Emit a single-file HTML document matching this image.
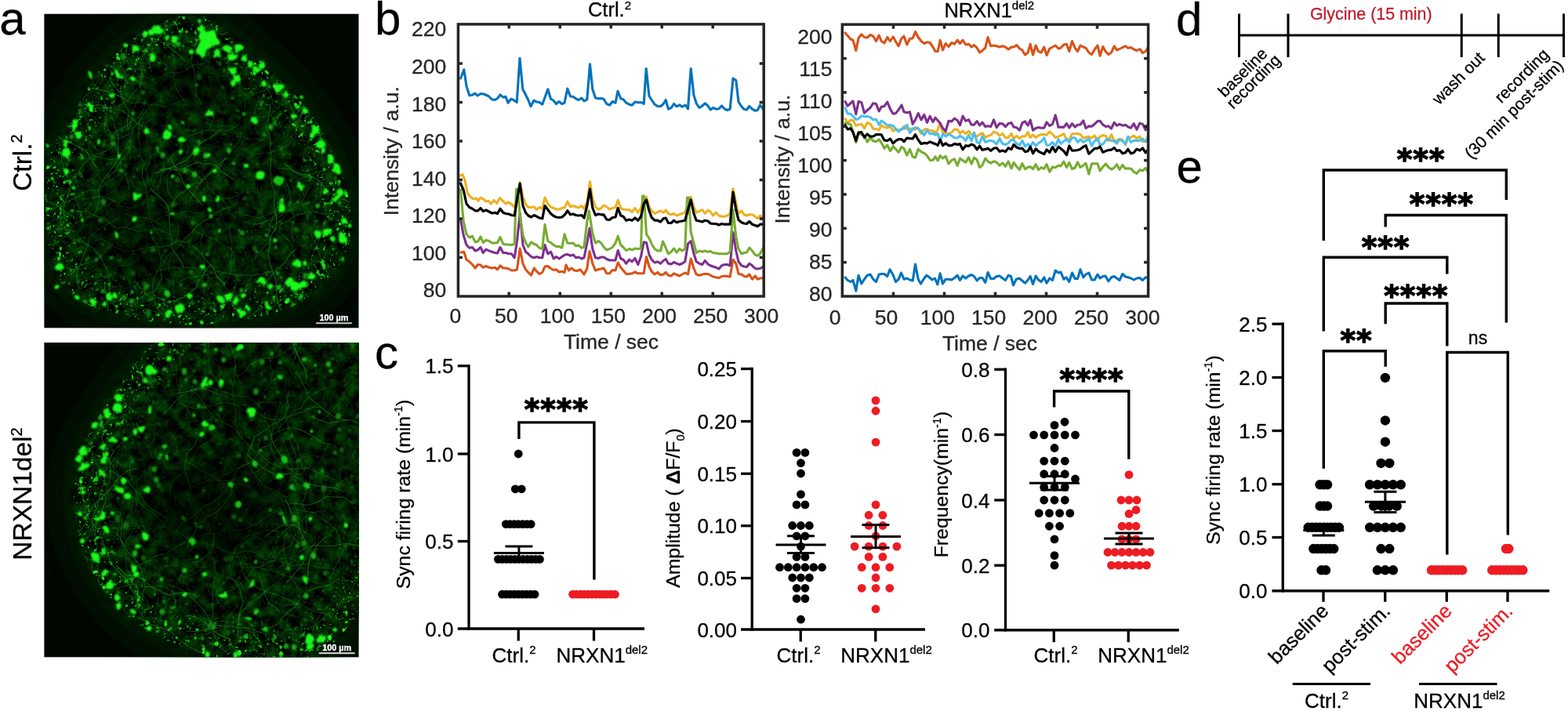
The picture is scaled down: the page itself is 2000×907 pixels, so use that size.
<!DOCTYPE html>
<html lang="en"><head><meta charset="utf-8"><title>Figure</title>
<style>
html,body{margin:0;padding:0;background:#fff;}
body{width:2000px;height:907px;overflow:hidden;}
svg{display:block;font-family:"Liberation Sans", sans-serif;}
</style></head><body>
<svg width="2000" height="907" viewBox="0 0 2000 907">
<defs><clipPath id="ic1"><rect x="56.2" y="17.5" width="401.5" height="401.1"/></clipPath>
<filter id="bl1a" x="-20%" y="-20%" width="140%" height="140%"><feGaussianBlur stdDeviation="7"/></filter>
<filter id="bl1b" x="-20%" y="-20%" width="140%" height="140%"><feGaussianBlur stdDeviation="12"/></filter>
<filter id="bl1c" x="0" y="0" width="1" height="1" filterUnits="objectBoundingBox"><feTurbulence type="fractalNoise" baseFrequency="0.06" numOctaves="2" seed="9" result="t"/><feDisplacementMap in="SourceGraphic" in2="t" scale="6" xChannelSelector="R" yChannelSelector="G"/><feGaussianBlur stdDeviation="1.05"/></filter>
<filter id="bl1e" x="0" y="0" width="1" height="1" filterUnits="objectBoundingBox"><feGaussianBlur stdDeviation="0.9"/></filter>
<filter id="bl1f" x="-30%" y="-30%" width="160%" height="160%"><feGaussianBlur stdDeviation="22"/></filter>
<filter id="bl1d" x="-30%" y="-30%" width="160%" height="160%"><feGaussianBlur stdDeviation="2.2"/></filter>
<filter id="tx1" x="0" y="0" width="1" height="1" filterUnits="objectBoundingBox" color-interpolation-filters="sRGB">
<feTurbulence type="fractalNoise" baseFrequency="0.07" numOctaves="5" seed="7"/>
<feColorMatrix type="matrix" values="0 0 0 0 0.01  0.5 0 0 0 -0.15  0 0 0 0 0.01  0 0 0 0 1"/></filter>
<filter id="sp1" x="0" y="0" width="1" height="1" filterUnits="objectBoundingBox" color-interpolation-filters="sRGB">
<feTurbulence type="fractalNoise" baseFrequency="0.11" numOctaves="2" seed="12"/>
<feColorMatrix type="matrix" values="0 0 0 0 0.12  0 0 0 0 0.95  0 0 0 0 0.10  0 8 0 0 -5.3"/></filter>
<filter id="sq1" x="0" y="0" width="1" height="1" filterUnits="objectBoundingBox" color-interpolation-filters="sRGB">
<feTurbulence type="fractalNoise" baseFrequency="0.25" numOctaves="2" seed="16"/>
<feColorMatrix type="matrix" values="0 0 0 0 0.10  0 0 0 0 0.85  0 0 0 0 0.08  0 0 8 0 -5.2"/></filter>
<mask id="mb1" maskUnits="userSpaceOnUse" x="56.2" y="17.5" width="401.5" height="401.1"><path d="M235.0 20.0 C245.8 18.7 255.8 18.7 265.0 22.0 C274.2 25.3 282.5 33.7 290.0 40.0 C297.5 46.3 302.5 53.3 310.0 60.0 C317.5 66.7 327.5 73.3 335.0 80.0 C342.5 86.7 347.5 92.5 355.0 100.0 C362.5 107.5 372.5 116.7 380.0 125.0 C387.5 133.3 394.2 141.7 400.0 150.0 C405.8 158.3 410.0 165.8 415.0 175.0 C420.0 184.2 425.8 195.0 430.0 205.0 C434.2 215.0 437.0 224.2 440.0 235.0 C443.0 245.8 446.8 259.2 448.0 270.0 C449.2 280.8 448.3 290.8 447.0 300.0 C445.7 309.2 443.7 316.7 440.0 325.0 C436.3 333.3 430.8 342.5 425.0 350.0 C419.2 357.5 412.5 363.7 405.0 370.0 C397.5 376.3 390.0 383.0 380.0 388.0 C370.0 393.0 356.7 396.7 345.0 400.0 C333.3 403.3 322.5 405.8 310.0 408.0 C297.5 410.2 283.3 412.0 270.0 413.0 C256.7 414.0 243.3 414.5 230.0 414.0 C216.7 413.5 203.3 412.3 190.0 410.0 C176.7 407.7 162.5 403.3 150.0 400.0 C137.5 396.7 124.7 394.0 115.0 390.0 C105.3 386.0 98.5 381.3 92.0 376.0 C85.5 370.7 80.2 364.8 76.0 358.0 C71.8 351.2 69.3 343.0 67.0 335.0 C64.7 327.0 63.5 322.5 62.0 310.0 C60.5 297.5 58.7 275.0 58.0 260.0 C57.3 245.0 57.2 231.7 58.0 220.0 C58.8 208.3 59.8 198.3 63.0 190.0 C66.2 181.7 72.2 177.0 77.0 170.0 C81.8 163.0 87.3 156.0 92.0 148.0 C96.7 140.0 100.7 130.0 105.0 122.0 C109.3 114.0 113.0 106.7 118.0 100.0 C123.0 93.3 128.8 88.3 135.0 82.0 C141.2 75.7 148.3 68.2 155.0 62.0 C161.7 55.8 167.5 50.3 175.0 45.0 C182.5 39.7 190.0 34.2 200.0 30.0 C210.0 25.8 224.2 21.3 235.0 20.0Z" fill="#fff" filter="url(#bl1a)"/></mask>
<mask id="mr1" maskUnits="userSpaceOnUse" x="56.2" y="17.5" width="401.5" height="401.1"><g clip-path="url(#oc1)"><rect x="56.2" y="17.5" width="401.5" height="401.1" fill="#2a2a2a"/><path d="M235.0 20.0 C245.8 18.7 255.8 18.7 265.0 22.0 C274.2 25.3 282.5 33.7 290.0 40.0 C297.5 46.3 302.5 53.3 310.0 60.0 C317.5 66.7 327.5 73.3 335.0 80.0 C342.5 86.7 347.5 92.5 355.0 100.0 C362.5 107.5 372.5 116.7 380.0 125.0 C387.5 133.3 394.2 141.7 400.0 150.0 C405.8 158.3 410.0 165.8 415.0 175.0 C420.0 184.2 425.8 195.0 430.0 205.0 C434.2 215.0 437.0 224.2 440.0 235.0 C443.0 245.8 446.8 259.2 448.0 270.0 C449.2 280.8 448.3 290.8 447.0 300.0 C445.7 309.2 443.7 316.7 440.0 325.0 C436.3 333.3 430.8 342.5 425.0 350.0 C419.2 357.5 412.5 363.7 405.0 370.0 C397.5 376.3 390.0 383.0 380.0 388.0 C370.0 393.0 356.7 396.7 345.0 400.0 C333.3 403.3 322.5 405.8 310.0 408.0 C297.5 410.2 283.3 412.0 270.0 413.0 C256.7 414.0 243.3 414.5 230.0 414.0 C216.7 413.5 203.3 412.3 190.0 410.0 C176.7 407.7 162.5 403.3 150.0 400.0 C137.5 396.7 124.7 394.0 115.0 390.0 C105.3 386.0 98.5 381.3 92.0 376.0 C85.5 370.7 80.2 364.8 76.0 358.0 C71.8 351.2 69.3 343.0 67.0 335.0 C64.7 327.0 63.5 322.5 62.0 310.0 C60.5 297.5 58.7 275.0 58.0 260.0 C57.3 245.0 57.2 231.7 58.0 220.0 C58.8 208.3 59.8 198.3 63.0 190.0 C66.2 181.7 72.2 177.0 77.0 170.0 C81.8 163.0 87.3 156.0 92.0 148.0 C96.7 140.0 100.7 130.0 105.0 122.0 C109.3 114.0 113.0 106.7 118.0 100.0 C123.0 93.3 128.8 88.3 135.0 82.0 C141.2 75.7 148.3 68.2 155.0 62.0 C161.7 55.8 167.5 50.3 175.0 45.0 C182.5 39.7 190.0 34.2 200.0 30.0 C210.0 25.8 224.2 21.3 235.0 20.0Z" fill="none" stroke="#fff" stroke-width="70" filter="url(#bl1b)"/></g></mask>
<clipPath id="oc1"><path d="M235.0 20.0 C245.8 18.7 255.8 18.7 265.0 22.0 C274.2 25.3 282.5 33.7 290.0 40.0 C297.5 46.3 302.5 53.3 310.0 60.0 C317.5 66.7 327.5 73.3 335.0 80.0 C342.5 86.7 347.5 92.5 355.0 100.0 C362.5 107.5 372.5 116.7 380.0 125.0 C387.5 133.3 394.2 141.7 400.0 150.0 C405.8 158.3 410.0 165.8 415.0 175.0 C420.0 184.2 425.8 195.0 430.0 205.0 C434.2 215.0 437.0 224.2 440.0 235.0 C443.0 245.8 446.8 259.2 448.0 270.0 C449.2 280.8 448.3 290.8 447.0 300.0 C445.7 309.2 443.7 316.7 440.0 325.0 C436.3 333.3 430.8 342.5 425.0 350.0 C419.2 357.5 412.5 363.7 405.0 370.0 C397.5 376.3 390.0 383.0 380.0 388.0 C370.0 393.0 356.7 396.7 345.0 400.0 C333.3 403.3 322.5 405.8 310.0 408.0 C297.5 410.2 283.3 412.0 270.0 413.0 C256.7 414.0 243.3 414.5 230.0 414.0 C216.7 413.5 203.3 412.3 190.0 410.0 C176.7 407.7 162.5 403.3 150.0 400.0 C137.5 396.7 124.7 394.0 115.0 390.0 C105.3 386.0 98.5 381.3 92.0 376.0 C85.5 370.7 80.2 364.8 76.0 358.0 C71.8 351.2 69.3 343.0 67.0 335.0 C64.7 327.0 63.5 322.5 62.0 310.0 C60.5 297.5 58.7 275.0 58.0 260.0 C57.3 245.0 57.2 231.7 58.0 220.0 C58.8 208.3 59.8 198.3 63.0 190.0 C66.2 181.7 72.2 177.0 77.0 170.0 C81.8 163.0 87.3 156.0 92.0 148.0 C96.7 140.0 100.7 130.0 105.0 122.0 C109.3 114.0 113.0 106.7 118.0 100.0 C123.0 93.3 128.8 88.3 135.0 82.0 C141.2 75.7 148.3 68.2 155.0 62.0 C161.7 55.8 167.5 50.3 175.0 45.0 C182.5 39.7 190.0 34.2 200.0 30.0 C210.0 25.8 224.2 21.3 235.0 20.0Z"/></clipPath>
<clipPath id="ic2"><rect x="56.2" y="437.0" width="401.5" height="401.6"/></clipPath>
<filter id="bl2a" x="-20%" y="-20%" width="140%" height="140%"><feGaussianBlur stdDeviation="7"/></filter>
<filter id="bl2b" x="-20%" y="-20%" width="140%" height="140%"><feGaussianBlur stdDeviation="12"/></filter>
<filter id="bl2c" x="0" y="0" width="1" height="1" filterUnits="objectBoundingBox"><feTurbulence type="fractalNoise" baseFrequency="0.06" numOctaves="2" seed="23" result="t"/><feDisplacementMap in="SourceGraphic" in2="t" scale="6" xChannelSelector="R" yChannelSelector="G"/><feGaussianBlur stdDeviation="1.05"/></filter>
<filter id="bl2e" x="0" y="0" width="1" height="1" filterUnits="objectBoundingBox"><feGaussianBlur stdDeviation="0.9"/></filter>
<filter id="bl2f" x="-30%" y="-30%" width="160%" height="160%"><feGaussianBlur stdDeviation="22"/></filter>
<filter id="bl2d" x="-30%" y="-30%" width="160%" height="160%"><feGaussianBlur stdDeviation="2.2"/></filter>
<filter id="tx2" x="0" y="0" width="1" height="1" filterUnits="objectBoundingBox" color-interpolation-filters="sRGB">
<feTurbulence type="fractalNoise" baseFrequency="0.07" numOctaves="5" seed="21"/>
<feColorMatrix type="matrix" values="0 0 0 0 0.01  0.5 0 0 0 -0.15  0 0 0 0 0.01  0 0 0 0 1"/></filter>
<filter id="sp2" x="0" y="0" width="1" height="1" filterUnits="objectBoundingBox" color-interpolation-filters="sRGB">
<feTurbulence type="fractalNoise" baseFrequency="0.11" numOctaves="2" seed="26"/>
<feColorMatrix type="matrix" values="0 0 0 0 0.12  0 0 0 0 0.95  0 0 0 0 0.10  0 8 0 0 -5.3"/></filter>
<filter id="sq2" x="0" y="0" width="1" height="1" filterUnits="objectBoundingBox" color-interpolation-filters="sRGB">
<feTurbulence type="fractalNoise" baseFrequency="0.25" numOctaves="2" seed="30"/>
<feColorMatrix type="matrix" values="0 0 0 0 0.10  0 0 0 0 0.85  0 0 0 0 0.08  0 0 8 0 -5.2"/></filter>
<mask id="mb2" maskUnits="userSpaceOnUse" x="56.2" y="437.0" width="401.5" height="401.6"><path d="M212.0 420.0 C192.0 431.7 188.7 445.0 180.0 455.0 C171.3 465.0 166.7 470.8 160.0 480.0 C153.3 489.2 146.7 500.0 140.0 510.0 C133.3 520.0 125.8 530.0 120.0 540.0 C114.2 550.0 108.8 560.0 105.0 570.0 C101.2 580.0 98.8 590.0 97.0 600.0 C95.2 610.0 94.2 620.0 94.0 630.0 C93.8 640.0 94.7 650.0 96.0 660.0 C97.3 670.0 99.3 680.3 102.0 690.0 C104.7 699.7 107.8 708.8 112.0 718.0 C116.2 727.2 121.5 736.7 127.0 745.0 C132.5 753.3 138.7 760.8 145.0 768.0 C151.3 775.2 157.5 781.8 165.0 788.0 C172.5 794.2 181.7 800.0 190.0 805.0 C198.3 810.0 205.8 813.8 215.0 818.0 C224.2 822.2 235.0 826.7 245.0 830.0 C255.0 833.3 262.5 835.5 275.0 838.0 C287.5 840.5 302.5 843.8 320.0 845.0 C337.5 846.2 364.2 847.8 380.0 845.0 C395.8 842.2 405.8 833.8 415.0 828.0 C424.2 822.2 429.2 816.0 435.0 810.0 C440.8 804.0 444.5 797.8 450.0 792.0 C455.5 786.2 459.7 790.3 468.0 775.0 C476.3 759.7 493.8 729.2 500.0 700.0 C506.2 670.8 505.0 633.3 505.0 600.0 C505.0 566.7 501.7 533.3 500.0 500.0 C498.3 466.7 511.7 419.2 495.0 400.0 C478.3 380.8 432.5 387.5 400.0 385.0 C367.5 382.5 331.3 379.2 300.0 385.0 C268.7 390.8 232.0 408.3 212.0 420.0Z" fill="#fff" filter="url(#bl2a)"/></mask>
<mask id="mr2" maskUnits="userSpaceOnUse" x="56.2" y="437.0" width="401.5" height="401.6"><g clip-path="url(#oc2)"><rect x="56.2" y="437.0" width="401.5" height="401.6" fill="#2a2a2a"/><path d="M212.0 420.0 C192.0 431.7 188.7 445.0 180.0 455.0 C171.3 465.0 166.7 470.8 160.0 480.0 C153.3 489.2 146.7 500.0 140.0 510.0 C133.3 520.0 125.8 530.0 120.0 540.0 C114.2 550.0 108.8 560.0 105.0 570.0 C101.2 580.0 98.8 590.0 97.0 600.0 C95.2 610.0 94.2 620.0 94.0 630.0 C93.8 640.0 94.7 650.0 96.0 660.0 C97.3 670.0 99.3 680.3 102.0 690.0 C104.7 699.7 107.8 708.8 112.0 718.0 C116.2 727.2 121.5 736.7 127.0 745.0 C132.5 753.3 138.7 760.8 145.0 768.0 C151.3 775.2 157.5 781.8 165.0 788.0 C172.5 794.2 181.7 800.0 190.0 805.0 C198.3 810.0 205.8 813.8 215.0 818.0 C224.2 822.2 235.0 826.7 245.0 830.0 C255.0 833.3 262.5 835.5 275.0 838.0 C287.5 840.5 302.5 843.8 320.0 845.0 C337.5 846.2 364.2 847.8 380.0 845.0 C395.8 842.2 405.8 833.8 415.0 828.0 C424.2 822.2 429.2 816.0 435.0 810.0 C440.8 804.0 444.5 797.8 450.0 792.0 C455.5 786.2 459.7 790.3 468.0 775.0 C476.3 759.7 493.8 729.2 500.0 700.0 C506.2 670.8 505.0 633.3 505.0 600.0 C505.0 566.7 501.7 533.3 500.0 500.0 C498.3 466.7 511.7 419.2 495.0 400.0 C478.3 380.8 432.5 387.5 400.0 385.0 C367.5 382.5 331.3 379.2 300.0 385.0 C268.7 390.8 232.0 408.3 212.0 420.0Z" fill="none" stroke="#fff" stroke-width="70" filter="url(#bl2b)"/></g></mask>
<clipPath id="oc2"><path d="M212.0 420.0 C192.0 431.7 188.7 445.0 180.0 455.0 C171.3 465.0 166.7 470.8 160.0 480.0 C153.3 489.2 146.7 500.0 140.0 510.0 C133.3 520.0 125.8 530.0 120.0 540.0 C114.2 550.0 108.8 560.0 105.0 570.0 C101.2 580.0 98.8 590.0 97.0 600.0 C95.2 610.0 94.2 620.0 94.0 630.0 C93.8 640.0 94.7 650.0 96.0 660.0 C97.3 670.0 99.3 680.3 102.0 690.0 C104.7 699.7 107.8 708.8 112.0 718.0 C116.2 727.2 121.5 736.7 127.0 745.0 C132.5 753.3 138.7 760.8 145.0 768.0 C151.3 775.2 157.5 781.8 165.0 788.0 C172.5 794.2 181.7 800.0 190.0 805.0 C198.3 810.0 205.8 813.8 215.0 818.0 C224.2 822.2 235.0 826.7 245.0 830.0 C255.0 833.3 262.5 835.5 275.0 838.0 C287.5 840.5 302.5 843.8 320.0 845.0 C337.5 846.2 364.2 847.8 380.0 845.0 C395.8 842.2 405.8 833.8 415.0 828.0 C424.2 822.2 429.2 816.0 435.0 810.0 C440.8 804.0 444.5 797.8 450.0 792.0 C455.5 786.2 459.7 790.3 468.0 775.0 C476.3 759.7 493.8 729.2 500.0 700.0 C506.2 670.8 505.0 633.3 505.0 600.0 C505.0 566.7 501.7 533.3 500.0 500.0 C498.3 466.7 511.7 419.2 495.0 400.0 C478.3 380.8 432.5 387.5 400.0 385.0 C367.5 382.5 331.3 379.2 300.0 385.0 C268.7 390.8 232.0 408.3 212.0 420.0Z"/></clipPath></defs>
<text x="-0.70" y="43.60" font-size="60" text-anchor="start" fill="#000" stroke="#000" stroke-width="0.3" >a</text>
<text x="478.00" y="44.00" font-size="60" text-anchor="start" fill="#000" stroke="#000" stroke-width="0.3" >b</text>
<text x="478.00" y="469.80" font-size="60" text-anchor="start" fill="#000" stroke="#000" stroke-width="0.3" >c</text>
<text x="1500.00" y="44.50" font-size="60" text-anchor="start" fill="#000" stroke="#000" stroke-width="0.3" >d</text>
<text x="1500.50" y="233.30" font-size="60" text-anchor="start" fill="#000" stroke="#000" stroke-width="0.3" >e</text>
<text x="39.60" y="207.60" font-size="33.5" text-anchor="middle" fill="#000" stroke="#000" stroke-width="0.3" transform="rotate(-90 39.60 207.60)" >Ctrl.<tspan font-size="20" dy="-12">2</tspan></text>
<text x="39.60" y="630.00" font-size="33.5" text-anchor="middle" fill="#000" stroke="#000" stroke-width="0.3" transform="rotate(-90 39.60 630.00)" >NRXN1del<tspan font-size="20" dy="-12">2</tspan></text>
<g clip-path="url(#ic1)">
<rect x="56.2" y="17.5" width="401.5" height="401.1" fill="#010701"/>
<path d="M235.0 20.0 C245.8 18.7 255.8 18.7 265.0 22.0 C274.2 25.3 282.5 33.7 290.0 40.0 C297.5 46.3 302.5 53.3 310.0 60.0 C317.5 66.7 327.5 73.3 335.0 80.0 C342.5 86.7 347.5 92.5 355.0 100.0 C362.5 107.5 372.5 116.7 380.0 125.0 C387.5 133.3 394.2 141.7 400.0 150.0 C405.8 158.3 410.0 165.8 415.0 175.0 C420.0 184.2 425.8 195.0 430.0 205.0 C434.2 215.0 437.0 224.2 440.0 235.0 C443.0 245.8 446.8 259.2 448.0 270.0 C449.2 280.8 448.3 290.8 447.0 300.0 C445.7 309.2 443.7 316.7 440.0 325.0 C436.3 333.3 430.8 342.5 425.0 350.0 C419.2 357.5 412.5 363.7 405.0 370.0 C397.5 376.3 390.0 383.0 380.0 388.0 C370.0 393.0 356.7 396.7 345.0 400.0 C333.3 403.3 322.5 405.8 310.0 408.0 C297.5 410.2 283.3 412.0 270.0 413.0 C256.7 414.0 243.3 414.5 230.0 414.0 C216.7 413.5 203.3 412.3 190.0 410.0 C176.7 407.7 162.5 403.3 150.0 400.0 C137.5 396.7 124.7 394.0 115.0 390.0 C105.3 386.0 98.5 381.3 92.0 376.0 C85.5 370.7 80.2 364.8 76.0 358.0 C71.8 351.2 69.3 343.0 67.0 335.0 C64.7 327.0 63.5 322.5 62.0 310.0 C60.5 297.5 58.7 275.0 58.0 260.0 C57.3 245.0 57.2 231.7 58.0 220.0 C58.8 208.3 59.8 198.3 63.0 190.0 C66.2 181.7 72.2 177.0 77.0 170.0 C81.8 163.0 87.3 156.0 92.0 148.0 C96.7 140.0 100.7 130.0 105.0 122.0 C109.3 114.0 113.0 106.7 118.0 100.0 C123.0 93.3 128.8 88.3 135.0 82.0 C141.2 75.7 148.3 68.2 155.0 62.0 C161.7 55.8 167.5 50.3 175.0 45.0 C182.5 39.7 190.0 34.2 200.0 30.0 C210.0 25.8 224.2 21.3 235.0 20.0Z" fill="#031c03" stroke="#031c03" stroke-width="30" filter="url(#bl1f)"/>
<g mask="url(#mb1)"><rect x="56.2" y="17.5" width="401.5" height="401.1" filter="url(#tx1)"/></g>
<g mask="url(#mr1)"><rect x="56.2" y="17.5" width="401.5" height="401.1" filter="url(#sp1)"/><rect x="56.2" y="17.5" width="401.5" height="401.1" filter="url(#sq1)"/></g>
<g clip-path="url(#oc1)" fill="none" stroke="#1c9a1c" stroke-linecap="round">
<path d="M193.3 92.0 Q192.2 85.3 190.1 78.7 Q185.9 74.2 182.7 67.4 Q179.8 60.8 176.2 56.0" stroke-width="1.04" opacity="0.45"/>
<path d="M98.6 248.9 Q111.0 241.3 125.3 242.6 Q133.5 235.2 138.9 231.4 Q147.7 225.3 158.4 218.3 Q159.4 213.0 164.1 206.5" stroke-width="0.90" opacity="0.36"/>
<path d="M287.9 201.2 Q283.1 208.0 279.3 215.1 Q270.4 216.2 258.1 228.7 Q251.1 238.2 248.0 245.4 Q243.9 249.8 241.6 256.3" stroke-width="1.00" opacity="0.56"/>
<path d="M189.6 288.5 Q182.9 286.7 176.0 287.5 Q165.9 292.1 153.3 298.4 Q143.3 296.8 133.8 302.9 Q121.5 307.2 107.3 314.5 Q100.9 316.0 92.8 321.0 Q80.6 332.0 68.4 335.8" stroke-width="0.88" opacity="0.35"/>
<path d="M125.8 193.0 Q117.1 185.8 110.6 174.0 Q104.4 174.6 97.1 168.2 Q90.7 165.0 86.4 157.3 Q77.3 152.2 71.0 140.2 Q68.9 125.7 62.3 112.5 Q63.7 98.8 52.7 86.5" stroke-width="0.99" opacity="0.39"/>
<path d="M218.7 211.4 Q218.0 219.0 212.2 225.7 Q214.8 231.0 213.5 237.7 Q212.9 243.8 216.9 249.7 Q223.1 255.2 227.5 262.3" stroke-width="0.69" opacity="0.55"/>
<path d="M435.1 205.8 Q422.9 212.4 413.1 218.6 Q404.3 217.0 392.8 224.9 Q380.6 227.4 370.9 235.8" stroke-width="0.81" opacity="0.48"/>
<path d="M109.2 342.8 Q101.2 343.2 93.2 343.7 Q82.5 339.6 70.3 341.2 Q62.6 340.9 54.5 345.4 Q44.9 346.8 37.5 357.5" stroke-width="1.15" opacity="0.42"/>
<path d="M146.2 256.0 Q139.2 262.0 129.4 263.8 Q123.3 266.8 118.4 275.0 Q108.4 275.9 99.3 282.8 Q88.7 289.6 84.2 301.3 Q77.9 304.3 67.1 312.7" stroke-width="0.83" opacity="0.53"/>
<path d="M427.4 180.4 Q421.7 185.3 413.2 185.6 Q400.3 179.7 387.0 182.0 Q376.9 173.8 368.9 166.4" stroke-width="0.69" opacity="0.25"/>
<path d="M427.1 272.1 Q414.4 274.9 399.5 269.7 Q391.8 270.7 382.6 273.3 Q376.3 274.1 365.5 282.6 Q357.1 285.3 349.7 295.3" stroke-width="0.89" opacity="0.57"/>
<path d="M257.5 229.5 Q247.6 219.6 236.0 215.0 Q229.1 216.5 221.7 212.4 Q210.2 216.8 198.9 220.8" stroke-width="1.14" opacity="0.56"/>
<path d="M96.8 106.6 Q106.3 113.6 118.1 112.6 Q129.3 115.1 140.6 117.3 Q149.6 121.4 158.9 125.9" stroke-width="1.26" opacity="0.49"/>
<path d="M393.0 377.7 Q392.4 384.3 386.5 390.6 Q390.2 398.7 387.2 406.9 Q387.9 419.2 379.0 433.8 Q373.4 438.0 372.2 446.7" stroke-width="0.75" opacity="0.58"/>
<path d="M220.2 213.5 Q229.1 207.6 237.8 204.5 Q245.1 195.9 249.7 191.3 Q252.8 183.3 264.0 177.5 Q269.2 176.0 281.3 165.1" stroke-width="1.15" opacity="0.59"/>
<path d="M114.1 133.4 Q121.3 136.1 128.5 133.0 Q136.8 138.9 144.1 138.8 Q156.4 138.8 166.3 149.3 Q175.9 158.1 181.8 161.5" stroke-width="1.04" opacity="0.53"/>
<path d="M106.5 346.6 Q114.8 353.1 123.5 353.1 Q130.6 351.8 137.7 354.3 Q142.7 349.6 151.6 348.7" stroke-width="0.82" opacity="0.36"/>
<path d="M350.7 142.2 Q337.8 151.1 325.2 149.4 Q315.4 157.3 311.4 165.3 Q305.9 173.8 303.3 183.7 Q294.2 188.9 291.0 201.7" stroke-width="0.82" opacity="0.33"/>
<path d="M159.2 109.3 Q161.7 100.7 171.2 95.5 Q170.6 82.9 176.2 70.6 Q177.2 57.2 168.2 44.7 Q162.5 38.0 159.5 30.8" stroke-width="0.71" opacity="0.41"/>
<path d="M171.4 384.8 Q182.9 376.2 197.5 371.2 Q201.7 362.9 206.4 354.6 Q202.7 344.1 209.2 333.7 Q202.2 327.3 202.5 315.7 Q198.6 308.9 193.5 302.3" stroke-width="1.13" opacity="0.48"/>
<path d="M335.0 354.9 Q326.7 358.1 316.0 363.6 Q305.2 373.6 298.4 383.9 Q291.1 390.1 283.9 403.8 Q273.4 413.8 266.0 417.0 Q253.1 416.4 241.9 427.6" stroke-width="1.05" opacity="0.28"/>
<path d="M91.4 267.5 Q102.0 270.5 113.2 270.8 Q123.5 277.2 132.6 278.2 Q140.7 286.0 149.2 291.2 Q161.8 287.7 174.2 294.8 Q185.6 296.1 199.1 291.3 Q209.1 295.5 218.1 300.1" stroke-width="1.08" opacity="0.52"/>
<path d="M299.2 269.6 Q309.8 274.3 322.0 276.3 Q332.2 279.5 342.4 273.1 Q348.8 269.8 355.2 263.6 Q363.5 259.6 368.0 247.7" stroke-width="0.98" opacity="0.36"/>
<path d="M107.3 208.3 Q99.2 221.8 89.9 232.0 Q90.0 245.6 81.8 259.9 Q78.5 269.2 84.9 281.1" stroke-width="1.17" opacity="0.43"/>
<path d="M396.7 291.5 Q395.2 298.9 400.3 305.9 Q405.7 317.0 409.1 329.4 Q416.6 334.4 422.2 341.7 Q435.8 343.9 445.4 358.9 Q452.7 364.9 455.4 372.1 Q453.9 378.8 458.1 385.2" stroke-width="1.20" opacity="0.35"/>
<path d="M94.9 276.5 Q87.8 274.6 80.6 267.8 Q70.2 258.3 53.6 256.5 Q45.9 248.5 29.4 241.6 Q26.2 237.2 20.6 232.2" stroke-width="1.13" opacity="0.48"/>
<path d="M179.7 55.2 Q184.3 46.6 192.5 40.5 Q201.8 31.8 212.5 27.7 Q219.3 22.6 232.5 14.4 Q239.9 5.3 242.0 -4.3" stroke-width="0.92" opacity="0.37"/>
<path d="M350.6 191.9 Q343.1 195.8 332.8 195.3 Q321.7 197.8 313.1 205.6 Q304.8 211.9 296.9 216.3 Q293.3 218.4 287.5 225.6" stroke-width="0.69" opacity="0.43"/>
<path d="M303.8 349.0 Q300.0 358.3 298.9 367.3 Q292.4 379.9 297.9 394.0 Q294.7 405.7 299.3 419.7 Q296.9 425.9 300.1 433.0 Q301.0 442.8 300.8 453.4" stroke-width="0.76" opacity="0.30"/>
<path d="M427.5 76.9 Q421.0 64.9 426.8 50.9 Q428.5 45.4 427.6 38.2 Q429.2 28.7 432.1 17.2 Q433.6 9.9 427.4 0.4 Q416.0 -11.0 413.6 -21.8 Q412.3 -29.7 414.2 -38.8" stroke-width="0.77" opacity="0.43"/>
<path d="M273.9 48.1 Q268.0 54.4 266.7 61.8 Q267.5 69.8 267.1 77.9 Q264.7 90.0 267.7 102.5 Q269.9 108.4 269.6 114.4 Q278.2 124.1 282.6 130.8" stroke-width="0.74" opacity="0.41"/>
<path d="M172.0 358.6 Q181.8 371.8 191.3 379.1 Q199.9 377.3 213.1 385.5 Q223.7 384.6 234.9 379.1 Q243.9 371.5 250.7 366.6 Q251.4 360.0 256.4 354.5 Q262.4 344.8 268.9 337.1" stroke-width="1.11" opacity="0.54"/>
<path d="M432.2 197.3 Q438.1 197.7 448.9 204.7 Q454.2 212.3 457.7 217.8 Q463.8 227.4 461.8 237.2" stroke-width="0.86" opacity="0.57"/>
<path d="M146.0 169.0 Q153.7 164.5 160.6 161.3 Q170.2 152.3 176.9 149.2 Q181.0 143.2 183.9 138.1" stroke-width="0.83" opacity="0.58"/>
<path d="M92.0 307.0 Q85.7 295.1 77.4 286.7 Q79.0 280.9 76.3 273.6 Q80.7 264.5 79.8 253.5 Q83.7 243.0 96.3 232.6 Q94.6 218.7 98.5 203.9" stroke-width="0.71" opacity="0.33"/>
<path d="M387.5 203.9 Q386.4 194.5 391.8 185.3 Q396.3 175.0 399.9 166.3 Q399.2 160.1 404.3 153.1" stroke-width="0.75" opacity="0.40"/>
<path d="M433.4 388.5 Q438.0 399.4 446.2 407.8 Q452.4 419.6 450.1 431.5 Q455.9 442.4 459.1 451.8 Q466.1 455.4 470.6 463.5" stroke-width="1.22" opacity="0.45"/>
<path d="M194.2 180.5 Q201.1 178.3 207.9 182.3 Q218.3 175.5 232.8 169.9 Q241.7 157.8 255.6 153.9 Q264.9 143.2 279.2 141.1" stroke-width="0.96" opacity="0.31"/>
<path d="M294.2 317.3 Q285.4 314.2 274.9 305.2 Q267.7 304.1 261.6 299.5 Q250.0 299.1 241.0 287.6" stroke-width="0.83" opacity="0.49"/>
<path d="M143.2 150.3 Q147.1 156.4 146.2 163.0 Q152.7 173.3 150.3 186.2 Q151.8 195.8 149.2 205.5 Q143.7 213.4 139.2 220.0 Q127.6 232.9 125.9 244.2 Q127.9 255.9 122.4 269.0" stroke-width="1.23" opacity="0.40"/>
<path d="M372.7 184.2 Q377.4 179.2 385.9 178.5 Q395.4 182.1 405.0 177.7 Q412.5 177.0 419.6 181.4 Q426.0 182.0 432.7 179.4 Q445.9 186.2 458.7 184.7 Q470.9 181.3 485.4 175.0" stroke-width="1.05" opacity="0.28"/>
<path d="M333.7 286.0 Q341.3 279.8 353.5 274.2 Q359.8 269.6 364.9 268.5 Q372.1 266.2 376.8 259.8 Q387.8 249.6 391.9 236.4" stroke-width="1.07" opacity="0.36"/>
<path d="M217.1 202.1 Q221.7 195.3 229.7 189.9 Q233.1 179.4 242.3 173.0 Q251.7 170.7 261.5 166.1 Q274.2 165.2 288.6 167.1 Q296.1 165.4 304.9 158.5" stroke-width="0.95" opacity="0.48"/>
<path d="M91.0 84.6 Q99.7 83.0 111.9 81.3 Q123.4 82.1 139.7 72.6 Q150.0 72.4 163.8 79.9 Q166.3 89.9 177.2 95.8 Q185.4 96.2 200.6 107.6" stroke-width="0.85" opacity="0.51"/>
<path d="M133.6 361.2 Q132.1 370.1 139.3 381.5 Q146.4 387.0 150.4 399.4 Q154.0 404.8 162.4 408.2 Q163.7 413.2 169.1 421.7 Q175.4 433.4 178.8 443.1 Q178.5 451.2 186.7 464.1" stroke-width="1.30" opacity="0.47"/>
<path d="M218.7 325.5 Q214.7 334.7 215.3 343.7 Q223.1 356.3 220.4 368.5 Q220.6 379.3 231.7 389.2 Q238.0 395.5 236.9 406.0 Q245.1 414.8 252.2 423.3" stroke-width="1.23" opacity="0.30"/>
<path d="M158.4 273.3 Q166.9 275.5 175.4 277.1 Q183.9 277.0 192.7 279.2 Q200.2 284.6 205.7 286.4" stroke-width="1.10" opacity="0.41"/>
<path d="M99.3 89.8 Q91.7 82.5 89.2 76.4 Q85.4 69.0 79.2 61.1 Q75.5 49.2 78.0 35.9 Q71.1 28.8 65.8 18.1 Q52.9 11.9 42.4 6.9" stroke-width="1.26" opacity="0.30"/>
<path d="M148.4 257.1 Q141.0 255.4 134.5 250.9 Q120.7 249.6 106.7 254.3 Q94.6 263.6 86.2 272.1 Q78.5 279.5 67.8 280.4 Q63.9 283.5 58.5 289.0 Q45.5 298.3 34.8 302.4" stroke-width="0.99" opacity="0.40"/>
<path d="M361.2 226.4 Q368.2 237.0 369.4 245.9 Q372.0 253.0 369.3 261.5 Q371.7 270.0 376.0 279.3 Q368.6 292.5 374.3 307.9" stroke-width="0.98" opacity="0.42"/>
<path d="M268.0 39.9 Q276.8 43.1 285.0 44.2 Q296.6 34.8 312.5 37.0 Q321.6 24.3 333.9 17.9 Q336.8 12.1 337.4 5.7" stroke-width="1.09" opacity="0.51"/>
<path d="M100.0 250.7 Q87.5 257.1 76.5 260.7 Q73.4 262.7 64.6 270.9 Q54.2 270.4 39.6 276.3" stroke-width="1.04" opacity="0.42"/>
<path d="M124.2 323.4 Q114.6 319.1 109.2 310.8 Q97.4 307.5 86.7 300.1 Q84.4 290.7 75.3 282.4 Q66.3 276.1 57.7 274.2 Q45.9 274.6 33.8 268.1" stroke-width="1.20" opacity="0.28"/>
<path d="M372.5 99.1 Q382.3 94.1 397.3 92.8 Q408.5 89.7 415.5 76.5 Q427.5 68.9 439.3 59.5 Q450.4 46.7 453.0 36.6" stroke-width="0.72" opacity="0.58"/>
<path d="M353.4 214.5 Q362.6 214.5 371.7 216.3 Q375.6 217.0 383.1 223.6 Q390.0 225.4 399.5 227.1" stroke-width="0.87" opacity="0.56"/>
<path d="M160.7 203.9 Q152.2 200.8 142.8 203.6 Q130.2 201.8 118.0 198.3 Q106.9 193.0 98.8 186.8" stroke-width="1.22" opacity="0.33"/>
<path d="M145.5 146.4 Q148.4 131.7 144.7 116.9 Q146.7 109.5 141.4 101.0 Q141.4 87.8 151.3 72.7 Q148.6 65.6 150.9 58.0" stroke-width="0.81" opacity="0.35"/>
<path d="M115.8 366.6 Q112.8 372.7 113.9 378.7 Q119.5 390.4 119.3 407.8 Q129.7 417.2 130.9 430.3 Q130.4 442.6 132.1 454.9 Q126.2 463.8 123.6 477.3 Q120.6 488.3 112.1 496.7" stroke-width="0.69" opacity="0.40"/>
<path d="M170.2 290.5 Q182.3 283.8 193.7 282.6 Q203.4 277.7 212.2 274.5 Q224.7 273.8 240.3 268.7 Q249.8 274.0 259.2 271.1" stroke-width="0.63" opacity="0.44"/>
<path d="M134.4 319.8 Q142.1 313.1 149.1 303.0 Q159.4 294.4 164.8 285.5 Q169.6 275.5 181.9 261.9 Q183.4 254.8 194.1 239.3 Q194.8 233.0 198.3 227.0" stroke-width="0.61" opacity="0.40"/>
<path d="M228.2 289.6 Q227.6 296.7 225.2 306.8 Q211.3 318.2 205.1 328.9 Q206.5 340.5 195.6 356.1 Q193.4 367.4 196.4 379.6 Q197.9 391.4 207.0 401.1" stroke-width="0.89" opacity="0.60"/>
<path d="M350.9 272.1 Q347.9 258.5 351.2 244.7 Q345.7 237.8 345.7 225.9 Q343.4 217.5 345.5 208.8 Q346.4 199.0 344.6 189.1 Q346.8 177.7 338.8 161.0 Q345.2 147.1 344.0 133.2" stroke-width="1.18" opacity="0.47"/>
<path d="M81.7 41.7 Q85.7 36.4 93.1 33.9 Q100.5 35.1 110.6 29.0 Q117.3 30.4 125.6 30.1 Q133.9 37.9 147.6 39.8 Q151.7 45.7 158.2 51.2" stroke-width="1.12" opacity="0.40"/>
<path d="M395.2 237.9 Q390.0 247.1 385.7 256.1 Q377.6 266.0 365.4 270.0 Q356.8 277.7 343.0 281.7 Q333.6 284.6 322.7 286.8" stroke-width="0.90" opacity="0.60"/>
<path d="M320.5 102.7 Q318.3 108.0 319.0 115.5 Q315.9 120.5 312.6 127.5 Q312.8 135.1 311.6 143.4" stroke-width="0.67" opacity="0.48"/>
<path d="M199.6 318.6 Q190.7 321.8 181.5 317.1 Q172.5 320.2 163.4 320.3 Q150.0 318.7 138.0 309.3 Q130.9 305.2 125.0 303.8" stroke-width="0.69" opacity="0.59"/>
<path d="M107.9 397.3 Q103.3 403.0 97.1 404.4 Q87.6 414.6 80.6 427.7 Q68.1 434.3 57.3 443.8 Q45.8 447.1 35.2 454.6 Q27.2 460.7 18.5 471.8 Q19.8 478.2 14.1 486.4" stroke-width="1.24" opacity="0.48"/>
<path d="M209.6 334.5 Q211.1 327.0 219.0 322.4 Q229.3 314.2 234.2 306.0 Q245.8 295.6 252.9 286.7 Q258.1 283.1 269.2 276.4 Q283.5 265.7 296.0 263.3" stroke-width="1.14" opacity="0.44"/>
<path d="M106.2 208.0 Q111.4 206.5 115.2 199.8 Q121.3 197.1 130.4 194.9 Q139.3 191.2 148.9 182.7" stroke-width="1.25" opacity="0.38"/>
<path d="M346.3 288.4 Q355.0 296.5 363.7 301.9 Q374.7 310.7 375.8 327.6 Q385.7 336.8 398.8 343.4" stroke-width="0.87" opacity="0.36"/>
<path d="M293.1 383.3 Q300.6 369.3 302.1 355.6 Q295.4 341.9 299.5 326.3 Q293.0 313.4 287.1 303.0" stroke-width="0.92" opacity="0.35"/>
<path d="M349.0 158.1 Q347.2 170.1 334.2 178.3 Q323.0 186.3 314.9 189.9 Q306.3 197.5 300.3 201.6 Q292.8 211.7 282.1 218.0 Q273.1 228.8 270.3 244.0" stroke-width="0.80" opacity="0.30"/>
<path d="M398.1 396.0 Q402.8 401.8 408.1 405.1 Q416.9 406.5 431.8 414.5 Q442.5 417.1 452.9 426.3 Q464.1 428.5 477.8 431.8 Q491.1 424.9 503.3 424.4 Q517.1 422.1 531.0 419.2" stroke-width="0.93" opacity="0.46"/>
<path d="M144.6 107.0 Q151.7 116.2 157.1 125.3 Q160.3 127.9 168.1 132.0 Q179.0 128.9 191.4 133.7 Q200.3 131.2 209.2 137.2 Q224.2 131.7 237.1 126.6" stroke-width="1.00" opacity="0.34"/>
<path d="M357.8 191.3 Q361.6 186.2 368.1 183.8 Q371.2 179.4 373.6 172.1 Q384.0 157.6 384.6 145.3 Q385.8 139.8 393.9 128.5" stroke-width="0.78" opacity="0.45"/>
<path d="M307.8 382.8 Q296.2 377.2 286.6 365.5 Q285.3 358.1 277.9 353.3 Q266.9 345.1 257.8 344.3 Q247.9 340.2 236.8 341.5 Q229.9 344.1 223.0 340.0 Q210.5 343.8 198.4 346.3" stroke-width="1.06" opacity="0.41"/>
<path d="M210.6 178.4 Q210.3 185.2 204.4 193.4 Q210.4 203.3 209.3 217.9 Q203.9 224.1 204.4 233.0 Q199.5 239.8 194.1 243.3 Q180.7 247.6 168.0 250.7 Q156.1 255.1 144.0 262.7" stroke-width="0.70" opacity="0.33"/>
<path d="M96.8 295.2 Q89.5 295.1 82.6 291.4 Q72.9 291.4 61.4 298.1 Q55.7 302.2 49.8 306.0 Q43.0 313.0 38.5 324.0" stroke-width="1.25" opacity="0.45"/>
<path d="M378.1 80.6 Q375.5 72.6 377.2 63.9 Q372.4 54.3 373.7 44.7 Q377.4 37.8 379.3 31.2 Q382.8 23.1 387.5 11.7 Q393.6 4.1 401.3 1.5" stroke-width="0.89" opacity="0.35"/>
<path d="M141.6 342.0 Q133.8 342.2 127.2 336.1 Q117.2 333.8 109.0 325.7 Q102.0 317.4 89.4 310.6 Q83.7 309.3 76.8 306.8" stroke-width="1.11" opacity="0.27"/>
<path d="M369.2 158.6 Q372.5 149.3 370.9 139.3 Q373.7 133.4 375.5 123.5 Q373.1 111.2 368.9 99.7 Q369.2 90.5 356.5 73.7 Q354.2 65.7 347.0 60.3 Q344.2 46.6 339.3 33.8" stroke-width="0.80" opacity="0.29"/>
<path d="M340.4 198.7 Q351.7 188.9 367.3 186.9 Q374.3 178.8 377.7 174.0 Q376.4 162.3 382.5 149.9 Q386.2 140.2 389.4 128.7" stroke-width="0.67" opacity="0.55"/>
<path d="M335.4 53.9 Q346.8 60.0 351.9 73.6 Q357.1 83.1 356.9 94.8 Q358.2 104.1 357.5 115.1 Q362.2 125.3 370.9 134.3 Q371.0 138.1 376.8 145.5 Q379.7 154.2 388.4 160.8" stroke-width="1.19" opacity="0.45"/>
<path d="M432.5 153.3 Q426.7 159.4 422.7 164.1 Q415.0 172.6 400.5 173.3 Q396.2 178.3 387.7 185.6" stroke-width="0.76" opacity="0.40"/>
<path d="M219.7 397.6 Q207.3 402.9 191.9 395.4 Q184.3 395.2 175.7 391.2 Q162.6 390.5 148.3 382.8" stroke-width="0.96" opacity="0.40"/>
<path d="M419.9 141.3 Q416.0 152.6 422.3 163.9 Q425.8 171.5 430.0 182.8 Q436.2 187.1 440.6 192.4 Q448.8 196.6 455.2 200.0" stroke-width="1.19" opacity="0.46"/>
<path d="M282.3 272.3 Q284.9 282.5 289.9 292.8 Q296.1 299.7 298.9 306.5 Q309.4 313.8 313.7 323.4 Q315.6 331.2 318.4 339.1 Q328.5 353.4 333.8 364.5" stroke-width="0.71" opacity="0.27"/>
<path d="M391.1 196.4 Q395.7 203.1 404.0 209.4 Q401.1 221.1 408.7 233.2 Q410.7 240.4 408.5 247.7 Q416.9 261.2 415.5 273.9 Q415.2 287.8 408.1 302.9 Q404.3 315.3 398.4 325.6" stroke-width="0.89" opacity="0.44"/>
<path d="M118.7 181.0 Q131.4 180.6 144.6 177.3 Q154.1 176.7 163.9 171.6 Q172.3 165.8 180.2 161.9 Q192.3 153.0 199.4 144.1" stroke-width="0.91" opacity="0.31"/>
<path d="M186.1 89.9 Q172.1 85.4 157.6 90.5 Q143.0 86.0 130.5 79.5 Q124.9 74.6 122.7 70.1 Q116.8 58.8 104.4 48.2" stroke-width="1.30" opacity="0.43"/>
<path d="M263.2 284.9 Q259.9 296.8 255.5 307.8 Q257.7 315.7 258.5 323.6 Q263.6 337.2 259.0 352.4 Q257.4 361.6 261.1 371.5 Q258.1 382.7 261.2 395.9" stroke-width="0.85" opacity="0.38"/>
<path d="M103.4 149.7 Q100.1 162.9 109.8 175.7 Q113.6 182.7 114.6 189.7 Q119.3 197.2 119.6 204.2 Q117.0 213.4 123.3 222.2 Q127.7 227.9 136.6 236.4" stroke-width="1.08" opacity="0.25"/>
<path d="M186.3 341.6 Q176.1 342.2 165.7 337.9 Q158.5 333.4 145.4 330.4 Q138.4 327.0 131.7 326.9" stroke-width="0.67" opacity="0.29"/>
<path d="M137.9 226.2 Q140.1 223.2 147.6 217.3 Q153.2 205.4 161.9 197.0 Q166.5 190.7 166.4 183.9 Q166.8 174.3 169.5 164.1 Q179.4 154.6 182.6 145.8 Q185.1 142.8 194.0 133.9" stroke-width="1.20" opacity="0.36"/>
<path d="M401.1 332.1 Q390.9 340.5 384.8 345.3 Q379.1 355.8 367.7 363.4 Q357.4 369.4 348.3 370.8 Q343.9 373.3 334.9 383.4 Q332.9 392.5 323.1 402.1" stroke-width="0.87" opacity="0.39"/>
<path d="M99.9 82.1 Q104.5 73.3 109.7 65.8 Q109.6 59.7 117.3 50.6 Q116.2 43.5 119.5 36.4 Q124.4 28.7 130.0 17.1 Q129.1 7.8 133.5 -1.2" stroke-width="1.04" opacity="0.45"/>
<path d="M183.7 209.4 Q177.8 223.8 185.9 238.2 Q187.6 252.7 190.3 267.7 Q189.4 274.9 192.2 281.9 Q197.4 294.7 208.2 304.0 Q220.7 302.7 231.3 313.3 Q238.9 317.6 251.1 327.8" stroke-width="0.73" opacity="0.56"/>
<path d="M100.9 367.4 Q95.6 355.3 100.3 342.5 Q102.4 335.2 107.0 324.6 Q112.1 315.5 114.3 302.4 Q119.2 299.2 125.6 292.3 Q133.5 288.1 150.2 278.7" stroke-width="0.92" opacity="0.60"/>
<path d="M221.0 364.6 Q234.2 369.7 249.1 368.9 Q253.8 364.8 260.8 364.0 Q265.1 357.1 276.0 352.8 Q283.5 349.8 289.6 345.9 Q297.6 345.7 305.8 342.4" stroke-width="0.84" opacity="0.25"/>
<path d="M377.7 317.9 Q369.1 322.4 363.6 335.4 Q359.5 337.9 353.7 343.3 Q345.4 351.5 335.2 364.9" stroke-width="1.30" opacity="0.47"/>
<path d="M156.1 227.9 Q151.3 234.6 146.5 243.3 Q136.9 248.2 127.5 256.7 Q117.6 264.3 113.7 276.5 Q107.0 281.2 105.1 289.3 Q102.6 293.7 95.7 301.2 Q89.7 309.5 90.0 316.8" stroke-width="0.84" opacity="0.28"/>
<path d="M306.3 87.1 Q302.7 79.1 303.1 71.1 Q297.3 58.2 295.6 43.3 Q297.5 36.0 298.5 29.0 Q306.6 18.4 310.4 10.7 Q318.1 4.9 326.4 -5.6 Q332.2 -9.1 339.4 -11.0" stroke-width="0.74" opacity="0.27"/>
<path d="M177.8 108.7 Q179.2 101.6 181.5 94.3 Q176.6 83.3 181.5 72.2 Q189.0 62.7 192.7 54.8 Q199.8 52.7 205.4 43.9 Q213.5 34.0 225.0 26.6 Q228.9 19.5 231.0 10.6" stroke-width="1.09" opacity="0.48"/>
<path d="M104.5 307.4 Q112.9 313.0 119.1 316.7 Q130.6 330.4 135.1 340.5 Q139.6 351.6 140.0 365.4 Q139.4 374.0 136.5 382.8 Q139.4 395.1 135.4 409.8 Q130.4 420.8 132.6 432.9" stroke-width="1.23" opacity="0.58"/>
<path d="M254.9 217.9 Q263.4 226.5 265.2 238.8 Q275.0 249.5 283.5 253.5 Q290.5 262.0 292.8 271.9 Q300.2 277.9 312.6 283.6 Q318.9 285.7 325.8 285.1" stroke-width="1.22" opacity="0.27"/>
<path d="M79.5 382.7 Q81.3 388.1 86.4 392.6 Q91.1 401.5 96.6 410.2 Q101.7 416.4 109.1 427.9 Q119.6 438.4 124.4 445.0" stroke-width="1.11" opacity="0.37"/>
<path d="M314.2 241.5 Q305.3 248.9 293.7 253.2 Q287.8 252.5 281.2 254.0 Q274.4 255.6 267.7 255.6 Q258.0 255.2 248.3 256.0 Q242.0 254.3 234.3 258.1" stroke-width="0.98" opacity="0.29"/>
<path d="M387.8 129.1 Q393.4 135.3 398.5 141.1 Q399.4 152.6 410.3 163.4 Q407.5 174.4 411.9 187.6 Q409.0 197.4 413.2 208.7 Q411.6 223.3 410.5 237.9" stroke-width="1.08" opacity="0.44"/>
<path d="M426.0 106.7 Q419.4 116.5 404.5 121.2 Q399.6 126.5 395.5 129.6 Q389.4 136.5 381.8 150.2" stroke-width="1.03" opacity="0.56"/>
<path d="M279.7 368.8 Q290.4 359.7 295.0 346.3 Q293.0 338.0 295.2 329.7 Q295.5 321.1 296.0 311.3 Q293.2 302.1 293.6 293.1" stroke-width="0.62" opacity="0.57"/>
<path d="M163.9 165.5 Q160.2 155.2 165.1 143.0 Q156.3 130.7 154.5 118.9 Q145.8 112.5 139.4 99.7" stroke-width="1.21" opacity="0.44"/>
<path d="M325.4 329.3 Q334.7 317.5 344.2 306.0 Q340.1 292.9 347.3 279.1 Q354.1 270.9 353.9 257.3" stroke-width="1.09" opacity="0.41"/>
<path d="M159.1 383.4 Q151.5 383.4 143.3 384.9 Q138.0 389.6 131.3 394.0 Q124.0 402.2 115.1 403.9 Q109.8 408.3 99.0 411.9 Q92.7 410.0 86.2 410.3" stroke-width="0.79" opacity="0.35"/>
<path d="M257.0 132.2 Q254.0 126.1 250.4 121.4 Q250.8 108.4 247.8 95.6 Q248.1 87.1 243.3 79.1 Q244.1 68.6 249.6 55.7" stroke-width="1.12" opacity="0.43"/>
<path d="M305.8 164.1 Q294.0 158.1 281.3 161.1 Q274.4 153.8 262.4 151.8 Q257.1 144.5 255.2 139.0 Q251.3 129.3 249.3 120.6 Q247.6 110.3 253.9 98.5 Q254.6 88.1 251.8 76.3" stroke-width="0.65" opacity="0.32"/>
<path d="M410.4 248.7 Q401.9 254.8 395.7 259.8 Q389.3 258.5 382.8 262.5 Q377.9 268.5 368.0 270.0 Q361.6 279.3 349.9 286.8 Q341.5 296.2 339.7 307.3" stroke-width="0.74" opacity="0.51"/>
<path d="M424.3 254.5 Q429.5 259.3 433.1 262.9 Q441.6 262.9 450.6 266.0 Q455.7 270.2 460.7 273.3 Q462.4 280.5 469.2 285.9 Q477.5 295.4 489.5 296.6" stroke-width="0.88" opacity="0.58"/>
<path d="M391.8 46.8 Q390.6 57.9 394.4 69.8 Q400.5 76.8 402.8 82.0 Q415.1 88.6 426.5 94.2 Q434.6 101.2 444.8 106.4 Q457.4 113.5 468.3 115.8" stroke-width="1.13" opacity="0.52"/>
<path d="M188.0 316.5 Q197.3 313.7 206.5 315.1 Q214.4 314.5 227.1 307.2 Q234.0 308.0 241.5 310.2 Q250.4 315.9 262.0 330.5 Q265.5 334.9 272.6 342.1 Q275.2 354.4 287.1 362.8" stroke-width="1.20" opacity="0.52"/>
<path d="M267.2 164.2 Q271.9 153.9 273.9 144.3 Q278.9 139.6 286.8 128.6 Q284.0 116.8 292.2 104.0 Q287.5 90.4 294.8 76.6 Q300.8 62.4 294.5 48.0 Q290.0 40.4 289.0 32.5" stroke-width="0.76" opacity="0.32"/>
<path d="M350.6 269.6 Q354.7 280.1 351.4 291.8 Q346.2 298.1 344.7 307.2 Q343.5 315.0 342.1 325.0 Q344.1 336.6 348.3 348.5 Q354.5 362.1 352.9 376.0 Q352.5 386.4 361.4 400.6" stroke-width="1.20" opacity="0.60"/>
<path d="M183.8 46.4 Q192.2 47.4 200.7 50.9 Q209.8 55.5 217.9 61.7 Q227.6 68.2 235.7 77.8" stroke-width="1.23" opacity="0.45"/>
<path d="M149.0 264.0 Q157.1 261.7 165.1 265.7 Q176.9 264.3 191.7 252.1 Q194.5 243.3 204.1 235.4 Q202.9 224.7 210.3 211.9" stroke-width="0.95" opacity="0.29"/>
<path d="M204.0 216.7 Q215.9 213.7 231.4 218.2 Q238.6 210.3 253.5 207.2 Q260.8 210.2 268.9 208.8 Q276.4 210.3 282.4 218.8 Q290.2 222.9 296.6 228.3" stroke-width="1.30" opacity="0.51"/>
<path d="M173.3 189.9 Q166.1 183.6 160.4 176.0 Q145.5 168.9 132.7 164.6 Q128.3 158.8 122.4 151.6 Q114.8 145.4 109.4 142.9 Q96.9 130.1 92.5 120.2 Q84.0 114.1 74.8 104.6" stroke-width="1.28" opacity="0.25"/>
<path d="M345.9 345.7 Q334.3 349.9 323.3 351.5 Q313.8 350.5 304.3 351.5 Q295.9 349.3 286.9 347.8 Q276.1 344.5 264.0 350.6 Q251.6 352.7 239.3 354.3 Q232.0 357.6 226.4 361.1" stroke-width="0.97" opacity="0.43"/>
<path d="M370.2 123.7 Q377.4 134.6 392.5 142.3 Q396.9 151.2 399.1 158.8 Q401.7 166.9 407.9 176.1 Q414.7 184.2 422.0 195.5 Q427.1 202.9 429.1 210.8 Q436.4 214.8 447.5 225.4" stroke-width="0.96" opacity="0.25"/>
<path d="M123.4 214.0 Q114.1 202.3 109.9 191.3 Q102.7 189.3 94.8 184.2 Q81.0 180.6 69.7 170.8 Q59.8 170.8 50.0 162.2 Q35.8 158.6 20.8 163.1" stroke-width="1.24" opacity="0.50"/>
<path d="M212.0 52.6 Q208.6 41.8 210.6 29.7 Q213.9 24.9 215.6 16.3 Q219.3 6.4 231.3 0.3 Q237.5 -2.7 243.9 -4.4 Q257.6 -6.9 269.7 -17.3 Q279.4 -24.7 282.9 -35.1" stroke-width="0.91" opacity="0.60"/>
<path d="M140.0 61.1 Q127.9 66.1 118.3 76.9 Q112.9 80.9 108.9 85.5 Q100.0 93.9 85.3 96.1 Q82.2 109.2 69.4 117.6" stroke-width="1.13" opacity="0.45"/>
<path d="M96.2 283.4 Q100.8 274.0 100.3 261.9 Q94.1 252.3 95.7 243.1 Q95.9 237.6 88.9 229.3 Q81.1 220.0 80.4 209.7 Q77.7 201.1 76.7 192.7 Q74.6 184.0 76.8 175.2" stroke-width="0.91" opacity="0.44"/>
<path d="M186.5 85.1 Q181.2 97.0 180.5 108.2 Q174.5 113.3 167.9 121.2 Q162.2 132.1 147.3 135.5 Q135.7 140.1 120.5 137.2 Q113.4 134.7 105.0 139.4" stroke-width="1.03" opacity="0.39"/>
<path d="M339.3 111.1 Q347.9 122.9 347.8 133.0 Q358.5 143.2 365.5 147.4 Q375.1 158.0 384.7 165.5 Q391.4 173.9 394.5 179.8" stroke-width="0.70" opacity="0.57"/>
<path d="M151.0 74.0 Q153.7 81.6 159.2 91.6 Q162.7 102.9 157.8 116.0 Q154.1 122.3 154.2 128.2" stroke-width="0.76" opacity="0.45"/>
<path d="M191.4 239.9 Q203.9 251.7 211.2 258.6 Q217.4 267.5 215.7 277.1 Q215.9 284.2 216.8 293.0 Q219.0 305.6 219.6 318.0 Q230.5 331.3 234.2 340.6" stroke-width="1.30" opacity="0.58"/>
<path d="M266.5 142.5 Q256.4 151.8 241.4 155.9 Q231.3 165.5 224.5 170.8 Q213.1 175.3 205.8 188.6 Q198.5 196.2 192.1 199.3 Q192.4 207.0 187.4 214.1 Q188.4 222.9 189.0 232.3" stroke-width="0.85" opacity="0.29"/>
<path d="M376.9 329.6 Q373.0 320.3 363.6 312.2 Q359.7 309.3 355.6 302.5 Q352.5 296.8 348.4 290.0 Q338.3 283.6 333.5 271.3 Q335.3 262.5 331.0 253.5 Q327.0 246.3 328.6 239.0" stroke-width="0.68" opacity="0.42"/>
<path d="M270.0 80.0 Q264.0 77.9 257.3 81.5 Q246.4 81.2 236.9 89.7 Q226.8 95.0 215.4 92.0 Q209.2 94.4 204.5 99.1" stroke-width="0.75" opacity="0.51"/>
<path d="M107.7 99.4 Q108.8 89.5 118.5 78.8 Q115.4 67.1 119.1 54.8 Q125.7 46.6 126.5 34.9" stroke-width="0.65" opacity="0.37"/>
<path d="M111.7 115.1 Q118.4 107.1 120.8 99.4 Q126.8 95.8 131.2 93.1 Q135.3 90.3 141.9 84.8 Q148.0 79.5 155.3 78.5" stroke-width="0.74" opacity="0.33"/>
<path d="M195.9 389.9 Q203.8 380.8 213.9 378.3 Q220.5 373.1 225.8 372.6 Q234.5 371.2 241.7 361.5 Q253.2 358.4 264.8 348.6 Q272.7 343.1 279.3 340.4 Q286.7 332.6 289.4 322.7" stroke-width="0.72" opacity="0.39"/>
<path d="M307.5 376.0 Q294.5 378.4 283.8 387.1 Q275.7 386.7 267.5 387.4 Q260.3 379.2 247.2 378.0" stroke-width="0.64" opacity="0.48"/>
<path d="M218.9 263.8 Q220.2 256.4 228.9 247.3 Q236.7 244.7 243.6 236.6 Q249.4 232.5 255.2 233.4 Q264.2 225.4 274.8 215.4 Q279.1 208.1 287.5 202.5" stroke-width="1.19" opacity="0.47"/>
<path d="M181.8 69.3 Q184.4 79.8 181.4 91.0 Q176.3 100.4 178.1 109.5 Q180.7 116.7 178.5 124.2 Q168.4 137.9 168.9 150.4 Q163.2 163.8 165.2 177.9 Q158.8 192.6 149.6 202.8" stroke-width="1.20" opacity="0.29"/>
<path d="M165.1 241.6 Q163.1 226.9 154.3 213.9 Q154.9 207.3 151.8 199.7 Q147.3 190.4 146.1 179.2 Q143.4 171.0 137.4 164.0 Q131.9 150.9 137.6 137.5" stroke-width="0.95" opacity="0.49"/>
<path d="M82.8 353.5 Q92.1 351.1 98.9 341.6 Q107.6 335.1 122.8 332.6 Q136.2 319.3 143.2 311.8" stroke-width="1.01" opacity="0.45"/>
<path d="M93.1 179.1 Q96.4 171.4 95.4 162.9 Q93.2 155.2 99.1 144.0 Q106.8 133.8 106.5 124.4 Q114.7 118.5 119.8 112.6 Q126.7 101.8 126.2 92.0" stroke-width="1.17" opacity="0.27"/>
<path d="M187.6 225.5 Q186.8 212.3 178.1 197.5 Q180.6 189.1 176.5 180.7 Q175.9 166.7 178.0 152.0" stroke-width="0.85" opacity="0.36"/>
<path d="M362.9 208.1 Q372.0 216.8 377.6 220.7 Q386.0 223.4 394.4 223.5 Q404.0 227.9 410.7 234.1 Q414.6 242.9 423.4 248.3 Q433.4 252.4 442.1 255.8 Q448.6 259.9 456.3 266.0" stroke-width="1.29" opacity="0.56"/>
<path d="M392.7 72.4 Q391.5 64.2 380.3 50.9 Q372.5 47.5 360.5 35.6 Q351.3 25.1 337.2 21.5 Q327.1 14.1 318.1 12.9 Q313.6 8.8 306.7 3.8 Q301.4 -4.7 300.3 -12.2" stroke-width="1.25" opacity="0.27"/>
<path d="M77.4 244.7 Q82.1 255.8 82.0 266.6 Q84.8 279.5 78.2 293.4 Q70.4 300.4 69.2 312.4 Q58.8 318.2 51.2 332.2 Q45.3 343.5 44.0 355.8 Q43.2 362.0 43.7 369.0" stroke-width="0.79" opacity="0.32"/>
<path d="M157.2 71.4 Q146.4 59.7 142.6 51.6 Q138.7 49.4 133.6 43.6 Q127.6 40.4 121.9 37.8" stroke-width="1.17" opacity="0.26"/>
<path d="M375.3 77.5 Q373.9 87.1 366.9 97.3 Q358.8 102.9 354.9 109.4 Q349.7 111.2 341.1 117.6 Q332.3 125.7 328.2 131.2 Q327.1 136.5 324.5 144.7" stroke-width="0.89" opacity="0.48"/>
<path d="M394.9 57.3 Q387.6 61.6 381.4 66.9 Q367.5 75.0 359.0 85.9 Q357.7 97.3 347.9 106.2 Q341.7 112.5 338.2 115.4 Q325.3 117.4 314.4 126.3" stroke-width="0.74" opacity="0.51"/>
<path d="M379.1 144.5 Q389.3 132.5 395.8 125.9 Q399.9 120.8 400.3 114.5 Q403.5 106.3 408.8 100.1" stroke-width="1.04" opacity="0.60"/>
<path d="M186.8 53.5 Q188.9 59.5 193.5 64.1 Q204.1 76.9 212.2 84.1 Q217.7 88.0 221.6 93.8 Q220.8 108.1 230.2 122.1 Q236.6 130.7 240.8 137.9" stroke-width="1.26" opacity="0.32"/>
<path d="M176.8 331.8 Q163.6 340.3 149.9 339.7 Q140.5 351.5 131.6 356.9 Q121.2 358.4 104.1 367.8 Q93.6 371.9 87.6 382.8 Q81.3 389.5 74.3 400.4 Q69.8 403.8 63.4 405.6" stroke-width="1.22" opacity="0.28"/>
<path d="M393.4 378.6 Q382.4 375.3 371.2 380.0 Q359.4 379.7 349.9 390.6 Q339.9 391.5 329.9 394.6 Q322.4 399.3 313.3 407.4 Q303.4 410.7 286.5 415.7 Q278.7 414.5 270.5 415.7" stroke-width="0.77" opacity="0.57"/>
<path d="M148.6 37.9 Q138.6 42.8 123.7 52.2 Q112.9 55.0 100.2 52.4 Q94.1 56.9 88.9 57.4 Q76.7 52.0 64.4 53.8 Q56.0 53.5 43.9 59.2 Q30.2 51.6 16.0 53.3" stroke-width="0.99" opacity="0.54"/>
<path d="M257.8 261.3 Q251.0 252.8 241.9 243.5 Q233.9 236.1 230.8 224.4 Q221.1 211.5 217.5 200.8" stroke-width="1.11" opacity="0.49"/>
</g>
<g clip-path="url(#oc1)" filter="url(#bl1e)">
<ellipse cx="443.2" cy="261.4" rx="1.4" ry="1.3" fill="#0d5a0d"/>
<ellipse cx="100.5" cy="306.7" rx="3.2" ry="2.4" fill="#0f6a0f"/>
<ellipse cx="169.8" cy="144.6" rx="1.9" ry="2.0" fill="#1aa81a"/>
<ellipse cx="441.4" cy="321.5" rx="1.2" ry="0.9" fill="#0f6a0f"/>
<ellipse cx="327.4" cy="321.0" rx="1.7" ry="1.7" fill="#1aa81a"/>
<ellipse cx="221.3" cy="260.8" rx="2.8" ry="3.4" fill="#0f6a0f"/>
<ellipse cx="386.9" cy="301.5" rx="1.3" ry="1.5" fill="#128012"/>
<ellipse cx="230.3" cy="363.7" rx="1.6" ry="1.6" fill="#169516"/>
<ellipse cx="336.5" cy="122.8" rx="1.9" ry="1.4" fill="#169516"/>
<ellipse cx="211.6" cy="88.0" rx="1.6" ry="1.8" fill="#1aa81a"/>
<ellipse cx="386.8" cy="408.4" rx="3.0" ry="3.6" fill="#169516"/>
<ellipse cx="69.3" cy="232.6" rx="2.0" ry="2.5" fill="#0d5a0d"/>
<ellipse cx="419.2" cy="152.1" rx="3.0" ry="3.8" fill="#128012"/>
<ellipse cx="370.5" cy="230.4" rx="1.5" ry="1.4" fill="#169516"/>
<ellipse cx="194.1" cy="50.3" rx="1.5" ry="1.2" fill="#1aa81a"/>
<ellipse cx="268.9" cy="275.8" rx="2.5" ry="3.1" fill="#1aa81a"/>
<ellipse cx="264.2" cy="324.5" rx="2.7" ry="2.3" fill="#128012"/>
<ellipse cx="355.3" cy="366.6" rx="2.9" ry="3.3" fill="#1aa81a"/>
<ellipse cx="445.7" cy="93.4" rx="2.3" ry="2.5" fill="#128012"/>
<ellipse cx="351.8" cy="315.5" rx="1.8" ry="2.3" fill="#169516"/>
<ellipse cx="99.6" cy="359.1" rx="2.7" ry="3.5" fill="#0d5a0d"/>
<ellipse cx="312.2" cy="253.1" rx="2.8" ry="2.1" fill="#0d5a0d"/>
<ellipse cx="215.0" cy="55.5" rx="3.0" ry="2.1" fill="#0d5a0d"/>
<ellipse cx="203.6" cy="80.3" rx="1.5" ry="1.6" fill="#1aa81a"/>
<ellipse cx="260.9" cy="363.5" rx="3.4" ry="2.8" fill="#1aa81a"/>
<ellipse cx="102.8" cy="142.3" rx="2.2" ry="2.1" fill="#128012"/>
<ellipse cx="345.0" cy="62.0" rx="3.4" ry="3.1" fill="#169516"/>
<ellipse cx="143.7" cy="174.9" rx="3.1" ry="3.7" fill="#0f6a0f"/>
<ellipse cx="373.7" cy="283.8" rx="1.9" ry="2.3" fill="#0f6a0f"/>
<ellipse cx="92.2" cy="60.0" rx="3.1" ry="2.7" fill="#0d5a0d"/>
<ellipse cx="165.6" cy="43.1" rx="2.4" ry="2.2" fill="#0f6a0f"/>
<ellipse cx="315.6" cy="244.9" rx="1.7" ry="1.5" fill="#0f6a0f"/>
<ellipse cx="167.7" cy="383.9" rx="3.4" ry="3.2" fill="#169516"/>
<ellipse cx="342.8" cy="78.8" rx="3.1" ry="2.9" fill="#169516"/>
<ellipse cx="128.3" cy="280.9" rx="3.3" ry="2.9" fill="#128012"/>
<ellipse cx="211.0" cy="320.0" rx="1.7" ry="2.1" fill="#128012"/>
<ellipse cx="358.2" cy="354.0" rx="1.8" ry="1.5" fill="#1aa81a"/>
<ellipse cx="67.1" cy="63.9" rx="2.1" ry="1.8" fill="#169516"/>
<ellipse cx="75.6" cy="194.3" rx="1.5" ry="1.5" fill="#1aa81a"/>
<ellipse cx="253.9" cy="181.4" rx="2.4" ry="2.9" fill="#128012"/>
<ellipse cx="228.4" cy="48.9" rx="1.7" ry="1.5" fill="#169516"/>
<ellipse cx="245.1" cy="386.2" rx="2.5" ry="2.5" fill="#0f6a0f"/>
<ellipse cx="250.8" cy="108.6" rx="2.7" ry="2.0" fill="#1aa81a"/>
<ellipse cx="428.0" cy="227.6" rx="1.8" ry="1.8" fill="#128012"/>
<ellipse cx="186.1" cy="64.6" rx="2.3" ry="2.9" fill="#1aa81a"/>
<ellipse cx="241.9" cy="307.1" rx="1.4" ry="1.5" fill="#1aa81a"/>
<ellipse cx="102.0" cy="133.6" rx="3.1" ry="2.4" fill="#0f6a0f"/>
<ellipse cx="443.6" cy="211.0" rx="1.6" ry="1.8" fill="#0f6a0f"/>
<ellipse cx="377.0" cy="373.1" rx="2.7" ry="2.8" fill="#0f6a0f"/>
<ellipse cx="154.5" cy="217.7" rx="2.7" ry="2.1" fill="#169516"/>
<ellipse cx="374.0" cy="389.6" rx="3.0" ry="3.3" fill="#169516"/>
<ellipse cx="315.1" cy="295.0" rx="1.2" ry="1.5" fill="#1aa81a"/>
<ellipse cx="95.8" cy="109.1" rx="1.3" ry="1.7" fill="#1aa81a"/>
<ellipse cx="387.7" cy="142.7" rx="2.0" ry="2.5" fill="#128012"/>
<ellipse cx="219.2" cy="287.0" rx="1.2" ry="1.0" fill="#1aa81a"/>
<ellipse cx="248.1" cy="222.5" rx="3.5" ry="3.8" fill="#1aa81a"/>
<ellipse cx="146.0" cy="374.4" rx="1.7" ry="1.4" fill="#1aa81a"/>
<ellipse cx="449.5" cy="201.3" rx="1.7" ry="1.3" fill="#169516"/>
<ellipse cx="132.6" cy="184.6" rx="2.9" ry="2.7" fill="#0d5a0d"/>
<ellipse cx="126.7" cy="344.4" rx="1.2" ry="1.4" fill="#0d5a0d"/>
<ellipse cx="298.1" cy="208.4" rx="2.5" ry="2.0" fill="#1aa81a"/>
<ellipse cx="156.9" cy="71.9" rx="3.5" ry="4.4" fill="#128012"/>
<ellipse cx="449.1" cy="77.6" rx="2.0" ry="1.6" fill="#0f6a0f"/>
<ellipse cx="227.2" cy="56.4" rx="3.2" ry="2.7" fill="#1aa81a"/>
<ellipse cx="284.0" cy="111.4" rx="1.6" ry="2.0" fill="#169516"/>
<ellipse cx="338.7" cy="62.0" rx="2.2" ry="2.9" fill="#0f6a0f"/>
<ellipse cx="412.7" cy="52.7" rx="3.0" ry="3.7" fill="#128012"/>
<ellipse cx="226.1" cy="229.4" rx="3.2" ry="3.4" fill="#0d5a0d"/>
<ellipse cx="236.2" cy="217.9" rx="2.5" ry="3.1" fill="#169516"/>
<ellipse cx="435.2" cy="99.7" rx="1.4" ry="1.4" fill="#169516"/>
<ellipse cx="134.2" cy="292.0" rx="1.8" ry="1.7" fill="#128012"/>
<ellipse cx="432.8" cy="124.6" rx="3.2" ry="3.4" fill="#0f6a0f"/>
<ellipse cx="246.0" cy="284.3" rx="3.1" ry="3.0" fill="#0f6a0f"/>
<ellipse cx="195.3" cy="318.5" rx="3.5" ry="3.4" fill="#128012"/>
<ellipse cx="189.2" cy="399.5" rx="3.5" ry="4.5" fill="#0f6a0f"/>
<ellipse cx="144.1" cy="183.1" rx="3.5" ry="3.2" fill="#128012"/>
<ellipse cx="337.2" cy="171.9" rx="2.4" ry="1.9" fill="#169516"/>
<ellipse cx="150.0" cy="108.3" rx="1.8" ry="1.8" fill="#0f6a0f"/>
<ellipse cx="405.2" cy="262.7" rx="2.8" ry="2.9" fill="#1aa81a"/>
<ellipse cx="427.5" cy="247.7" rx="2.1" ry="1.8" fill="#1aa81a"/>
<ellipse cx="377.0" cy="292.4" rx="2.8" ry="2.6" fill="#128012"/>
<ellipse cx="109.4" cy="267.9" rx="1.9" ry="2.1" fill="#0d5a0d"/>
<ellipse cx="308.8" cy="296.9" rx="3.5" ry="3.2" fill="#128012"/>
<ellipse cx="392.0" cy="275.3" rx="1.6" ry="1.7" fill="#0f6a0f"/>
<ellipse cx="391.7" cy="362.5" rx="2.6" ry="3.2" fill="#128012"/>
<ellipse cx="293.8" cy="184.3" rx="2.5" ry="1.9" fill="#0f6a0f"/>
<ellipse cx="66.1" cy="92.2" rx="2.9" ry="2.3" fill="#0f6a0f"/>
<ellipse cx="131.5" cy="372.3" rx="3.1" ry="2.2" fill="#128012"/>
<ellipse cx="108.3" cy="385.4" rx="3.5" ry="3.5" fill="#128012"/>
<ellipse cx="92.5" cy="159.9" rx="1.9" ry="2.3" fill="#1aa81a"/>
<ellipse cx="192.6" cy="382.6" rx="1.8" ry="1.4" fill="#169516"/>
<ellipse cx="304.8" cy="293.8" rx="1.8" ry="1.7" fill="#169516"/>
<ellipse cx="253.8" cy="98.1" rx="3.4" ry="4.1" fill="#0d5a0d"/>
<ellipse cx="353.8" cy="348.6" rx="2.2" ry="2.5" fill="#169516"/>
<ellipse cx="152.7" cy="332.5" rx="3.1" ry="2.3" fill="#0f6a0f"/>
<ellipse cx="122.9" cy="331.2" rx="2.3" ry="2.7" fill="#1aa81a"/>
<ellipse cx="153.4" cy="61.5" rx="2.8" ry="2.7" fill="#0d5a0d"/>
<ellipse cx="69.3" cy="385.0" rx="1.7" ry="1.5" fill="#1aa81a"/>
<ellipse cx="163.9" cy="188.6" rx="2.5" ry="1.8" fill="#0f6a0f"/>
<ellipse cx="343.4" cy="110.6" rx="1.9" ry="2.0" fill="#1aa81a"/>
<ellipse cx="411.8" cy="104.3" rx="1.9" ry="1.5" fill="#169516"/>
<ellipse cx="88.1" cy="203.8" rx="2.0" ry="1.9" fill="#169516"/>
<ellipse cx="265.8" cy="143.5" rx="3.1" ry="2.3" fill="#169516"/>
<ellipse cx="83.1" cy="223.3" rx="1.6" ry="1.5" fill="#128012"/>
<ellipse cx="140.4" cy="71.6" rx="2.4" ry="3.0" fill="#0d5a0d"/>
<ellipse cx="328.6" cy="209.0" rx="1.9" ry="1.5" fill="#0f6a0f"/>
<ellipse cx="91.2" cy="174.5" rx="2.4" ry="2.8" fill="#169516"/>
<ellipse cx="262.2" cy="198.7" rx="3.2" ry="3.8" fill="#1aa81a"/>
<ellipse cx="207.5" cy="197.6" rx="3.4" ry="3.7" fill="#169516"/>
<ellipse cx="104.7" cy="201.0" rx="2.7" ry="2.1" fill="#169516"/>
<ellipse cx="395.0" cy="388.8" rx="2.5" ry="2.5" fill="#0f6a0f"/>
<ellipse cx="303.0" cy="141.0" rx="1.4" ry="1.3" fill="#169516"/>
<ellipse cx="97.3" cy="177.2" rx="1.4" ry="1.0" fill="#0f6a0f"/>
<ellipse cx="414.9" cy="283.6" rx="2.5" ry="2.2" fill="#0f6a0f"/>
<ellipse cx="379.7" cy="258.0" rx="2.2" ry="1.7" fill="#128012"/>
<ellipse cx="359.1" cy="189.5" rx="2.0" ry="2.5" fill="#0f6a0f"/>
<ellipse cx="240.8" cy="238.0" rx="1.4" ry="1.4" fill="#1aa81a"/>
<ellipse cx="432.9" cy="258.1" rx="1.9" ry="1.8" fill="#1aa81a"/>
<ellipse cx="142.0" cy="328.7" rx="3.0" ry="2.3" fill="#1aa81a"/>
<ellipse cx="377.8" cy="156.0" rx="1.8" ry="1.8" fill="#169516"/>
<ellipse cx="378.0" cy="293.3" rx="3.5" ry="3.2" fill="#0d5a0d"/>
<ellipse cx="130.8" cy="312.3" rx="2.0" ry="2.2" fill="#128012"/>
<ellipse cx="86.0" cy="25.6" rx="1.8" ry="1.2" fill="#169516"/>
<ellipse cx="358.5" cy="259.1" rx="3.4" ry="2.8" fill="#169516"/>
<ellipse cx="186.7" cy="364.8" rx="3.5" ry="3.2" fill="#169516"/>
<ellipse cx="200.2" cy="171.2" rx="1.5" ry="1.0" fill="#128012"/>
<ellipse cx="324.7" cy="316.7" rx="3.0" ry="3.5" fill="#0d5a0d"/>
<ellipse cx="158.4" cy="379.6" rx="3.1" ry="3.6" fill="#128012"/>
<ellipse cx="377.6" cy="123.0" rx="2.8" ry="2.7" fill="#1aa81a"/>
<ellipse cx="182.6" cy="117.9" rx="2.9" ry="2.6" fill="#0f6a0f"/>
<ellipse cx="389.5" cy="352.0" rx="3.3" ry="4.0" fill="#128012"/>
<ellipse cx="432.2" cy="361.7" rx="2.5" ry="2.9" fill="#0f6a0f"/>
<ellipse cx="389.0" cy="402.6" rx="3.5" ry="4.1" fill="#1aa81a"/>
<ellipse cx="365.7" cy="360.5" rx="1.7" ry="1.6" fill="#169516"/>
<ellipse cx="88.9" cy="71.1" rx="3.3" ry="2.8" fill="#0f6a0f"/>
<ellipse cx="91.5" cy="51.6" rx="3.0" ry="3.6" fill="#128012"/>
<ellipse cx="310.9" cy="145.3" rx="2.3" ry="2.1" fill="#1aa81a"/>
<ellipse cx="307.9" cy="370.0" rx="2.3" ry="2.7" fill="#169516"/>
<ellipse cx="184.3" cy="362.0" rx="2.6" ry="2.7" fill="#0f6a0f"/>
<ellipse cx="448.8" cy="370.5" rx="1.4" ry="1.3" fill="#1aa81a"/>
<ellipse cx="403.6" cy="281.8" rx="1.7" ry="1.7" fill="#169516"/>
<ellipse cx="421.8" cy="279.2" rx="3.3" ry="2.4" fill="#0d5a0d"/>
<ellipse cx="292.0" cy="192.0" rx="2.9" ry="3.8" fill="#1aa81a"/>
<ellipse cx="135.1" cy="137.6" rx="2.4" ry="1.9" fill="#169516"/>
<ellipse cx="370.2" cy="258.0" rx="1.3" ry="1.6" fill="#169516"/>
<ellipse cx="446.8" cy="192.4" rx="2.1" ry="2.7" fill="#0f6a0f"/>
<ellipse cx="142.0" cy="141.7" rx="2.0" ry="2.0" fill="#128012"/>
<ellipse cx="354.2" cy="29.7" rx="3.3" ry="4.2" fill="#0d5a0d"/>
<ellipse cx="449.7" cy="241.6" rx="3.1" ry="2.2" fill="#128012"/>
<ellipse cx="314.5" cy="364.0" rx="1.5" ry="1.3" fill="#0d5a0d"/>
<ellipse cx="420.4" cy="105.4" rx="1.3" ry="1.5" fill="#0d5a0d"/>
<ellipse cx="339.6" cy="299.9" rx="1.7" ry="2.2" fill="#1aa81a"/>
<ellipse cx="280.1" cy="80.8" rx="2.7" ry="2.6" fill="#0f6a0f"/>
<ellipse cx="296.3" cy="125.3" rx="1.9" ry="1.5" fill="#1aa81a"/>
<ellipse cx="306.5" cy="46.4" rx="3.1" ry="3.8" fill="#169516"/>
<ellipse cx="128.0" cy="326.9" rx="2.5" ry="2.5" fill="#128012"/>
<ellipse cx="131.9" cy="257.7" rx="3.4" ry="4.3" fill="#128012"/>
<ellipse cx="342.3" cy="67.8" rx="2.3" ry="2.6" fill="#0d5a0d"/>
<ellipse cx="169.3" cy="348.3" rx="3.4" ry="3.4" fill="#0f6a0f"/>
<ellipse cx="64.9" cy="360.2" rx="3.3" ry="3.6" fill="#0d5a0d"/>
<ellipse cx="119.0" cy="202.6" rx="2.7" ry="2.5" fill="#0d5a0d"/>
<ellipse cx="359.7" cy="119.9" rx="1.7" ry="2.0" fill="#128012"/>
<ellipse cx="201.7" cy="193.4" rx="1.9" ry="1.9" fill="#128012"/>
<ellipse cx="119.2" cy="252.6" rx="1.5" ry="1.2" fill="#169516"/>
<ellipse cx="249.1" cy="194.9" rx="3.5" ry="3.5" fill="#1aa81a"/>
<ellipse cx="171.0" cy="225.2" rx="2.3" ry="1.8" fill="#0d5a0d"/>
<ellipse cx="129.4" cy="53.7" rx="2.9" ry="2.7" fill="#0f6a0f"/>
<ellipse cx="200.7" cy="189.2" rx="2.0" ry="2.2" fill="#1aa81a"/>
<ellipse cx="243.6" cy="346.9" rx="2.5" ry="3.0" fill="#0f6a0f"/>
<ellipse cx="345.0" cy="162.0" rx="2.7" ry="3.4" fill="#1aa81a"/>
</g>
<ellipse cx="170" cy="310" rx="70" ry="50" fill="#000" opacity="0.3" filter="url(#bl1b)"/>
<ellipse cx="250" cy="110" rx="60" ry="30" fill="#000" opacity="0.3" filter="url(#bl1b)"/>
<circle cx="380" cy="192.5" r="7" fill="#010901" filter="url(#bl1d)"/>
<g filter="url(#bl1c)">
<ellipse cx="201" cy="39" rx="5.8" ry="4.7" fill="#1cf91c" transform="rotate(11 201 39)"/>
<circle cx="200.9" cy="35.1" r="2.9" fill="#1cf91c"/>
<circle cx="197.3" cy="35.2" r="2.5" fill="#1cf91c"/>
<ellipse cx="192.5" cy="41" rx="3.7" ry="4.1" fill="#1cf91c" transform="rotate(-20 192.5 41)"/>
<circle cx="193.5" cy="38.1" r="2.0" fill="#1cf91c"/>
<circle cx="190.6" cy="38.4" r="1.5" fill="#1cf91c"/>
<ellipse cx="185" cy="44" rx="3.5" ry="3.6" fill="#1cf91c" transform="rotate(8 185 44)"/>
<ellipse cx="255" cy="25" rx="2.8" ry="2.4" fill="#1cf91c" transform="rotate(-16 255 25)"/>
<ellipse cx="257.5" cy="37.5" rx="5.0" ry="4.0" fill="#1cf91c" transform="rotate(3 257.5 37.5)"/>
<circle cx="258.6" cy="33.5" r="2.9" fill="#1cf91c"/>
<circle cx="260.5" cy="40.2" r="2.5" fill="#1cf91c"/>
<ellipse cx="269" cy="47.5" rx="7.2" ry="8.0" fill="#1cf91c" transform="rotate(-34 269 47.5)"/>
<circle cx="270.6" cy="42.7" r="3.9" fill="#1cf91c"/>
<circle cx="265.6" cy="43.9" r="4.0" fill="#1cf91c"/>
<ellipse cx="260" cy="46" rx="5.5" ry="6.0" fill="#1cf91c" transform="rotate(31 260 46)"/>
<circle cx="256.9" cy="49.1" r="2.4" fill="#1cf91c"/>
<circle cx="259.6" cy="41.5" r="2.6" fill="#1cf91c"/>
<ellipse cx="255" cy="65" rx="5.3" ry="5.8" fill="#1cf91c" transform="rotate(-26 255 65)"/>
<circle cx="261.3" cy="63.9" r="2.3" fill="#1cf91c"/>
<circle cx="258.4" cy="69.3" r="3.6" fill="#1cf91c"/>
<ellipse cx="262" cy="57" rx="7.2" ry="5.6" fill="#1cf91c" transform="rotate(24 262 57)"/>
<circle cx="267.7" cy="58.4" r="3.5" fill="#1cf91c"/>
<circle cx="256.5" cy="59.9" r="3.4" fill="#1cf91c"/>
<ellipse cx="275" cy="54" rx="4.8" ry="4.7" fill="#1cf91c" transform="rotate(-14 275 54)"/>
<circle cx="278.6" cy="56.1" r="2.0" fill="#1cf91c"/>
<circle cx="272.5" cy="58.7" r="2.2" fill="#1cf91c"/>
<ellipse cx="277" cy="67.5" rx="3.9" ry="3.4" fill="#1cf91c" transform="rotate(-21 277 67.5)"/>
<circle cx="274.3" cy="70.9" r="1.6" fill="#1cf91c"/>
<circle cx="280.0" cy="70.4" r="1.7" fill="#1cf91c"/>
<ellipse cx="245" cy="66" rx="2.9" ry="2.9" fill="#1cf91c" transform="rotate(-1 245 66)"/>
<ellipse cx="222.5" cy="50" rx="3.2" ry="4.3" fill="#1cf91c" transform="rotate(28 222.5 50)"/>
<circle cx="224.6" cy="53.6" r="2.2" fill="#1cf91c"/>
<circle cx="219.8" cy="47.3" r="1.8" fill="#1cf91c"/>
<ellipse cx="212.5" cy="49" rx="3.1" ry="3.5" fill="#1cf91c" transform="rotate(20 212.5 49)"/>
<ellipse cx="230" cy="40" rx="2.0" ry="2.3" fill="#1cf91c" transform="rotate(-34 230 40)"/>
<ellipse cx="172.5" cy="62.5" rx="3.9" ry="3.2" fill="#1cf91c" transform="rotate(9 172.5 62.5)"/>
<circle cx="170.6" cy="59.4" r="1.5" fill="#1cf91c"/>
<circle cx="176.4" cy="63.7" r="1.9" fill="#1cf91c"/>
<ellipse cx="159" cy="57.5" rx="2.5" ry="2.7" fill="#1cf91c" transform="rotate(-24 159 57.5)"/>
<ellipse cx="195" cy="74" rx="4.2" ry="4.0" fill="#1cf91c" transform="rotate(30 195 74)"/>
<circle cx="193.7" cy="69.9" r="2.2" fill="#1cf91c"/>
<circle cx="192.5" cy="77.0" r="1.6" fill="#1cf91c"/>
<ellipse cx="291" cy="62.5" rx="3.8" ry="4.3" fill="#1cf91c" transform="rotate(-12 291 62.5)"/>
<circle cx="287.3" cy="63.0" r="2.4" fill="#1cf91c"/>
<circle cx="293.2" cy="66.1" r="1.6" fill="#1cf91c"/>
<ellipse cx="304" cy="61" rx="6.0" ry="4.4" fill="#1cf91c" transform="rotate(11 304 61)"/>
<circle cx="301.4" cy="58.7" r="2.5" fill="#1cf91c"/>
<circle cx="301.8" cy="65.2" r="2.4" fill="#1cf91c"/>
<ellipse cx="297.5" cy="72.5" rx="4.5" ry="3.7" fill="#1cf91c" transform="rotate(5 297.5 72.5)"/>
<circle cx="293.4" cy="71.3" r="2.3" fill="#1cf91c"/>
<circle cx="301.1" cy="72.2" r="2.2" fill="#1cf91c"/>
<ellipse cx="311" cy="75" rx="3.3" ry="3.9" fill="#1cf91c" transform="rotate(-29 311 75)"/>
<circle cx="308.2" cy="76.7" r="1.9" fill="#1cf91c"/>
<circle cx="310.2" cy="72.3" r="2.0" fill="#1cf91c"/>
<ellipse cx="320" cy="82.5" rx="3.4" ry="3.8" fill="#1cf91c" transform="rotate(26 320 82.5)"/>
<circle cx="317.3" cy="80.3" r="2.3" fill="#1cf91c"/>
<circle cx="321.1" cy="79.8" r="1.8" fill="#1cf91c"/>
<ellipse cx="334" cy="84" rx="3.8" ry="3.3" fill="#1cf91c" transform="rotate(23 334 84)"/>
<circle cx="333.1" cy="86.8" r="1.7" fill="#1cf91c"/>
<circle cx="334.6" cy="80.9" r="1.9" fill="#1cf91c"/>
<ellipse cx="327.5" cy="89" rx="4.0" ry="4.0" fill="#1cf91c" transform="rotate(19 327.5 89)"/>
<circle cx="326.1" cy="85.4" r="1.7" fill="#1cf91c"/>
<circle cx="325.4" cy="86.4" r="2.1" fill="#1cf91c"/>
<ellipse cx="297.5" cy="91" rx="4.3" ry="4.7" fill="#1cf91c" transform="rotate(-32 297.5 91)"/>
<circle cx="299.6" cy="87.5" r="1.7" fill="#1cf91c"/>
<circle cx="294.1" cy="88.5" r="2.1" fill="#1cf91c"/>
<ellipse cx="302.5" cy="100" rx="5.9" ry="4.7" fill="#1cf91c" transform="rotate(25 302.5 100)"/>
<circle cx="305.0" cy="96.9" r="2.4" fill="#1cf91c"/>
<circle cx="299.2" cy="101.2" r="1.9" fill="#1cf91c"/>
<ellipse cx="297.5" cy="106" rx="3.3" ry="3.5" fill="#1cf91c" transform="rotate(-20 297.5 106)"/>
<ellipse cx="337.5" cy="105" rx="3.1" ry="3.5" fill="#1cf91c" transform="rotate(-29 337.5 105)"/>
<ellipse cx="355" cy="112.5" rx="4.6" ry="5.7" fill="#1cf91c" transform="rotate(8 355 112.5)"/>
<circle cx="359.6" cy="111.2" r="2.7" fill="#1cf91c"/>
<circle cx="351.8" cy="108.4" r="2.1" fill="#1cf91c"/>
<ellipse cx="365" cy="120" rx="2.6" ry="3.5" fill="#1cf91c" transform="rotate(-19 365 120)"/>
<ellipse cx="384" cy="124" rx="2.3" ry="1.8" fill="#1cf91c" transform="rotate(-17 384 124)"/>
<ellipse cx="380" cy="136" rx="2.5" ry="2.6" fill="#1cf91c" transform="rotate(35 380 136)"/>
<ellipse cx="389" cy="142.5" rx="2.8" ry="3.6" fill="#1cf91c" transform="rotate(-31 389 142.5)"/>
<ellipse cx="375" cy="147.5" rx="2.9" ry="3.1" fill="#1cf91c" transform="rotate(33 375 147.5)"/>
<ellipse cx="402.5" cy="166" rx="4.9" ry="5.3" fill="#1cf91c" transform="rotate(-2 402.5 166)"/>
<circle cx="401.0" cy="169.7" r="2.5" fill="#1cf91c"/>
<circle cx="399.7" cy="162.0" r="2.7" fill="#1cf91c"/>
<ellipse cx="397.5" cy="172.5" rx="3.5" ry="3.6" fill="#1cf91c" transform="rotate(1 397.5 172.5)"/>
<circle cx="399.9" cy="174.8" r="2.3" fill="#1cf91c"/>
<circle cx="401.1" cy="170.3" r="1.9" fill="#1cf91c"/>
<ellipse cx="410" cy="185" rx="5.9" ry="5.1" fill="#1cf91c" transform="rotate(-28 410 185)"/>
<circle cx="404.6" cy="185.1" r="2.2" fill="#1cf91c"/>
<circle cx="408.0" cy="188.1" r="2.2" fill="#1cf91c"/>
<ellipse cx="422.5" cy="202.5" rx="4.2" ry="5.9" fill="#1cf91c" transform="rotate(-0 422.5 202.5)"/>
<circle cx="421.7" cy="206.6" r="2.5" fill="#1cf91c"/>
<circle cx="424.7" cy="207.0" r="2.1" fill="#1cf91c"/>
<ellipse cx="430" cy="215" rx="3.9" ry="4.7" fill="#1cf91c" transform="rotate(-3 430 215)"/>
<circle cx="427.2" cy="218.0" r="2.3" fill="#1cf91c"/>
<circle cx="428.8" cy="211.6" r="2.3" fill="#1cf91c"/>
<ellipse cx="412.5" cy="192.5" rx="2.6" ry="3.5" fill="#1cf91c" transform="rotate(12 412.5 192.5)"/>
<ellipse cx="115" cy="96" rx="1.8" ry="4.8" fill="#1cf91c" transform="rotate(-23 115 96)"/>
<ellipse cx="149" cy="94" rx="2.4" ry="6.4" fill="#1cf91c" transform="rotate(-22 149 94)"/>
<circle cx="150.2" cy="97.0" r="2.1" fill="#1cf91c"/>
<circle cx="148.1" cy="90.4" r="1.8" fill="#1cf91c"/>
<ellipse cx="155" cy="99" rx="2.7" ry="2.5" fill="#1cf91c" transform="rotate(1 155 99)"/>
<ellipse cx="169" cy="100" rx="3.2" ry="3.3" fill="#1cf91c" transform="rotate(-18 169 100)"/>
<ellipse cx="142.5" cy="120" rx="2.5" ry="2.7" fill="#1cf91c" transform="rotate(-28 142.5 120)"/>
<ellipse cx="115" cy="136" rx="2.4" ry="6.4" fill="#1cf91c" transform="rotate(-21 115 136)"/>
<circle cx="111.6" cy="134.1" r="1.7" fill="#1cf91c"/>
<circle cx="117.9" cy="135.5" r="1.7" fill="#1cf91c"/>
<ellipse cx="96" cy="160" rx="3.0" ry="8.0" fill="#1cf91c" transform="rotate(28 96 160)"/>
<circle cx="94.4" cy="155.8" r="2.2" fill="#1cf91c"/>
<circle cx="94.9" cy="155.6" r="2.0" fill="#1cf91c"/>
<ellipse cx="100" cy="172.5" rx="4.1" ry="4.8" fill="#1cf91c" transform="rotate(28 100 172.5)"/>
<circle cx="100.5" cy="175.6" r="1.5" fill="#1cf91c"/>
<circle cx="96.6" cy="170.5" r="2.4" fill="#1cf91c"/>
<ellipse cx="84" cy="182.5" rx="2.4" ry="6.4" fill="#1cf91c" transform="rotate(12 84 182.5)"/>
<circle cx="80.7" cy="185.4" r="1.4" fill="#1cf91c"/>
<circle cx="80.8" cy="180.3" r="1.8" fill="#1cf91c"/>
<ellipse cx="85" cy="195" rx="5.7" ry="5.8" fill="#1cf91c" transform="rotate(1 85 195)"/>
<circle cx="80.3" cy="197.3" r="1.8" fill="#1cf91c"/>
<circle cx="88.6" cy="195.6" r="2.3" fill="#1cf91c"/>
<ellipse cx="125" cy="181" rx="1.8" ry="4.8" fill="#1cf91c" transform="rotate(2 125 181)"/>
<ellipse cx="85" cy="219" rx="2.9" ry="2.8" fill="#1cf91c" transform="rotate(-9 85 219)"/>
<ellipse cx="60" cy="185" rx="1.7" ry="2.3" fill="#1cf91c" transform="rotate(-9 60 185)"/>
<ellipse cx="187.5" cy="167.5" rx="4.1" ry="3.5" fill="#1cf91c" transform="rotate(-24 187.5 167.5)"/>
<circle cx="190.6" cy="170.1" r="1.5" fill="#1cf91c"/>
<circle cx="186.2" cy="171.0" r="1.5" fill="#1cf91c"/>
<ellipse cx="212.5" cy="172.5" rx="5.5" ry="5.4" fill="#1cf91c" transform="rotate(18 212.5 172.5)"/>
<circle cx="211.9" cy="168.2" r="2.1" fill="#1cf91c"/>
<circle cx="215.9" cy="170.8" r="3.2" fill="#1cf91c"/>
<ellipse cx="217.5" cy="162.5" rx="2.8" ry="3.3" fill="#1cf91c" transform="rotate(23 217.5 162.5)"/>
<ellipse cx="230" cy="177.5" rx="4.1" ry="3.9" fill="#1cf91c" transform="rotate(-2 230 177.5)"/>
<circle cx="234.2" cy="178.6" r="2.4" fill="#1cf91c"/>
<circle cx="234.2" cy="178.8" r="1.6" fill="#1cf91c"/>
<ellipse cx="235" cy="157.5" rx="1.6" ry="2.3" fill="#1cf91c" transform="rotate(-21 235 157.5)"/>
<ellipse cx="267.5" cy="145" rx="6.4" ry="2.4" fill="#1cf91c" transform="rotate(-17 267.5 145)"/>
<circle cx="268.1" cy="141.0" r="1.7" fill="#1cf91c"/>
<circle cx="271.0" cy="146.9" r="1.5" fill="#1cf91c"/>
<ellipse cx="325" cy="154" rx="4.4" ry="3.9" fill="#1cf91c" transform="rotate(13 325 154)"/>
<circle cx="326.6" cy="157.1" r="2.3" fill="#1cf91c"/>
<circle cx="327.8" cy="156.2" r="2.3" fill="#1cf91c"/>
<ellipse cx="230" cy="194" rx="3.1" ry="3.0" fill="#1cf91c" transform="rotate(34 230 194)"/>
<ellipse cx="250" cy="192.5" rx="3.3" ry="3.3" fill="#1cf91c" transform="rotate(22 250 192.5)"/>
<ellipse cx="266" cy="197.5" rx="3.3" ry="2.7" fill="#1cf91c" transform="rotate(-32 266 197.5)"/>
<ellipse cx="152.5" cy="199" rx="2.5" ry="3.0" fill="#1cf91c" transform="rotate(17 152.5 199)"/>
<ellipse cx="334" cy="222.5" rx="3.5" ry="3.8" fill="#1cf91c" transform="rotate(-19 334 222.5)"/>
<circle cx="334.8" cy="225.6" r="1.9" fill="#1cf91c"/>
<circle cx="334.2" cy="226.0" r="2.1" fill="#1cf91c"/>
<ellipse cx="314" cy="212.5" rx="3.2" ry="2.5" fill="#1cf91c" transform="rotate(-6 314 212.5)"/>
<ellipse cx="275" cy="217.5" rx="3.0" ry="2.7" fill="#1cf91c" transform="rotate(-9 275 217.5)"/>
<ellipse cx="84" cy="218" rx="2.7" ry="3.2" fill="#1cf91c" transform="rotate(-12 84 218)"/>
<ellipse cx="89" cy="232" rx="2.0" ry="2.4" fill="#1cf91c" transform="rotate(24 89 232)"/>
<ellipse cx="94" cy="239" rx="2.5" ry="2.5" fill="#1cf91c" transform="rotate(-31 94 239)"/>
<ellipse cx="106" cy="280" rx="1.8" ry="1.8" fill="#1cf91c" transform="rotate(9 106 280)"/>
<ellipse cx="149" cy="300" rx="1.8" ry="4.8" fill="#1cf91c" transform="rotate(-8 149 300)"/>
<ellipse cx="62.5" cy="291" rx="2.1" ry="1.8" fill="#1cf91c" transform="rotate(-28 62.5 291)"/>
<ellipse cx="75" cy="340" rx="4.7" ry="4.1" fill="#1cf91c" transform="rotate(-4 75 340)"/>
<circle cx="78.4" cy="341.5" r="2.3" fill="#1cf91c"/>
<circle cx="77.0" cy="342.1" r="1.8" fill="#1cf91c"/>
<ellipse cx="72.5" cy="366" rx="3.2" ry="2.4" fill="#1cf91c" transform="rotate(-22 72.5 366)"/>
<ellipse cx="99" cy="379" rx="3.6" ry="3.3" fill="#1cf91c" transform="rotate(20 99 379)"/>
<ellipse cx="119" cy="385" rx="5.6" ry="4.1" fill="#1cf91c" transform="rotate(21 119 385)"/>
<circle cx="119.2" cy="388.9" r="2.9" fill="#1cf91c"/>
<circle cx="118.6" cy="388.8" r="2.8" fill="#1cf91c"/>
<ellipse cx="140" cy="380" rx="3.9" ry="4.5" fill="#1cf91c" transform="rotate(-24 140 380)"/>
<circle cx="137.1" cy="381.2" r="1.5" fill="#1cf91c"/>
<circle cx="136.6" cy="379.1" r="1.6" fill="#1cf91c"/>
<ellipse cx="147.5" cy="378" rx="3.5" ry="3.2" fill="#1cf91c" transform="rotate(-17 147.5 378)"/>
<ellipse cx="135" cy="387.5" rx="2.5" ry="3.4" fill="#1cf91c" transform="rotate(-29 135 387.5)"/>
<ellipse cx="212.5" cy="375" rx="4.4" ry="4.3" fill="#19c419" transform="rotate(26 212.5 375)"/>
<ellipse cx="214" cy="400" rx="3.3" ry="3.7" fill="#1cf91c" transform="rotate(6 214 400)"/>
<circle cx="216.3" cy="396.7" r="2.0" fill="#1cf91c"/>
<circle cx="217.2" cy="398.6" r="2.4" fill="#1cf91c"/>
<ellipse cx="229" cy="392.5" rx="6.1" ry="6.2" fill="#1cf91c" transform="rotate(2 229 392.5)"/>
<circle cx="227.4" cy="396.5" r="2.9" fill="#1cf91c"/>
<circle cx="232.2" cy="395.8" r="2.7" fill="#1cf91c"/>
<ellipse cx="241" cy="377.5" rx="3.6" ry="3.1" fill="#1cf91c" transform="rotate(11 241 377.5)"/>
<ellipse cx="281" cy="381" rx="4.3" ry="4.0" fill="#1cf91c" transform="rotate(-5 281 381)"/>
<circle cx="278.1" cy="378.9" r="2.1" fill="#1cf91c"/>
<circle cx="284.5" cy="384.2" r="2.3" fill="#1cf91c"/>
<ellipse cx="291" cy="379" rx="3.8" ry="4.0" fill="#1cf91c" transform="rotate(14 291 379)"/>
<circle cx="293.5" cy="376.4" r="1.9" fill="#1cf91c"/>
<circle cx="289.9" cy="383.0" r="1.4" fill="#1cf91c"/>
<ellipse cx="301" cy="385" rx="3.6" ry="3.7" fill="#1cf91c" transform="rotate(13 301 385)"/>
<circle cx="300.5" cy="380.9" r="2.1" fill="#1cf91c"/>
<circle cx="298.2" cy="385.8" r="1.8" fill="#1cf91c"/>
<ellipse cx="310" cy="377.5" rx="3.2" ry="3.4" fill="#1cf91c" transform="rotate(34 310 377.5)"/>
<ellipse cx="282.5" cy="391" rx="2.9" ry="3.3" fill="#1cf91c" transform="rotate(-17 282.5 391)"/>
<ellipse cx="309" cy="400" rx="4.7" ry="4.0" fill="#1cf91c" transform="rotate(3 309 400)"/>
<circle cx="306.6" cy="403.6" r="2.3" fill="#1cf91c"/>
<circle cx="304.9" cy="396.7" r="2.8" fill="#1cf91c"/>
<ellipse cx="317.5" cy="392.5" rx="2.8" ry="3.4" fill="#1cf91c" transform="rotate(-11 317.5 392.5)"/>
<ellipse cx="341" cy="391" rx="2.4" ry="6.4" fill="#1cf91c" transform="rotate(-2 341 391)"/>
<circle cx="340.2" cy="387.1" r="1.6" fill="#1cf91c"/>
<circle cx="343.5" cy="392.9" r="2.3" fill="#1cf91c"/>
<ellipse cx="332.5" cy="357.5" rx="4.1" ry="4.3" fill="#1cf91c" transform="rotate(-11 332.5 357.5)"/>
<circle cx="327.8" cy="360.1" r="2.1" fill="#1cf91c"/>
<circle cx="334.6" cy="360.7" r="2.6" fill="#1cf91c"/>
<ellipse cx="344" cy="365" rx="3.3" ry="2.8" fill="#1cf91c" transform="rotate(-31 344 365)"/>
<ellipse cx="370" cy="360" rx="5.9" ry="4.9" fill="#1cf91c" transform="rotate(-32 370 360)"/>
<circle cx="371.8" cy="363.5" r="2.5" fill="#1cf91c"/>
<circle cx="373.2" cy="364.6" r="2.6" fill="#1cf91c"/>
<ellipse cx="377.5" cy="365" rx="5.1" ry="5.5" fill="#1cf91c" transform="rotate(1 377.5 365)"/>
<circle cx="384.1" cy="364.8" r="3.6" fill="#1cf91c"/>
<circle cx="373.9" cy="367.9" r="3.3" fill="#1cf91c"/>
<ellipse cx="387.5" cy="362.5" rx="4.4" ry="3.4" fill="#1cf91c" transform="rotate(-13 387.5 362.5)"/>
<circle cx="389.5" cy="364.5" r="2.1" fill="#1cf91c"/>
<circle cx="388.5" cy="366.1" r="2.0" fill="#1cf91c"/>
<ellipse cx="397.5" cy="354" rx="3.6" ry="3.4" fill="#1cf91c" transform="rotate(15 397.5 354)"/>
<circle cx="399.4" cy="351.4" r="1.9" fill="#1cf91c"/>
<circle cx="398.1" cy="349.8" r="1.5" fill="#1cf91c"/>
<ellipse cx="380" cy="336" rx="4.1" ry="4.0" fill="#1cf91c" transform="rotate(25 380 336)"/>
<circle cx="383.0" cy="337.9" r="1.6" fill="#1cf91c"/>
<circle cx="375.9" cy="337.6" r="2.3" fill="#1cf91c"/>
<ellipse cx="389" cy="335" rx="2.4" ry="2.7" fill="#1cf91c" transform="rotate(-12 389 335)"/>
<ellipse cx="412.5" cy="337" rx="2.4" ry="6.4" fill="#1cf91c" transform="rotate(-7 412.5 337)"/>
<circle cx="410.5" cy="334.1" r="1.7" fill="#1cf91c"/>
<circle cx="412.7" cy="340.8" r="1.9" fill="#1cf91c"/>
<ellipse cx="437.5" cy="304" rx="5.6" ry="5.1" fill="#1cf91c" transform="rotate(-2 437.5 304)"/>
<circle cx="436.4" cy="299.2" r="1.9" fill="#1cf91c"/>
<circle cx="435.0" cy="299.8" r="2.7" fill="#1cf91c"/>
<ellipse cx="416" cy="296" rx="4.4" ry="5.2" fill="#1cf91c" transform="rotate(-2 416 296)"/>
<circle cx="419.7" cy="295.0" r="2.9" fill="#1cf91c"/>
<circle cx="421.0" cy="295.3" r="2.7" fill="#1cf91c"/>
<ellipse cx="406" cy="299" rx="4.7" ry="4.6" fill="#1cf91c" transform="rotate(-13 406 299)"/>
<circle cx="408.7" cy="296.2" r="1.5" fill="#1cf91c"/>
<circle cx="408.6" cy="297.3" r="1.4" fill="#1cf91c"/>
<ellipse cx="425" cy="305" rx="2.9" ry="2.9" fill="#1cf91c" transform="rotate(29 425 305)"/>
<ellipse cx="439" cy="281" rx="3.8" ry="3.8" fill="#1cf91c" transform="rotate(15 439 281)"/>
<circle cx="441.9" cy="283.1" r="1.5" fill="#1cf91c"/>
<circle cx="438.1" cy="284.5" r="1.6" fill="#1cf91c"/>
<ellipse cx="446" cy="288" rx="2.4" ry="2.8" fill="#1cf91c" transform="rotate(7 446 288)"/>
<ellipse cx="350" cy="305.5" rx="2.6" ry="2.3" fill="#1cf91c" transform="rotate(18 350 305.5)"/>
<ellipse cx="355" cy="230" rx="5.8" ry="6.0" fill="#19c419" transform="rotate(24 355 230)"/>
<ellipse cx="331" cy="224" rx="3.8" ry="4.8" fill="#1cf91c" transform="rotate(10 331 224)"/>
<circle cx="333.5" cy="226.9" r="1.5" fill="#1cf91c"/>
<circle cx="332.5" cy="226.4" r="2.3" fill="#1cf91c"/>
<ellipse cx="382.5" cy="237.5" rx="2.4" ry="6.4" fill="#1cf91c" transform="rotate(-19 382.5 237.5)"/>
<circle cx="386.9" cy="237.6" r="1.6" fill="#1cf91c"/>
<circle cx="379.2" cy="236.8" r="1.7" fill="#1cf91c"/>
<ellipse cx="360" cy="256" rx="2.6" ry="3.2" fill="#1cf91c" transform="rotate(-23 360 256)"/>
<ellipse cx="360" cy="265" rx="4.7" ry="4.5" fill="#1cf91c" transform="rotate(-31 360 265)"/>
<circle cx="357.0" cy="268.0" r="1.7" fill="#1cf91c"/>
<circle cx="357.7" cy="266.7" r="1.9" fill="#1cf91c"/>
<ellipse cx="430" cy="217.5" rx="4.5" ry="4.1" fill="#1cf91c" transform="rotate(-30 430 217.5)"/>
<circle cx="431.4" cy="220.3" r="2.2" fill="#1cf91c"/>
<circle cx="426.1" cy="217.5" r="2.2" fill="#1cf91c"/>
<ellipse cx="434" cy="245" rx="4.3" ry="4.6" fill="#1cf91c" transform="rotate(-15 434 245)"/>
<circle cx="430.1" cy="244.2" r="2.1" fill="#1cf91c"/>
<circle cx="436.5" cy="247.1" r="1.7" fill="#1cf91c"/>
<ellipse cx="429" cy="252.5" rx="3.5" ry="4.8" fill="#1cf91c" transform="rotate(20 429 252.5)"/>
<circle cx="432.8" cy="251.0" r="2.1" fill="#1cf91c"/>
<circle cx="428.9" cy="249.2" r="1.5" fill="#1cf91c"/>
<ellipse cx="415" cy="245" rx="3.4" ry="3.0" fill="#1cf91c" transform="rotate(3 415 245)"/>
<ellipse cx="422.5" cy="234" rx="1.7" ry="1.6" fill="#1cf91c" transform="rotate(30 422.5 234)"/>
<ellipse cx="175" cy="251" rx="6.4" ry="2.4" fill="#1cf91c" transform="rotate(-29 175 251)"/>
<circle cx="172.3" cy="248.4" r="2.1" fill="#1cf91c"/>
<circle cx="172.0" cy="250.8" r="2.2" fill="#1cf91c"/>
<ellipse cx="261" cy="254" rx="2.5" ry="3.5" fill="#1cf91c" transform="rotate(31 261 254)"/>
<ellipse cx="267.5" cy="267.5" rx="2.4" ry="3.1" fill="#1cf91c" transform="rotate(-19 267.5 267.5)"/>
<ellipse cx="277.5" cy="254" rx="2.5" ry="3.4" fill="#1cf91c" transform="rotate(-3 277.5 254)"/>
<ellipse cx="240" cy="237.5" rx="2.7" ry="2.6" fill="#1cf91c" transform="rotate(-13 240 237.5)"/>
<ellipse cx="220" cy="225" rx="2.1" ry="2.1" fill="#1cf91c" transform="rotate(-26 220 225)"/>
<ellipse cx="257.5" cy="339" rx="2.8" ry="3.5" fill="#1cf91c" transform="rotate(-33 257.5 339)"/>
<ellipse cx="220" cy="274" rx="2.7" ry="2.1" fill="#1cf91c" transform="rotate(14 220 274)"/>
<ellipse cx="192.5" cy="295.5" rx="2.1" ry="1.8" fill="#1cf91c" transform="rotate(16 192.5 295.5)"/>
<ellipse cx="279" cy="295" rx="1.7" ry="1.8" fill="#1cf91c" transform="rotate(32 279 295)"/>
<ellipse cx="172.5" cy="280" rx="3.1" ry="3.6" fill="#1cf91c" transform="rotate(4 172.5 280)"/>
<ellipse cx="437.5" cy="330" rx="2.4" ry="2.5" fill="#19c419" transform="rotate(-15 437.5 330)"/>
<ellipse cx="382.5" cy="379" rx="2.8" ry="3.5" fill="#19c419" transform="rotate(11 382.5 379)"/>
</g>
</g>
<g clip-path="url(#ic2)">
<rect x="56.2" y="437.0" width="401.5" height="401.6" fill="#010701"/>
<path d="M212.0 420.0 C192.0 431.7 188.7 445.0 180.0 455.0 C171.3 465.0 166.7 470.8 160.0 480.0 C153.3 489.2 146.7 500.0 140.0 510.0 C133.3 520.0 125.8 530.0 120.0 540.0 C114.2 550.0 108.8 560.0 105.0 570.0 C101.2 580.0 98.8 590.0 97.0 600.0 C95.2 610.0 94.2 620.0 94.0 630.0 C93.8 640.0 94.7 650.0 96.0 660.0 C97.3 670.0 99.3 680.3 102.0 690.0 C104.7 699.7 107.8 708.8 112.0 718.0 C116.2 727.2 121.5 736.7 127.0 745.0 C132.5 753.3 138.7 760.8 145.0 768.0 C151.3 775.2 157.5 781.8 165.0 788.0 C172.5 794.2 181.7 800.0 190.0 805.0 C198.3 810.0 205.8 813.8 215.0 818.0 C224.2 822.2 235.0 826.7 245.0 830.0 C255.0 833.3 262.5 835.5 275.0 838.0 C287.5 840.5 302.5 843.8 320.0 845.0 C337.5 846.2 364.2 847.8 380.0 845.0 C395.8 842.2 405.8 833.8 415.0 828.0 C424.2 822.2 429.2 816.0 435.0 810.0 C440.8 804.0 444.5 797.8 450.0 792.0 C455.5 786.2 459.7 790.3 468.0 775.0 C476.3 759.7 493.8 729.2 500.0 700.0 C506.2 670.8 505.0 633.3 505.0 600.0 C505.0 566.7 501.7 533.3 500.0 500.0 C498.3 466.7 511.7 419.2 495.0 400.0 C478.3 380.8 432.5 387.5 400.0 385.0 C367.5 382.5 331.3 379.2 300.0 385.0 C268.7 390.8 232.0 408.3 212.0 420.0Z" fill="#031c03" stroke="#031c03" stroke-width="30" filter="url(#bl2f)"/>
<g mask="url(#mb2)"><rect x="56.2" y="437.0" width="401.5" height="401.6" filter="url(#tx2)"/></g>
<g mask="url(#mr2)"><rect x="56.2" y="437.0" width="401.5" height="401.6" filter="url(#sp2)"/><rect x="56.2" y="437.0" width="401.5" height="401.6" filter="url(#sq2)"/></g>
<g clip-path="url(#oc2)" fill="none" stroke="#1c9a1c" stroke-linecap="round">
<path d="M135.9 706.4 Q131.0 691.7 126.8 678.0 Q122.6 673.9 113.1 661.4 Q108.1 651.6 109.7 642.0 Q113.0 633.7 117.8 618.9 Q123.2 614.6 129.6 603.6 Q138.9 598.6 145.5 585.0" stroke-width="0.62" opacity="0.51"/>
<path d="M108.2 749.3 Q117.2 748.2 126.1 752.7 Q137.2 751.5 151.8 742.7 Q165.8 736.1 174.0 723.3 Q185.0 715.4 194.6 714.5" stroke-width="0.93" opacity="0.54"/>
<path d="M148.9 790.7 Q157.4 777.5 165.8 766.9 Q172.5 758.8 175.2 753.0 Q180.4 739.5 197.6 733.5 Q206.8 726.0 215.3 721.5 Q222.2 722.3 229.3 721.2 Q236.5 727.7 246.0 727.9" stroke-width="0.77" opacity="0.31"/>
<path d="M409.8 520.0 Q397.9 517.2 386.3 525.4 Q371.5 529.1 358.2 535.4 Q347.8 536.7 337.5 532.9 Q330.1 527.1 325.0 524.8" stroke-width="1.14" opacity="0.42"/>
<path d="M378.7 475.9 Q383.5 484.1 386.7 490.3 Q391.4 497.6 391.5 504.2 Q396.3 510.6 402.7 513.5 Q409.7 520.9 425.5 531.6 Q433.5 533.8 443.5 536.3" stroke-width="1.23" opacity="0.42"/>
<path d="M126.4 669.8 Q130.6 673.2 137.0 679.3 Q141.6 682.9 151.3 687.6 Q157.6 692.4 170.1 704.9" stroke-width="0.70" opacity="0.39"/>
<path d="M143.7 689.0 Q147.2 680.0 158.5 670.3 Q160.3 660.0 167.7 651.6 Q170.3 642.3 169.1 632.9" stroke-width="0.63" opacity="0.50"/>
<path d="M392.0 736.9 Q392.3 723.4 395.4 709.6 Q402.2 703.1 403.8 695.7 Q407.7 691.8 416.0 684.8" stroke-width="1.29" opacity="0.54"/>
<path d="M366.5 634.2 Q359.0 630.7 344.0 622.8 Q336.2 619.9 327.6 608.9 Q318.9 597.3 313.8 582.7" stroke-width="1.30" opacity="0.29"/>
<path d="M103.8 483.6 Q111.9 471.7 115.4 456.9 Q122.6 446.3 123.1 437.2 Q115.9 426.3 118.5 413.7 Q117.0 404.3 116.8 394.5 Q112.7 385.8 113.1 377.0 Q110.9 370.8 112.8 364.4" stroke-width="1.02" opacity="0.33"/>
<path d="M238.8 685.7 Q225.3 678.2 213.1 673.5 Q209.5 668.5 193.4 651.7 Q185.6 649.5 178.9 641.6 Q173.0 635.6 168.4 633.2 Q159.9 623.2 156.9 616.5" stroke-width="1.09" opacity="0.32"/>
<path d="M197.4 689.0 Q192.5 683.4 187.4 681.5 Q182.4 670.1 177.2 655.2 Q171.3 643.2 173.6 630.6 Q172.6 620.5 168.3 611.0 Q163.1 600.4 166.9 587.8" stroke-width="0.75" opacity="0.37"/>
<path d="M303.7 772.3 Q299.0 776.1 295.2 781.7 Q292.4 787.8 290.1 792.7 Q284.5 802.8 286.1 812.5" stroke-width="0.69" opacity="0.53"/>
<path d="M373.4 648.4 Q387.4 652.3 400.7 654.2 Q410.2 663.0 419.3 666.9 Q424.3 672.9 428.7 676.4 Q434.9 688.0 433.3 699.7" stroke-width="0.97" opacity="0.44"/>
<path d="M253.8 702.6 Q246.4 695.1 241.5 689.0 Q237.2 682.6 237.9 676.2 Q235.7 669.5 237.0 660.9 Q232.6 651.5 224.9 643.8" stroke-width="0.71" opacity="0.29"/>
<path d="M412.6 651.7 Q404.6 651.5 392.2 658.1 Q387.7 661.8 382.0 665.8 Q374.7 669.4 368.7 672.9 Q357.3 679.4 351.6 694.3" stroke-width="1.08" opacity="0.33"/>
<path d="M357.3 783.4 Q354.0 774.5 343.7 770.1 Q340.3 764.3 338.4 759.1 Q336.3 748.9 330.5 734.7" stroke-width="1.25" opacity="0.44"/>
<path d="M394.9 531.8 Q404.5 534.1 418.9 539.8 Q427.4 538.4 437.9 536.3 Q447.0 533.7 456.1 539.9 Q466.5 542.8 478.4 542.2 Q485.2 540.7 491.9 538.8" stroke-width="1.23" opacity="0.43"/>
<path d="M120.7 543.8 Q107.9 548.8 95.4 547.7 Q86.3 551.9 77.1 552.1 Q69.1 550.7 57.2 555.9 Q44.2 554.0 30.9 558.1 Q22.2 558.0 14.5 549.0 Q6.5 538.5 -2.7 534.5" stroke-width="0.74" opacity="0.33"/>
<path d="M341.6 750.7 Q334.4 761.3 319.3 768.5 Q312.5 775.1 304.7 785.1 Q306.3 792.9 301.3 801.4" stroke-width="1.11" opacity="0.41"/>
<path d="M121.4 780.3 Q117.1 774.1 115.0 768.6 Q102.6 758.7 93.4 752.4 Q85.5 749.4 78.7 746.3 Q73.4 742.5 66.1 736.6 Q58.0 732.3 53.5 722.8" stroke-width="0.64" opacity="0.49"/>
<path d="M225.8 501.6 Q233.8 500.3 241.7 499.1 Q252.5 493.1 263.5 496.7 Q270.4 499.4 276.7 502.8" stroke-width="1.05" opacity="0.50"/>
<path d="M288.1 615.8 Q279.7 626.8 280.4 640.6 Q283.1 647.9 278.7 655.2 Q272.4 663.5 272.8 671.6 Q274.9 677.3 272.9 683.8 Q271.5 691.2 272.2 698.8 Q273.6 704.2 277.7 711.9" stroke-width="0.61" opacity="0.52"/>
<path d="M155.6 662.4 Q154.6 675.4 154.0 689.1 Q159.7 697.7 162.9 704.1 Q174.9 714.1 179.7 724.1 Q181.7 735.1 185.6 749.3 Q181.1 755.0 181.9 762.2 Q179.7 772.2 170.8 780.6" stroke-width="1.06" opacity="0.48"/>
<path d="M217.0 746.7 Q224.5 747.5 235.8 755.5 Q243.1 759.5 249.2 766.8 Q261.9 779.8 266.5 789.3 Q272.9 799.7 272.0 809.8 Q277.1 816.7 287.7 832.8" stroke-width="1.04" opacity="0.46"/>
<path d="M233.4 735.5 Q239.9 736.9 248.7 731.0 Q259.9 725.9 265.4 711.2 Q271.6 702.0 272.5 694.3 Q276.9 681.9 289.3 671.6" stroke-width="0.70" opacity="0.38"/>
<path d="M402.5 692.7 Q394.8 699.8 392.0 705.3 Q388.8 718.7 376.6 730.6 Q372.8 735.2 365.7 743.5" stroke-width="1.03" opacity="0.51"/>
<path d="M361.7 772.3 Q372.1 771.5 382.6 770.3 Q393.6 777.4 403.8 781.1 Q411.0 780.1 417.8 784.2 Q424.1 783.5 430.5 779.2 Q433.6 770.0 444.9 760.7 Q450.7 751.2 452.9 742.3" stroke-width="0.87" opacity="0.50"/>
<path d="M118.1 583.2 Q118.6 571.4 108.5 556.6 Q104.5 546.6 97.7 537.9 Q90.5 531.7 86.2 528.5 Q71.7 520.5 57.9 520.3 Q47.4 519.8 39.5 509.9" stroke-width="0.83" opacity="0.49"/>
<path d="M160.1 503.4 Q158.1 508.7 151.5 516.4 Q145.7 524.8 143.2 532.3 Q135.0 540.3 130.4 543.9 Q124.0 549.2 121.4 557.3" stroke-width="0.73" opacity="0.58"/>
<path d="M299.6 782.3 Q288.1 784.8 280.5 795.4 Q273.8 796.2 267.1 796.8 Q260.3 796.8 253.2 791.2 Q241.1 784.6 234.8 774.2" stroke-width="0.70" opacity="0.47"/>
<path d="M303.9 479.7 Q313.1 475.6 317.4 465.8 Q325.4 461.9 336.1 456.7 Q349.1 458.8 364.3 448.3 Q376.4 439.6 385.8 429.6 Q395.3 424.8 403.4 422.2 Q417.2 422.3 429.8 411.7" stroke-width="0.92" opacity="0.42"/>
<path d="M262.6 544.4 Q251.7 536.0 243.2 529.7 Q239.2 520.2 230.5 512.2 Q231.0 504.4 228.6 495.6 Q221.9 481.6 226.3 467.4 Q220.8 455.3 217.2 443.5" stroke-width="0.77" opacity="0.34"/>
<path d="M389.0 689.6 Q381.2 678.7 381.5 668.8 Q378.8 664.2 373.3 659.8 Q370.5 648.2 364.5 638.0" stroke-width="1.30" opacity="0.55"/>
<path d="M219.6 680.3 Q227.5 682.5 234.3 689.4 Q239.9 700.9 256.1 709.8 Q259.2 720.3 263.9 729.1 Q271.9 733.6 278.6 740.4" stroke-width="0.90" opacity="0.27"/>
<path d="M321.7 802.9 Q323.6 810.3 334.6 822.9 Q338.5 831.7 342.7 838.6 Q347.3 844.8 347.1 850.4 Q350.1 860.1 346.2 872.6" stroke-width="0.86" opacity="0.36"/>
<path d="M360.2 811.8 Q365.6 821.9 369.4 829.6 Q379.3 839.2 384.4 848.5 Q391.0 849.4 396.6 855.4 Q407.4 862.8 418.7 864.1 Q424.4 865.8 431.4 868.7 Q443.0 874.5 455.0 886.6" stroke-width="0.85" opacity="0.42"/>
<path d="M191.6 493.7 Q178.8 493.2 166.7 500.3 Q158.6 501.2 144.7 508.8 Q136.4 511.6 128.0 510.7 Q119.5 504.6 108.9 506.0 Q100.3 498.0 93.1 495.9 Q88.4 488.3 85.5 482.4" stroke-width="1.13" opacity="0.35"/>
<path d="M237.5 804.7 Q244.6 806.1 251.6 805.4 Q264.8 801.7 278.4 800.9 Q285.0 797.9 291.7 799.1 Q298.4 799.5 304.9 801.3 Q319.3 798.8 333.2 807.7" stroke-width="0.96" opacity="0.57"/>
<path d="M107.7 680.4 Q115.1 675.4 127.8 663.3 Q127.7 651.6 134.5 640.7 Q132.8 628.7 138.5 616.5 Q143.5 604.3 139.8 589.4 Q140.3 580.0 152.2 566.8 Q165.6 557.3 174.9 549.6" stroke-width="0.64" opacity="0.59"/>
<path d="M344.7 555.5 Q355.1 550.1 363.5 546.8 Q373.0 543.5 383.7 548.7 Q393.9 552.4 406.9 562.0 Q414.5 567.2 421.5 566.5" stroke-width="1.23" opacity="0.45"/>
<path d="M375.5 642.0 Q381.9 656.8 381.5 671.0 Q381.8 684.0 378.1 697.0 Q374.5 703.8 370.6 711.7 Q363.5 718.5 357.8 722.0" stroke-width="0.71" opacity="0.42"/>
<path d="M310.4 688.5 Q315.9 685.6 317.7 678.7 Q321.1 671.2 319.8 663.5 Q326.1 655.5 332.9 645.4 Q338.9 641.2 346.2 637.3" stroke-width="0.64" opacity="0.30"/>
<path d="M310.4 559.3 Q302.2 550.6 297.6 545.2 Q284.6 538.6 273.2 533.2 Q268.2 526.0 262.8 520.0 Q258.8 513.0 252.4 503.7 Q247.7 500.0 242.2 497.0" stroke-width="1.16" opacity="0.30"/>
<path d="M319.4 620.9 Q308.0 615.8 295.9 619.0 Q289.5 615.7 283.2 617.8 Q274.3 608.9 267.8 605.5 Q261.7 603.1 256.5 600.5 Q250.6 595.5 245.8 592.7 Q239.8 590.0 232.1 586.3" stroke-width="1.09" opacity="0.42"/>
<path d="M369.9 642.2 Q380.0 642.0 390.6 644.4 Q404.5 642.6 416.3 633.6 Q425.8 633.6 438.2 634.2 Q444.1 638.5 449.2 641.9" stroke-width="1.17" opacity="0.43"/>
<path d="M361.8 592.2 Q360.7 588.0 357.7 580.5 Q355.6 576.2 350.1 568.7 Q346.3 562.1 346.0 556.0 Q348.0 549.4 348.6 543.0 Q347.7 536.3 353.1 530.4" stroke-width="1.22" opacity="0.42"/>
<path d="M297.6 505.3 Q286.1 501.9 280.0 489.4 Q269.9 481.2 266.7 468.0 Q267.2 453.9 260.3 440.3 Q257.8 431.6 256.7 423.3" stroke-width="0.65" opacity="0.46"/>
<path d="M353.3 652.0 Q344.6 654.5 328.4 668.0 Q321.5 670.6 309.7 676.0 Q300.7 676.1 291.5 676.8" stroke-width="0.66" opacity="0.55"/>
<path d="M189.0 630.7 Q195.9 621.5 197.8 614.3 Q205.7 607.3 208.3 597.5 Q215.8 587.3 226.4 578.1" stroke-width="0.67" opacity="0.37"/>
<path d="M148.4 721.4 Q153.6 725.3 159.7 733.7 Q172.7 731.7 185.1 740.6 Q191.3 749.9 204.4 754.2 Q212.1 759.5 219.9 758.6 Q228.2 755.0 236.9 756.7 Q243.5 755.7 250.8 761.7" stroke-width="1.21" opacity="0.53"/>
<path d="M173.3 598.0 Q159.9 598.7 149.5 612.2 Q140.6 624.5 130.5 634.4 Q117.7 642.5 113.1 657.0 Q112.2 662.9 107.3 669.9 Q106.3 672.6 99.3 680.3 Q96.6 686.7 93.5 691.7" stroke-width="1.17" opacity="0.44"/>
<path d="M297.5 792.2 Q307.2 792.9 322.4 807.3 Q326.9 815.4 338.4 824.2 Q343.1 838.6 346.1 852.7 Q339.9 861.8 340.9 873.3" stroke-width="0.74" opacity="0.53"/>
<path d="M175.7 787.2 Q189.6 796.4 202.2 799.9 Q214.1 800.6 225.9 813.6 Q237.9 824.4 248.6 828.8 Q257.2 831.2 264.6 838.1" stroke-width="0.95" opacity="0.59"/>
<path d="M289.7 734.6 Q294.6 738.2 300.5 741.5 Q301.7 745.7 306.2 752.2 Q307.5 760.8 310.6 768.9 Q304.0 780.6 304.2 792.7 Q303.6 802.1 303.4 811.7" stroke-width="1.02" opacity="0.49"/>
<path d="M395.6 606.8 Q397.1 615.3 390.4 623.8 Q390.6 632.3 386.0 640.4 Q384.8 645.5 390.4 654.0 Q390.0 663.8 391.4 674.2 Q385.9 686.1 378.1 697.1" stroke-width="1.24" opacity="0.30"/>
<path d="M392.1 680.9 Q382.1 673.5 374.4 669.7 Q368.0 670.5 361.1 669.6 Q351.0 674.9 338.1 684.5" stroke-width="1.16" opacity="0.53"/>
<path d="M132.4 482.2 Q126.2 489.4 124.4 494.6 Q122.3 506.0 109.1 519.0 Q111.2 528.6 108.7 539.1 Q102.9 543.6 100.2 552.7" stroke-width="1.11" opacity="0.55"/>
<path d="M185.7 726.4 Q180.8 725.8 174.2 722.6 Q165.9 717.0 158.2 706.2 Q159.7 692.9 148.9 680.4 Q153.4 666.3 153.4 652.7" stroke-width="1.02" opacity="0.37"/>
<path d="M370.3 656.9 Q369.9 648.1 376.9 640.2 Q379.1 632.2 376.3 622.8 Q386.0 608.8 389.2 597.3 Q392.5 589.2 393.6 577.5" stroke-width="0.61" opacity="0.28"/>
<path d="M373.4 465.2 Q376.2 454.2 382.5 443.8 Q384.8 430.1 395.5 419.6 Q391.6 410.2 396.3 398.0 Q399.1 390.2 395.0 382.1" stroke-width="0.77" opacity="0.53"/>
<path d="M375.4 476.5 Q382.8 483.0 388.2 487.0 Q393.9 493.0 401.4 494.5 Q407.9 497.9 414.4 496.0 Q421.4 494.9 427.7 490.1 Q433.5 485.2 439.1 484.3" stroke-width="0.65" opacity="0.27"/>
<path d="M414.9 494.2 Q405.6 498.4 398.3 503.6 Q388.3 509.4 384.6 520.3 Q380.1 522.3 372.8 524.3 Q366.4 535.4 354.8 547.5" stroke-width="1.21" opacity="0.40"/>
<path d="M352.9 513.0 Q341.0 513.3 327.3 513.7 Q313.2 519.5 299.1 515.7 Q289.0 513.1 278.7 514.0 Q274.1 517.8 266.8 519.0 Q257.7 518.7 248.6 521.1 Q238.3 518.7 225.2 513.5" stroke-width="0.66" opacity="0.52"/>
<path d="M121.7 767.0 Q109.5 771.7 94.9 778.6 Q84.1 782.7 71.5 776.5 Q65.8 777.5 59.5 773.8 Q51.4 767.5 42.3 767.9" stroke-width="0.90" opacity="0.55"/>
<path d="M345.5 548.2 Q340.9 560.5 346.8 573.8 Q351.6 581.2 354.2 586.8 Q366.5 592.6 376.5 604.8" stroke-width="0.88" opacity="0.34"/>
<path d="M211.2 660.4 Q198.0 652.7 186.8 644.5 Q182.4 633.9 169.4 622.0 Q165.0 615.4 160.0 611.2 Q151.2 607.4 144.4 602.9" stroke-width="0.94" opacity="0.60"/>
<path d="M318.4 788.9 Q317.5 801.5 318.9 814.2 Q321.3 826.3 333.7 839.2 Q338.2 842.0 346.6 848.3 Q350.6 849.3 358.1 853.6 Q367.4 859.7 379.2 867.6 Q390.6 874.9 401.1 874.7" stroke-width="1.13" opacity="0.30"/>
<path d="M237.2 785.8 Q249.7 784.3 261.6 793.7 Q265.7 798.4 270.4 802.7 Q281.6 812.9 292.5 814.5 Q293.1 822.0 300.4 829.4 Q306.4 838.3 312.9 844.7" stroke-width="1.09" opacity="0.58"/>
<path d="M314.2 543.3 Q320.9 530.2 328.3 521.0 Q331.9 515.2 330.5 508.3 Q337.9 498.5 346.3 487.6 Q346.2 480.7 347.5 472.8 Q342.7 463.2 344.7 451.6" stroke-width="0.66" opacity="0.41"/>
<path d="M378.8 618.8 Q374.8 608.6 380.2 597.8 Q379.3 589.0 376.6 580.1 Q375.0 572.6 370.1 566.6 Q370.0 559.4 367.0 552.4 Q369.3 540.9 363.2 529.3 Q366.3 521.8 364.4 514.3" stroke-width="0.73" opacity="0.47"/>
<path d="M374.3 618.1 Q363.9 626.4 349.9 634.3 Q344.3 640.2 339.1 644.1 Q328.9 647.7 319.6 662.6" stroke-width="0.74" opacity="0.31"/>
<path d="M99.5 712.2 Q94.2 717.6 91.2 722.6 Q87.7 725.8 81.1 734.3 Q76.5 740.7 72.0 744.7 Q64.8 754.1 63.1 761.8" stroke-width="1.10" opacity="0.29"/>
<path d="M156.9 532.1 Q142.7 534.4 128.4 532.7 Q120.6 531.1 111.9 533.0 Q105.8 534.6 99.5 534.1 Q94.1 536.0 89.4 541.2 Q79.3 542.0 67.1 545.9 Q60.7 552.0 52.9 553.5" stroke-width="0.68" opacity="0.60"/>
<path d="M106.7 808.1 Q104.0 795.3 94.8 785.2 Q93.7 772.4 85.4 756.8 Q82.7 750.3 82.6 743.7" stroke-width="0.85" opacity="0.52"/>
<path d="M194.7 710.8 Q201.4 707.3 211.1 707.0 Q216.8 701.4 229.4 695.1 Q239.7 688.5 249.4 686.7" stroke-width="0.87" opacity="0.51"/>
<path d="M179.4 755.6 Q186.0 763.5 188.4 768.9 Q189.1 775.7 190.2 782.9 Q198.7 791.9 200.1 806.4 Q200.8 818.9 199.0 834.9 Q196.9 846.5 190.4 861.6 Q182.0 874.6 183.2 886.7" stroke-width="0.89" opacity="0.36"/>
<path d="M332.0 802.0 Q344.9 803.5 356.6 794.1 Q363.5 781.0 376.7 774.1 Q380.2 766.2 391.7 755.8 Q404.7 747.8 416.4 747.5 Q422.9 746.4 430.6 739.4 Q438.9 740.9 447.4 740.6" stroke-width="1.28" opacity="0.41"/>
<path d="M118.9 492.9 Q120.7 498.9 121.6 505.1 Q123.2 511.2 125.6 516.8 Q126.8 529.1 132.2 545.3 Q132.6 551.9 129.7 558.4 Q134.6 572.7 137.9 586.4 Q143.9 592.8 145.5 597.9" stroke-width="1.19" opacity="0.53"/>
<path d="M399.3 539.3 Q404.6 537.9 412.9 535.4 Q420.2 530.1 429.1 516.9 Q439.0 504.8 443.9 494.3 Q453.5 486.8 462.0 480.5" stroke-width="0.71" opacity="0.43"/>
<path d="M263.7 613.3 Q273.8 610.7 285.2 613.2 Q299.8 614.1 313.4 605.1 Q320.8 603.9 328.0 601.5 Q335.9 597.2 343.4 590.4" stroke-width="0.76" opacity="0.53"/>
<path d="M274.6 561.9 Q262.5 561.3 252.7 572.4 Q247.9 583.1 239.3 592.8 Q235.4 599.1 232.8 603.9 Q226.7 607.6 221.5 611.9 Q218.9 618.6 216.1 624.8 Q218.1 631.5 216.4 638.7" stroke-width="0.70" opacity="0.51"/>
<path d="M117.5 752.3 Q116.3 737.7 117.5 722.8 Q117.1 716.6 123.2 709.2 Q123.6 701.5 124.2 693.3 Q119.7 685.5 121.0 677.9 Q122.8 667.7 126.1 653.3" stroke-width="0.98" opacity="0.44"/>
<path d="M84.0 585.6 Q81.1 597.6 82.9 612.8 Q82.6 626.8 83.0 641.9 Q84.0 649.1 85.8 656.0 Q87.1 662.0 83.3 668.0 Q84.0 673.2 82.5 680.3" stroke-width="0.88" opacity="0.44"/>
<path d="M130.5 469.0 Q143.4 470.0 154.6 460.0 Q166.4 453.7 175.6 444.6 Q187.5 441.6 198.3 427.3 Q199.1 420.1 206.3 410.7 Q208.4 402.5 213.2 394.3" stroke-width="0.81" opacity="0.42"/>
<path d="M301.3 464.4 Q296.5 473.6 299.5 484.1 Q295.2 495.1 297.4 506.3 Q299.1 514.8 300.9 526.9 Q298.0 541.1 305.5 555.1" stroke-width="1.09" opacity="0.38"/>
<path d="M102.2 754.4 Q96.7 746.8 90.2 741.7 Q78.4 727.9 75.9 717.2 Q67.5 710.9 60.2 708.9" stroke-width="1.22" opacity="0.44"/>
<path d="M277.1 697.4 Q286.2 704.1 300.3 706.2 Q312.7 700.8 325.1 704.7 Q334.0 713.8 346.6 716.2 Q360.1 714.0 373.8 722.3 Q381.4 718.8 390.1 720.2" stroke-width="1.21" opacity="0.30"/>
<path d="M390.4 483.6 Q392.6 474.5 385.3 463.9 Q380.7 456.3 378.0 448.2 Q374.6 439.9 371.1 433.1 Q369.5 425.5 361.6 419.6 Q364.8 406.8 354.3 392.0 Q346.2 384.9 335.2 375.5" stroke-width="1.23" opacity="0.53"/>
<path d="M282.5 678.6 Q276.2 682.6 268.0 680.8 Q254.5 684.7 240.6 685.2 Q226.6 685.1 212.8 691.7 Q206.6 688.9 200.3 691.3" stroke-width="0.72" opacity="0.31"/>
<path d="M381.8 693.7 Q377.6 688.6 372.8 685.6 Q369.2 675.0 365.4 665.1 Q366.4 656.2 364.7 646.4 Q359.7 641.1 357.8 635.0 Q348.5 629.1 336.1 620.5" stroke-width="0.73" opacity="0.40"/>
<path d="M391.5 759.3 Q387.9 753.5 378.3 748.9 Q376.5 741.8 371.0 736.5 Q367.8 722.9 363.3 710.0 Q363.6 703.4 361.3 697.0 Q364.0 683.1 365.9 668.1 Q365.2 661.8 369.1 655.5" stroke-width="1.08" opacity="0.32"/>
<path d="M83.1 735.6 Q72.0 726.5 65.5 721.1 Q57.0 708.3 49.0 700.4 Q43.4 696.9 40.5 691.8" stroke-width="0.76" opacity="0.33"/>
<path d="M109.2 691.6 Q115.8 680.2 119.6 670.5 Q129.2 659.3 131.9 647.4 Q134.4 635.5 139.6 623.9 Q140.8 617.5 138.5 611.0 Q143.6 599.2 137.9 586.7" stroke-width="0.74" opacity="0.42"/>
<path d="M173.7 516.1 Q175.5 523.6 171.6 531.6 Q159.1 542.1 156.2 557.3 Q156.5 570.4 155.2 583.5" stroke-width="0.62" opacity="0.25"/>
<path d="M263.4 690.4 Q262.7 700.1 273.8 716.1 Q274.5 727.6 273.7 739.2 Q269.1 753.5 271.8 767.8 Q271.3 774.8 271.6 782.9 Q270.1 791.9 267.6 805.4 Q260.2 812.0 255.6 823.0" stroke-width="0.78" opacity="0.47"/>
<path d="M179.4 733.3 Q174.4 744.3 171.1 753.9 Q175.0 763.8 175.0 773.7 Q175.4 779.9 183.0 787.2" stroke-width="1.12" opacity="0.30"/>
<path d="M107.9 706.8 Q98.8 712.6 91.5 721.4 Q79.2 729.3 67.7 728.0 Q56.3 738.4 43.6 739.4" stroke-width="1.15" opacity="0.50"/>
<path d="M384.0 792.1 Q388.0 806.1 378.3 819.8 Q384.3 827.9 384.7 836.3 Q394.1 841.6 401.3 855.3 Q405.4 864.5 413.7 871.3" stroke-width="0.77" opacity="0.38"/>
<path d="M336.7 807.0 Q329.5 805.0 321.4 807.0 Q314.5 805.2 307.6 797.9 Q296.7 793.7 286.4 792.2 Q279.0 792.0 271.6 794.2 Q265.6 791.2 254.8 786.6" stroke-width="0.88" opacity="0.39"/>
<path d="M302.2 598.3 Q308.9 593.3 318.5 591.0 Q327.6 583.8 332.0 572.1 Q342.8 569.0 354.8 560.1" stroke-width="0.85" opacity="0.52"/>
<path d="M105.7 681.1 Q117.0 675.8 128.2 673.8 Q136.7 673.3 145.9 674.3 Q158.1 671.1 172.4 670.6 Q182.6 669.1 192.3 674.6" stroke-width="0.85" opacity="0.44"/>
<path d="M357.9 817.7 Q351.3 817.0 343.3 815.3 Q335.1 819.3 324.6 818.8 Q318.7 820.4 311.0 817.8 Q305.0 818.5 299.4 821.5 Q289.3 829.8 279.3 837.0 Q276.0 843.0 275.3 849.1" stroke-width="0.90" opacity="0.35"/>
<path d="M307.0 557.4 Q314.3 565.4 323.5 574.8 Q331.2 577.6 337.1 584.3 Q348.8 595.1 361.5 596.3 Q374.4 600.6 389.7 596.4 Q395.6 596.9 400.9 601.1 Q411.0 605.3 426.7 611.8" stroke-width="1.25" opacity="0.32"/>
<path d="M326.0 629.6 Q335.8 617.0 338.0 607.3 Q344.1 601.1 352.1 592.7 Q366.1 592.6 377.7 580.7 Q388.1 585.0 398.9 580.7 Q405.5 582.6 412.1 582.2" stroke-width="0.61" opacity="0.29"/>
<path d="M380.9 704.5 Q393.0 694.3 409.2 696.0 Q417.7 696.8 427.5 696.3 Q439.5 691.4 454.1 695.7 Q465.9 696.1 477.9 689.0 Q488.4 683.1 496.1 678.5 Q503.0 674.9 509.5 669.4" stroke-width="1.24" opacity="0.47"/>
<path d="M228.2 662.8 Q221.5 663.3 216.1 670.5 Q208.2 678.3 205.1 683.7 Q203.9 694.9 198.5 707.0 Q197.9 715.0 198.8 723.1 Q199.6 734.1 194.8 744.8 Q195.5 750.7 199.0 757.5" stroke-width="0.60" opacity="0.26"/>
<path d="M385.5 683.6 Q386.0 689.5 382.4 696.2 Q377.9 703.9 373.3 710.3 Q366.7 721.7 361.9 734.9 Q349.3 747.7 339.2 752.1 Q329.3 766.2 318.9 773.4 Q308.6 779.1 300.7 785.8" stroke-width="0.80" opacity="0.38"/>
<path d="M124.1 608.2 Q117.6 609.7 106.3 602.1 Q92.3 597.3 78.3 604.7 Q67.2 600.9 55.3 597.3 Q47.0 593.8 41.8 586.0" stroke-width="0.65" opacity="0.30"/>
<path d="M133.7 667.4 Q142.1 669.5 149.4 675.6 Q155.4 673.5 162.9 675.0 Q172.0 675.9 181.2 670.5" stroke-width="0.86" opacity="0.41"/>
<path d="M366.7 619.3 Q371.8 612.9 371.8 603.0 Q373.4 595.8 371.7 588.4 Q365.9 573.7 361.1 560.7 Q352.8 548.2 352.2 537.4" stroke-width="0.91" opacity="0.33"/>
<path d="M230.2 695.5 Q242.4 689.0 255.4 690.3 Q262.7 694.7 274.4 695.8 Q285.1 702.4 292.6 709.2 Q297.9 715.5 302.0 719.5 Q308.0 722.0 312.8 725.2" stroke-width="0.80" opacity="0.43"/>
<path d="M173.8 613.6 Q184.4 605.1 192.1 601.4 Q197.2 595.6 202.7 591.5 Q211.2 587.2 218.4 581.8 Q227.0 574.6 236.3 573.3 Q244.2 574.5 253.4 568.6" stroke-width="0.89" opacity="0.29"/>
<path d="M301.2 601.6 Q295.1 614.5 288.2 625.8 Q280.7 633.2 276.2 636.7 Q269.8 643.6 261.7 644.6 Q251.1 655.6 243.9 660.2 Q231.9 666.0 224.4 678.1" stroke-width="1.13" opacity="0.53"/>
<path d="M308.7 711.8 Q298.0 707.7 284.3 713.0 Q273.0 717.4 263.8 723.7 Q256.9 722.7 248.6 724.0 Q244.0 728.8 237.3 729.9" stroke-width="0.87" opacity="0.29"/>
<path d="M182.7 765.5 Q172.9 757.1 167.2 752.0 Q165.8 744.0 155.3 733.9 Q147.9 725.1 142.2 720.3 Q140.2 714.6 137.9 707.6 Q136.0 699.5 130.0 691.3" stroke-width="1.24" opacity="0.52"/>
<path d="M121.2 682.9 Q118.7 674.7 117.7 666.8 Q117.2 658.5 123.4 648.5 Q126.2 636.9 128.8 625.6 Q135.0 614.9 133.6 604.2 Q133.8 597.5 137.8 591.3 Q138.6 583.8 145.7 575.8" stroke-width="0.99" opacity="0.46"/>
<path d="M87.1 789.2 Q96.8 791.0 108.9 790.6 Q115.1 793.7 123.3 798.8 Q129.3 806.5 136.1 819.1 Q150.1 829.4 162.3 832.9 Q168.4 837.5 173.4 837.9" stroke-width="0.95" opacity="0.56"/>
<path d="M221.4 747.9 Q218.6 757.5 212.0 772.9 Q205.6 783.3 200.4 798.9 Q189.5 804.2 184.5 818.1" stroke-width="0.91" opacity="0.42"/>
<path d="M391.7 614.8 Q385.3 608.8 378.1 604.7 Q366.2 594.7 355.9 590.0 Q347.2 581.1 345.1 571.4 Q349.4 559.5 342.6 544.4 Q336.7 535.6 337.4 526.3" stroke-width="0.98" opacity="0.37"/>
<path d="M246.7 620.3 Q258.4 624.4 270.1 618.4 Q281.0 608.4 287.9 604.8 Q299.7 600.3 309.3 594.9 Q320.8 586.4 334.9 589.2" stroke-width="1.10" opacity="0.31"/>
<path d="M119.0 496.7 Q126.7 485.5 138.2 480.4 Q142.7 477.6 152.5 471.3 Q153.6 459.6 162.0 449.4 Q166.7 437.0 168.0 424.8 Q173.1 414.0 168.5 403.1" stroke-width="1.17" opacity="0.54"/>
<path d="M349.7 546.5 Q358.9 553.1 367.2 557.9 Q373.4 565.7 374.3 572.2 Q383.7 582.2 390.0 587.7 Q399.4 595.7 405.8 609.3 Q411.6 617.0 412.1 623.3 Q412.8 629.5 412.2 637.0" stroke-width="0.64" opacity="0.46"/>
<path d="M363.5 804.0 Q377.7 803.7 393.1 801.5 Q399.5 799.7 404.8 796.2 Q409.4 791.2 421.6 779.8 Q429.3 776.8 434.0 769.3 Q445.6 767.7 455.8 761.2 Q467.6 758.1 479.8 758.7" stroke-width="1.18" opacity="0.36"/>
<path d="M172.8 669.2 Q170.5 677.7 164.5 685.1 Q157.5 693.5 160.0 706.6 Q160.1 716.0 161.5 725.9 Q163.2 732.3 170.3 739.0 Q181.5 747.4 190.9 748.6" stroke-width="1.11" opacity="0.26"/>
<path d="M190.1 490.2 Q181.7 500.4 172.6 512.0 Q164.7 519.6 160.9 524.1 Q153.0 526.5 145.8 528.5 Q136.2 540.8 128.0 547.7 Q114.3 555.9 101.2 553.9" stroke-width="1.22" opacity="0.26"/>
<path d="M421.6 736.7 Q424.9 727.8 429.5 719.6 Q436.3 708.6 440.1 697.7 Q445.8 692.3 448.6 688.8" stroke-width="0.81" opacity="0.51"/>
<path d="M254.5 585.8 Q262.4 590.9 269.6 594.9 Q276.5 602.7 280.0 615.8 Q286.6 622.5 290.1 627.2 Q298.4 634.4 303.6 638.7 Q310.9 649.9 313.0 661.5" stroke-width="0.68" opacity="0.35"/>
<path d="M122.2 636.7 Q123.9 623.4 117.8 609.6 Q120.1 598.6 117.9 586.7 Q124.5 577.3 126.0 568.2 Q135.2 559.2 140.7 554.6 Q146.9 554.8 153.4 551.9" stroke-width="0.67" opacity="0.35"/>
<path d="M173.7 613.7 Q176.4 620.3 173.8 626.9 Q177.4 637.1 172.2 648.4 Q172.8 653.1 177.9 661.7 Q180.8 670.9 188.7 676.9" stroke-width="0.69" opacity="0.42"/>
<path d="M116.2 778.9 Q118.9 775.0 126.8 769.1 Q130.6 760.0 141.2 753.9 Q154.2 748.3 169.1 744.9 Q182.3 749.5 195.1 749.0 Q201.9 747.4 209.4 747.7 Q221.5 758.3 234.2 760.0" stroke-width="0.89" opacity="0.43"/>
<path d="M133.3 460.2 Q118.4 464.4 103.5 461.9 Q94.3 458.1 82.9 459.2 Q75.3 457.3 67.9 456.4 Q57.7 458.7 42.5 450.2" stroke-width="1.21" opacity="0.54"/>
<path d="M313.8 723.7 Q320.6 722.5 327.6 723.4 Q340.9 726.9 353.7 729.9 Q363.0 736.3 372.0 735.1 Q381.5 740.2 391.2 738.1 Q405.8 746.2 419.6 746.6 Q425.1 755.9 441.8 764.5" stroke-width="0.79" opacity="0.44"/>
<path d="M310.5 493.6 Q307.4 489.4 301.2 478.9 Q300.4 466.3 299.3 453.8 Q292.3 440.6 291.7 428.3 Q288.9 427.1 281.9 420.2 Q269.5 422.5 256.8 415.5" stroke-width="1.21" opacity="0.29"/>
<path d="M239.4 697.6 Q240.3 691.1 244.7 684.4 Q251.3 677.5 251.3 668.3 Q259.1 666.6 263.8 658.4 Q278.1 655.5 287.1 641.4 Q288.5 637.2 296.3 628.6 Q293.3 619.2 300.3 607.9" stroke-width="1.21" opacity="0.57"/>
<path d="M171.7 526.7 Q162.9 516.9 155.8 510.1 Q149.1 504.7 146.9 493.7 Q147.6 487.7 147.0 481.6" stroke-width="1.26" opacity="0.48"/>
<path d="M432.3 807.0 Q419.2 796.4 405.1 796.6 Q395.8 791.2 388.1 789.0 Q379.9 786.3 370.0 784.9 Q365.1 783.4 358.4 778.9 Q350.0 777.7 340.2 779.7 Q329.6 780.1 317.3 779.8" stroke-width="0.79" opacity="0.27"/>
<path d="M194.5 490.8 Q186.3 487.3 178.9 476.5 Q173.5 468.1 171.3 461.3 Q174.8 451.1 170.4 438.1 Q165.8 427.8 155.8 413.8" stroke-width="1.28" opacity="0.51"/>
<path d="M385.4 596.2 Q383.4 590.4 384.6 582.5 Q380.0 576.2 380.8 569.9 Q374.0 555.6 367.7 543.9" stroke-width="0.95" opacity="0.43"/>
<path d="M431.0 763.9 Q424.4 766.8 410.0 782.0 Q402.3 792.3 398.6 807.0 Q395.6 813.9 394.3 820.3 Q391.2 828.1 384.4 834.2 Q380.5 842.2 380.6 850.5" stroke-width="1.23" opacity="0.27"/>
<path d="M334.9 592.7 Q336.2 602.1 331.8 611.5 Q329.8 617.3 323.3 625.4 Q316.6 634.8 304.9 637.1 Q295.2 645.2 281.9 649.4 Q275.8 652.2 268.6 657.4 Q257.4 665.3 253.1 680.4" stroke-width="0.63" opacity="0.33"/>
<path d="M368.7 499.8 Q364.4 507.8 368.1 517.2 Q364.7 522.7 365.3 528.9 Q360.2 534.8 354.2 539.2 Q348.1 540.2 343.3 544.5 Q332.6 553.3 324.6 557.0 Q322.8 566.2 317.3 574.7" stroke-width="1.24" opacity="0.50"/>
<path d="M301.9 708.2 Q308.4 717.6 308.2 726.3 Q310.7 734.4 316.9 741.1 Q324.1 748.9 338.5 754.2 Q346.6 756.4 354.2 759.3 Q368.4 765.6 380.6 769.9" stroke-width="1.04" opacity="0.45"/>
<path d="M318.2 787.5 Q304.6 786.7 293.1 798.9 Q282.0 803.7 271.9 806.8 Q263.3 809.6 252.8 810.1" stroke-width="0.82" opacity="0.46"/>
<path d="M103.3 598.2 Q94.1 601.8 85.6 603.3 Q79.9 604.1 73.8 607.8 Q64.1 606.6 52.5 607.4 Q42.4 609.1 32.0 607.4" stroke-width="0.75" opacity="0.53"/>
<path d="M128.9 757.4 Q128.2 749.2 125.4 741.1 Q124.7 728.6 125.0 716.2 Q119.3 708.2 120.3 699.7" stroke-width="1.12" opacity="0.54"/>
<path d="M314.9 578.9 Q317.7 583.6 324.0 587.5 Q336.3 598.4 344.2 602.0 Q356.5 608.6 370.6 603.4 Q377.4 608.4 387.9 615.0 Q399.9 620.0 411.8 620.9 Q426.0 620.4 439.7 627.3" stroke-width="1.16" opacity="0.50"/>
<path d="M266.0 471.1 Q275.4 480.8 280.6 491.6 Q280.6 498.7 288.3 508.5 Q291.7 513.4 300.2 516.9 Q309.4 519.7 321.9 534.9" stroke-width="0.92" opacity="0.35"/>
<path d="M344.3 547.4 Q346.9 538.9 353.7 531.4 Q354.5 520.0 360.6 502.8 Q365.1 490.4 364.4 476.9" stroke-width="0.76" opacity="0.28"/>
<path d="M402.9 641.5 Q410.4 636.6 420.0 630.0 Q426.5 619.6 436.8 613.9 Q445.1 605.5 455.7 599.3 Q461.8 594.6 477.8 582.0 Q490.6 568.6 497.5 562.0" stroke-width="0.66" opacity="0.40"/>
<path d="M273.0 681.1 Q272.9 690.5 269.7 700.3 Q267.2 706.6 257.6 713.5 Q252.9 716.3 244.8 718.0" stroke-width="1.21" opacity="0.49"/>
<path d="M196.4 787.6 Q186.5 788.0 176.6 789.9 Q169.3 788.7 163.3 783.8 Q159.9 781.2 155.4 774.2" stroke-width="0.83" opacity="0.27"/>
<path d="M335.5 523.1 Q325.6 511.6 314.4 506.2 Q300.9 505.6 287.8 500.8 Q279.2 497.0 267.1 493.1 Q257.1 498.7 242.7 497.9 Q231.0 504.2 221.0 514.9 Q215.3 522.2 208.9 528.3" stroke-width="1.26" opacity="0.33"/>
<path d="M354.5 678.2 Q343.8 674.5 331.3 678.4 Q325.8 682.8 317.0 682.3 Q310.7 689.8 298.4 700.2 Q299.7 707.5 295.1 714.5" stroke-width="0.94" opacity="0.42"/>
<path d="M152.2 798.4 Q152.0 784.9 154.4 771.4 Q155.9 765.0 162.6 760.5 Q162.8 750.9 171.9 743.5 Q179.1 730.9 187.5 721.8" stroke-width="0.86" opacity="0.33"/>
<path d="M88.6 464.0 Q89.2 476.0 91.5 488.7 Q95.5 499.9 101.6 509.0 Q110.4 517.1 115.0 524.8 Q120.8 533.2 122.2 540.1" stroke-width="0.83" opacity="0.37"/>
<path d="M290.8 755.0 Q295.8 753.4 302.4 748.0 Q310.9 741.4 315.6 736.6 Q319.2 730.4 323.0 726.0 Q335.9 720.4 348.9 715.5 Q354.1 702.1 370.8 696.9 Q371.8 690.8 377.2 681.7" stroke-width="0.75" opacity="0.49"/>
<path d="M305.2 719.0 Q311.7 720.5 318.9 719.7 Q331.2 718.4 343.8 716.4 Q356.8 712.2 369.6 711.6 Q381.3 718.1 395.1 719.8 Q404.9 724.8 417.0 724.8 Q423.1 724.7 429.3 726.8" stroke-width="0.83" opacity="0.37"/>
<path d="M242.9 643.1 Q240.5 633.6 243.6 623.0 Q237.5 609.3 235.1 594.3 Q237.1 586.3 238.6 578.8 Q244.7 571.6 248.7 567.7 Q249.4 562.2 254.2 555.2 Q259.8 549.4 263.9 547.2" stroke-width="1.26" opacity="0.37"/>
<path d="M105.0 646.1 Q113.8 635.8 117.6 628.8 Q121.0 619.8 124.1 611.9 Q126.7 605.5 126.1 598.5" stroke-width="0.68" opacity="0.29"/>
</g>
<g clip-path="url(#oc2)" filter="url(#bl2e)">
<ellipse cx="392.0" cy="501.6" rx="2.1" ry="1.8" fill="#0d5a0d"/>
<ellipse cx="215.1" cy="491.1" rx="2.0" ry="2.4" fill="#0f6a0f"/>
<ellipse cx="247.5" cy="473.1" rx="1.9" ry="2.0" fill="#0d5a0d"/>
<ellipse cx="358.6" cy="655.0" rx="3.5" ry="2.5" fill="#128012"/>
<ellipse cx="128.0" cy="532.2" rx="3.3" ry="3.9" fill="#169516"/>
<ellipse cx="388.1" cy="458.5" rx="3.1" ry="2.8" fill="#1aa81a"/>
<ellipse cx="192.0" cy="486.7" rx="3.1" ry="3.5" fill="#0d5a0d"/>
<ellipse cx="237.0" cy="484.4" rx="1.6" ry="1.9" fill="#169516"/>
<ellipse cx="142.6" cy="799.8" rx="2.6" ry="3.2" fill="#0d5a0d"/>
<ellipse cx="371.9" cy="555.8" rx="2.8" ry="3.4" fill="#0f6a0f"/>
<ellipse cx="375.1" cy="825.5" rx="3.1" ry="3.8" fill="#1aa81a"/>
<ellipse cx="244.1" cy="739.3" rx="1.2" ry="0.9" fill="#169516"/>
<ellipse cx="420.8" cy="752.3" rx="1.5" ry="1.3" fill="#0f6a0f"/>
<ellipse cx="249.5" cy="668.0" rx="2.1" ry="2.0" fill="#1aa81a"/>
<ellipse cx="132.1" cy="757.4" rx="2.1" ry="2.7" fill="#169516"/>
<ellipse cx="232.6" cy="659.7" rx="2.0" ry="2.2" fill="#169516"/>
<ellipse cx="171.9" cy="706.2" rx="3.3" ry="4.1" fill="#1aa81a"/>
<ellipse cx="81.2" cy="579.1" rx="1.6" ry="1.2" fill="#128012"/>
<ellipse cx="183.1" cy="711.8" rx="3.6" ry="3.6" fill="#0d5a0d"/>
<ellipse cx="399.7" cy="802.5" rx="1.5" ry="1.4" fill="#0d5a0d"/>
<ellipse cx="418.2" cy="569.5" rx="1.3" ry="1.6" fill="#0f6a0f"/>
<ellipse cx="129.5" cy="450.3" rx="3.4" ry="3.9" fill="#128012"/>
<ellipse cx="174.3" cy="697.9" rx="2.9" ry="3.6" fill="#0f6a0f"/>
<ellipse cx="381.1" cy="587.3" rx="3.1" ry="2.7" fill="#0f6a0f"/>
<ellipse cx="160.8" cy="670.1" rx="3.4" ry="4.4" fill="#0f6a0f"/>
<ellipse cx="324.8" cy="630.8" rx="3.4" ry="4.4" fill="#0d5a0d"/>
<ellipse cx="281.6" cy="590.4" rx="1.4" ry="1.7" fill="#169516"/>
<ellipse cx="372.2" cy="621.2" rx="3.2" ry="3.7" fill="#1aa81a"/>
<ellipse cx="258.1" cy="814.0" rx="2.0" ry="2.5" fill="#169516"/>
<ellipse cx="240.8" cy="637.9" rx="1.6" ry="1.1" fill="#128012"/>
<ellipse cx="191.3" cy="775.4" rx="1.9" ry="1.4" fill="#128012"/>
<ellipse cx="352.4" cy="768.5" rx="1.4" ry="1.6" fill="#0f6a0f"/>
<ellipse cx="159.3" cy="633.1" rx="2.7" ry="3.1" fill="#128012"/>
<ellipse cx="206.1" cy="625.2" rx="1.5" ry="1.9" fill="#169516"/>
<ellipse cx="149.6" cy="661.3" rx="2.9" ry="3.7" fill="#0f6a0f"/>
<ellipse cx="199.3" cy="612.1" rx="3.1" ry="3.7" fill="#1aa81a"/>
<ellipse cx="248.5" cy="486.8" rx="3.1" ry="3.6" fill="#128012"/>
<ellipse cx="367.8" cy="724.9" rx="2.2" ry="2.7" fill="#169516"/>
<ellipse cx="207.3" cy="780.5" rx="3.3" ry="3.5" fill="#169516"/>
<ellipse cx="362.1" cy="585.9" rx="1.6" ry="1.8" fill="#1aa81a"/>
<ellipse cx="381.5" cy="760.7" rx="2.2" ry="1.8" fill="#0d5a0d"/>
<ellipse cx="414.6" cy="731.3" rx="2.7" ry="2.8" fill="#0f6a0f"/>
<ellipse cx="448.7" cy="761.5" rx="1.7" ry="1.6" fill="#0f6a0f"/>
<ellipse cx="78.7" cy="571.1" rx="2.7" ry="3.3" fill="#128012"/>
<ellipse cx="235.2" cy="475.7" rx="2.5" ry="2.7" fill="#128012"/>
<ellipse cx="350.8" cy="484.0" rx="1.6" ry="1.9" fill="#169516"/>
<ellipse cx="195.3" cy="818.7" rx="3.5" ry="3.1" fill="#0f6a0f"/>
<ellipse cx="421.0" cy="736.8" rx="1.2" ry="1.5" fill="#128012"/>
<ellipse cx="110.9" cy="798.5" rx="2.8" ry="2.0" fill="#0d5a0d"/>
<ellipse cx="326.2" cy="716.4" rx="2.2" ry="2.5" fill="#1aa81a"/>
<ellipse cx="327.4" cy="779.5" rx="3.1" ry="3.0" fill="#1aa81a"/>
<ellipse cx="261.4" cy="447.4" rx="2.1" ry="2.7" fill="#128012"/>
<ellipse cx="338.2" cy="484.4" rx="1.5" ry="1.2" fill="#1aa81a"/>
<ellipse cx="112.3" cy="452.8" rx="2.4" ry="3.0" fill="#169516"/>
<ellipse cx="364.9" cy="824.2" rx="2.9" ry="3.5" fill="#1aa81a"/>
<ellipse cx="128.8" cy="780.7" rx="1.2" ry="1.0" fill="#0d5a0d"/>
<ellipse cx="440.8" cy="696.5" rx="3.0" ry="2.5" fill="#0d5a0d"/>
<ellipse cx="321.1" cy="533.9" rx="3.2" ry="3.3" fill="#0d5a0d"/>
<ellipse cx="216.9" cy="780.8" rx="1.9" ry="2.2" fill="#0f6a0f"/>
<ellipse cx="363.1" cy="748.3" rx="1.5" ry="1.1" fill="#169516"/>
<ellipse cx="81.5" cy="490.3" rx="2.4" ry="2.8" fill="#0f6a0f"/>
<ellipse cx="134.8" cy="617.5" rx="2.2" ry="1.6" fill="#169516"/>
<ellipse cx="363.7" cy="553.3" rx="1.6" ry="1.2" fill="#0f6a0f"/>
<ellipse cx="435.9" cy="574.0" rx="2.9" ry="3.6" fill="#0d5a0d"/>
<ellipse cx="140.6" cy="827.0" rx="2.7" ry="2.0" fill="#0d5a0d"/>
<ellipse cx="104.2" cy="597.0" rx="2.9" ry="3.3" fill="#169516"/>
<ellipse cx="413.0" cy="623.0" rx="3.5" ry="3.9" fill="#0f6a0f"/>
<ellipse cx="253.5" cy="517.8" rx="2.2" ry="2.6" fill="#1aa81a"/>
<ellipse cx="304.4" cy="581.2" rx="3.3" ry="3.2" fill="#0d5a0d"/>
<ellipse cx="128.2" cy="541.7" rx="2.7" ry="2.8" fill="#1aa81a"/>
<ellipse cx="196.8" cy="598.7" rx="3.1" ry="3.4" fill="#169516"/>
<ellipse cx="99.1" cy="585.9" rx="2.4" ry="2.1" fill="#169516"/>
<ellipse cx="235.0" cy="473.2" rx="3.5" ry="4.3" fill="#169516"/>
<ellipse cx="97.2" cy="738.3" rx="1.7" ry="2.0" fill="#0f6a0f"/>
<ellipse cx="69.8" cy="544.9" rx="2.5" ry="2.8" fill="#1aa81a"/>
<ellipse cx="158.9" cy="461.7" rx="3.4" ry="3.0" fill="#1aa81a"/>
<ellipse cx="272.5" cy="799.3" rx="2.9" ry="3.3" fill="#169516"/>
<ellipse cx="80.5" cy="445.8" rx="2.2" ry="2.8" fill="#0f6a0f"/>
<ellipse cx="92.3" cy="542.8" rx="1.3" ry="1.2" fill="#0f6a0f"/>
<ellipse cx="332.4" cy="574.7" rx="2.2" ry="2.0" fill="#1aa81a"/>
<ellipse cx="197.4" cy="485.3" rx="2.6" ry="3.1" fill="#0d5a0d"/>
<ellipse cx="424.0" cy="457.3" rx="2.9" ry="2.1" fill="#0d5a0d"/>
<ellipse cx="173.9" cy="450.9" rx="1.4" ry="1.4" fill="#0d5a0d"/>
<ellipse cx="184.5" cy="485.0" rx="3.1" ry="3.7" fill="#169516"/>
<ellipse cx="387.8" cy="693.0" rx="3.5" ry="4.1" fill="#128012"/>
<ellipse cx="217.5" cy="802.4" rx="1.6" ry="1.9" fill="#128012"/>
<ellipse cx="334.3" cy="461.6" rx="3.3" ry="3.6" fill="#128012"/>
<ellipse cx="151.0" cy="755.8" rx="3.0" ry="2.3" fill="#0f6a0f"/>
<ellipse cx="432.7" cy="547.6" rx="2.8" ry="2.6" fill="#0d5a0d"/>
<ellipse cx="106.9" cy="493.4" rx="3.4" ry="2.8" fill="#128012"/>
<ellipse cx="67.5" cy="528.3" rx="2.5" ry="2.9" fill="#1aa81a"/>
<ellipse cx="259.7" cy="625.4" rx="2.4" ry="2.5" fill="#169516"/>
<ellipse cx="258.7" cy="692.0" rx="1.4" ry="1.4" fill="#128012"/>
<ellipse cx="88.5" cy="541.9" rx="1.7" ry="1.4" fill="#1aa81a"/>
<ellipse cx="202.7" cy="619.5" rx="3.5" ry="4.1" fill="#0f6a0f"/>
<ellipse cx="110.3" cy="573.5" rx="2.2" ry="2.2" fill="#169516"/>
<ellipse cx="326.4" cy="499.6" rx="3.4" ry="4.2" fill="#1aa81a"/>
<ellipse cx="82.9" cy="558.0" rx="2.5" ry="1.8" fill="#0d5a0d"/>
<ellipse cx="375.5" cy="661.4" rx="3.6" ry="4.3" fill="#1aa81a"/>
<ellipse cx="124.3" cy="483.6" rx="3.4" ry="3.5" fill="#169516"/>
<ellipse cx="278.3" cy="644.3" rx="1.4" ry="1.6" fill="#128012"/>
<ellipse cx="339.0" cy="558.7" rx="2.6" ry="3.1" fill="#128012"/>
<ellipse cx="100.2" cy="515.5" rx="2.8" ry="2.3" fill="#169516"/>
<ellipse cx="168.9" cy="588.8" rx="2.2" ry="2.6" fill="#0f6a0f"/>
<ellipse cx="448.9" cy="607.7" rx="1.3" ry="1.3" fill="#1aa81a"/>
<ellipse cx="298.4" cy="659.3" rx="3.4" ry="3.3" fill="#1aa81a"/>
<ellipse cx="86.5" cy="677.7" rx="3.2" ry="2.4" fill="#128012"/>
<ellipse cx="244.5" cy="586.0" rx="1.5" ry="1.5" fill="#0f6a0f"/>
<ellipse cx="194.4" cy="494.3" rx="1.7" ry="1.3" fill="#0d5a0d"/>
<ellipse cx="118.9" cy="713.9" rx="2.5" ry="2.1" fill="#128012"/>
<ellipse cx="390.4" cy="760.4" rx="3.4" ry="3.4" fill="#1aa81a"/>
<ellipse cx="150.5" cy="635.6" rx="2.1" ry="2.4" fill="#0d5a0d"/>
<ellipse cx="427.4" cy="577.5" rx="2.3" ry="2.3" fill="#128012"/>
<ellipse cx="209.9" cy="470.9" rx="3.3" ry="2.5" fill="#169516"/>
<ellipse cx="250.7" cy="672.3" rx="1.8" ry="1.4" fill="#169516"/>
<ellipse cx="399.8" cy="708.9" rx="3.5" ry="4.3" fill="#1aa81a"/>
<ellipse cx="217.9" cy="789.0" rx="1.7" ry="1.6" fill="#128012"/>
<ellipse cx="235.0" cy="662.1" rx="2.7" ry="2.4" fill="#1aa81a"/>
<ellipse cx="203.2" cy="584.3" rx="2.8" ry="2.1" fill="#128012"/>
<ellipse cx="285.2" cy="459.1" rx="2.9" ry="3.3" fill="#169516"/>
<ellipse cx="337.9" cy="506.6" rx="1.7" ry="2.1" fill="#128012"/>
<ellipse cx="133.2" cy="500.6" rx="3.4" ry="3.3" fill="#1aa81a"/>
<ellipse cx="70.6" cy="548.5" rx="1.6" ry="1.4" fill="#128012"/>
<ellipse cx="101.4" cy="552.3" rx="2.9" ry="3.0" fill="#1aa81a"/>
<ellipse cx="354.8" cy="500.5" rx="1.6" ry="1.7" fill="#1aa81a"/>
<ellipse cx="75.7" cy="649.1" rx="2.0" ry="2.3" fill="#1aa81a"/>
<ellipse cx="433.4" cy="699.6" rx="1.2" ry="1.0" fill="#0f6a0f"/>
<ellipse cx="370.0" cy="649.8" rx="1.4" ry="1.4" fill="#0d5a0d"/>
<ellipse cx="344.5" cy="650.6" rx="2.4" ry="2.6" fill="#1aa81a"/>
<ellipse cx="379.1" cy="696.3" rx="2.8" ry="2.8" fill="#128012"/>
<ellipse cx="280.3" cy="668.4" rx="1.5" ry="1.6" fill="#169516"/>
<ellipse cx="375.0" cy="623.9" rx="2.1" ry="1.9" fill="#169516"/>
<ellipse cx="65.7" cy="599.5" rx="2.0" ry="1.9" fill="#169516"/>
<ellipse cx="188.5" cy="487.3" rx="2.0" ry="2.4" fill="#128012"/>
<ellipse cx="346.7" cy="451.1" rx="2.2" ry="2.8" fill="#169516"/>
<ellipse cx="186.5" cy="558.5" rx="1.6" ry="1.3" fill="#128012"/>
<ellipse cx="270.7" cy="771.4" rx="2.2" ry="2.4" fill="#0d5a0d"/>
<ellipse cx="431.7" cy="530.8" rx="3.6" ry="3.8" fill="#128012"/>
<ellipse cx="234.7" cy="736.9" rx="1.3" ry="1.5" fill="#0f6a0f"/>
<ellipse cx="208.1" cy="671.4" rx="2.0" ry="1.6" fill="#0f6a0f"/>
<ellipse cx="415.7" cy="691.3" rx="1.6" ry="1.6" fill="#0d5a0d"/>
<ellipse cx="407.3" cy="525.3" rx="2.0" ry="2.6" fill="#1aa81a"/>
<ellipse cx="281.7" cy="490.7" rx="3.1" ry="3.9" fill="#1aa81a"/>
<ellipse cx="148.2" cy="620.6" rx="2.2" ry="1.7" fill="#169516"/>
<ellipse cx="109.8" cy="714.1" rx="2.9" ry="2.1" fill="#0d5a0d"/>
<ellipse cx="418.9" cy="464.5" rx="3.1" ry="3.7" fill="#1aa81a"/>
<ellipse cx="281.6" cy="522.1" rx="2.2" ry="2.8" fill="#1aa81a"/>
<ellipse cx="142.4" cy="746.5" rx="3.2" ry="2.4" fill="#128012"/>
<ellipse cx="64.5" cy="669.1" rx="3.5" ry="2.8" fill="#1aa81a"/>
<ellipse cx="357.3" cy="462.3" rx="2.5" ry="2.5" fill="#128012"/>
<ellipse cx="108.1" cy="660.4" rx="2.5" ry="2.0" fill="#1aa81a"/>
<ellipse cx="136.6" cy="754.7" rx="2.2" ry="1.6" fill="#128012"/>
<ellipse cx="255.8" cy="672.1" rx="2.7" ry="2.4" fill="#1aa81a"/>
<ellipse cx="422.0" cy="473.4" rx="2.7" ry="2.1" fill="#1aa81a"/>
<ellipse cx="164.8" cy="730.2" rx="1.2" ry="1.0" fill="#0d5a0d"/>
<ellipse cx="209.4" cy="767.1" rx="2.7" ry="2.7" fill="#0f6a0f"/>
<ellipse cx="306.5" cy="663.6" rx="2.9" ry="2.4" fill="#1aa81a"/>
<ellipse cx="399.9" cy="531.6" rx="1.6" ry="1.7" fill="#1aa81a"/>
<ellipse cx="409.9" cy="764.4" rx="2.1" ry="1.5" fill="#0d5a0d"/>
<ellipse cx="275.8" cy="536.6" rx="2.3" ry="2.5" fill="#0d5a0d"/>
<ellipse cx="116.5" cy="565.7" rx="2.4" ry="1.8" fill="#169516"/>
<ellipse cx="290.5" cy="807.1" rx="3.0" ry="3.0" fill="#0d5a0d"/>
<ellipse cx="304.4" cy="640.0" rx="1.4" ry="1.6" fill="#128012"/>
<ellipse cx="308.7" cy="696.6" rx="2.5" ry="2.6" fill="#0f6a0f"/>
<ellipse cx="102.2" cy="575.3" rx="1.3" ry="1.1" fill="#0d5a0d"/>
<ellipse cx="195.9" cy="813.2" rx="2.1" ry="2.2" fill="#128012"/>
<ellipse cx="106.4" cy="782.0" rx="2.4" ry="1.9" fill="#1aa81a"/>
<ellipse cx="85.2" cy="594.4" rx="1.9" ry="1.8" fill="#128012"/>
<ellipse cx="410.9" cy="601.1" rx="2.4" ry="2.4" fill="#169516"/>
<ellipse cx="169.6" cy="780.9" rx="3.3" ry="4.2" fill="#0d5a0d"/>
</g>
<ellipse cx="272" cy="648" rx="80" ry="62" fill="#000" opacity="0.5" filter="url(#bl2b)"/>
<ellipse cx="330" cy="520" rx="60" ry="40" fill="#000" opacity="0.25" filter="url(#bl2b)"/>
<g filter="url(#bl2c)">
<ellipse cx="192" cy="472.5" rx="5.4" ry="6.1" fill="#1cf91c" transform="rotate(-31 192 472.5)"/>
<circle cx="196.7" cy="475.0" r="2.9" fill="#1cf91c"/>
<circle cx="196.6" cy="474.5" r="2.1" fill="#1cf91c"/>
<ellipse cx="186" cy="486" rx="2.6" ry="3.1" fill="#1cf91c" transform="rotate(7 186 486)"/>
<ellipse cx="260" cy="487.5" rx="3.3" ry="8.8" fill="#1cf91c" transform="rotate(25 260 487.5)"/>
<circle cx="263.3" cy="491.8" r="2.3" fill="#1cf91c"/>
<circle cx="261.9" cy="483.0" r="2.5" fill="#1cf91c"/>
<ellipse cx="269" cy="489" rx="2.5" ry="3.6" fill="#1cf91c" transform="rotate(-2 269 489)"/>
<ellipse cx="320" cy="525" rx="5.5" ry="5.1" fill="#1cf91c" transform="rotate(-2 320 525)"/>
<circle cx="321.8" cy="529.5" r="2.3" fill="#1cf91c"/>
<circle cx="319.0" cy="530.3" r="1.9" fill="#1cf91c"/>
<ellipse cx="306" cy="442.5" rx="4.1" ry="3.2" fill="#1cf91c" transform="rotate(3 306 442.5)"/>
<circle cx="302.3" cy="444.5" r="2.1" fill="#1cf91c"/>
<circle cx="303.1" cy="443.2" r="1.9" fill="#1cf91c"/>
<ellipse cx="151" cy="507.5" rx="4.6" ry="5.0" fill="#1cf91c" transform="rotate(32 151 507.5)"/>
<circle cx="146.8" cy="506.1" r="1.8" fill="#1cf91c"/>
<circle cx="149.9" cy="511.1" r="2.0" fill="#1cf91c"/>
<ellipse cx="150" cy="520" rx="5.7" ry="5.5" fill="#1cf91c" transform="rotate(3 150 520)"/>
<circle cx="152.4" cy="523.4" r="3.1" fill="#1cf91c"/>
<circle cx="147.8" cy="523.2" r="2.5" fill="#1cf91c"/>
<ellipse cx="137.5" cy="529" rx="4.7" ry="4.5" fill="#1cf91c" transform="rotate(11 137.5 529)"/>
<circle cx="137.6" cy="523.9" r="2.8" fill="#1cf91c"/>
<circle cx="135.5" cy="524.4" r="2.8" fill="#1cf91c"/>
<ellipse cx="121" cy="542.5" rx="3.2" ry="3.7" fill="#1cf91c" transform="rotate(12 121 542.5)"/>
<circle cx="124.2" cy="540.2" r="1.9" fill="#1cf91c"/>
<circle cx="124.6" cy="544.3" r="1.7" fill="#1cf91c"/>
<ellipse cx="190" cy="524" rx="1.8" ry="4.8" fill="#1cf91c" transform="rotate(-2 190 524)"/>
<ellipse cx="180" cy="547.5" rx="3.8" ry="4.5" fill="#1cf91c" transform="rotate(8 180 547.5)"/>
<circle cx="183.1" cy="544.9" r="2.2" fill="#1cf91c"/>
<circle cx="176.5" cy="546.7" r="1.6" fill="#1cf91c"/>
<ellipse cx="172.5" cy="551" rx="2.6" ry="3.6" fill="#1cf91c" transform="rotate(-21 172.5 551)"/>
<ellipse cx="145" cy="561" rx="3.8" ry="4.7" fill="#1cf91c" transform="rotate(-35 145 561)"/>
<circle cx="140.8" cy="562.0" r="2.3" fill="#1cf91c"/>
<circle cx="147.9" cy="562.0" r="2.3" fill="#1cf91c"/>
<ellipse cx="161" cy="559" rx="3.1" ry="2.5" fill="#1cf91c" transform="rotate(-2 161 559)"/>
<ellipse cx="130" cy="571" rx="3.3" ry="4.2" fill="#1cf91c" transform="rotate(-20 130 571)"/>
<circle cx="133.3" cy="568.4" r="2.3" fill="#1cf91c"/>
<circle cx="126.2" cy="571.7" r="1.8" fill="#1cf91c"/>
<ellipse cx="106" cy="576" rx="4.3" ry="5.8" fill="#1cf91c" transform="rotate(19 106 576)"/>
<circle cx="107.8" cy="571.9" r="2.8" fill="#1cf91c"/>
<circle cx="109.7" cy="578.8" r="2.1" fill="#1cf91c"/>
<ellipse cx="101" cy="585" rx="3.8" ry="4.7" fill="#1cf91c" transform="rotate(-5 101 585)"/>
<circle cx="100.2" cy="587.8" r="2.2" fill="#1cf91c"/>
<circle cx="97.2" cy="586.6" r="2.2" fill="#1cf91c"/>
<ellipse cx="107.5" cy="596" rx="8.0" ry="3.0" fill="#1cf91c" transform="rotate(-27 107.5 596)"/>
<circle cx="110.0" cy="593.2" r="2.1" fill="#1cf91c"/>
<circle cx="105.8" cy="592.9" r="2.4" fill="#1cf91c"/>
<ellipse cx="132.5" cy="586" rx="4.7" ry="3.7" fill="#1cf91c" transform="rotate(-34 132.5 586)"/>
<circle cx="133.7" cy="582.1" r="1.6" fill="#1cf91c"/>
<circle cx="134.7" cy="588.8" r="2.0" fill="#1cf91c"/>
<ellipse cx="136" cy="580" rx="2.9" ry="2.6" fill="#1cf91c" transform="rotate(-32 136 580)"/>
<ellipse cx="130" cy="604" rx="2.4" ry="6.4" fill="#1cf91c" transform="rotate(-30 130 604)"/>
<circle cx="126.5" cy="601.7" r="1.4" fill="#1cf91c"/>
<circle cx="126.9" cy="605.7" r="1.9" fill="#1cf91c"/>
<ellipse cx="157.5" cy="612.5" rx="3.5" ry="4.2" fill="#1cf91c" transform="rotate(-19 157.5 612.5)"/>
<circle cx="159.3" cy="614.8" r="1.7" fill="#1cf91c"/>
<circle cx="157.7" cy="616.1" r="2.4" fill="#1cf91c"/>
<ellipse cx="152.5" cy="626" rx="4.3" ry="3.7" fill="#1cf91c" transform="rotate(4 152.5 626)"/>
<circle cx="148.5" cy="624.6" r="2.3" fill="#1cf91c"/>
<circle cx="154.9" cy="627.5" r="2.3" fill="#1cf91c"/>
<ellipse cx="187.5" cy="625" rx="4.4" ry="3.6" fill="#1cf91c" transform="rotate(-15 187.5 625)"/>
<circle cx="183.5" cy="625.0" r="1.8" fill="#1cf91c"/>
<circle cx="188.2" cy="621.2" r="1.6" fill="#1cf91c"/>
<ellipse cx="105" cy="627.5" rx="2.9" ry="2.9" fill="#1cf91c" transform="rotate(4 105 627.5)"/>
<ellipse cx="260" cy="540" rx="3.4" ry="3.7" fill="#1cf91c" transform="rotate(-33 260 540)"/>
<circle cx="263.2" cy="540.5" r="1.9" fill="#1cf91c"/>
<circle cx="259.5" cy="537.0" r="1.7" fill="#1cf91c"/>
<ellipse cx="270" cy="545" rx="3.8" ry="4.6" fill="#19c419" transform="rotate(13 270 545)"/>
<ellipse cx="257.5" cy="555" rx="3.4" ry="3.0" fill="#1cf91c" transform="rotate(-18 257.5 555)"/>
<ellipse cx="247.5" cy="530" rx="1.7" ry="1.8" fill="#1cf91c" transform="rotate(-30 247.5 530)"/>
<ellipse cx="210" cy="570" rx="3.5" ry="3.0" fill="#19c419" transform="rotate(-28 210 570)"/>
<ellipse cx="205" cy="581" rx="1.8" ry="1.9" fill="#1cf91c" transform="rotate(-11 205 581)"/>
<ellipse cx="212.5" cy="584" rx="2.0" ry="3.0" fill="#1cf91c" transform="rotate(-6 212.5 584)"/>
<ellipse cx="325" cy="592.5" rx="3.5" ry="3.2" fill="#19c419" transform="rotate(21 325 592.5)"/>
<ellipse cx="362.5" cy="586" rx="4.5" ry="4.0" fill="#19c419" transform="rotate(-6 362.5 586)"/>
<ellipse cx="295" cy="619" rx="3.5" ry="3.4" fill="#19c419" transform="rotate(8 295 619)"/>
<ellipse cx="314" cy="611" rx="2.7" ry="2.8" fill="#1cf91c" transform="rotate(-13 314 611)"/>
<ellipse cx="357.5" cy="607.5" rx="4.0" ry="4.0" fill="#1cf91c" transform="rotate(-10 357.5 607.5)"/>
<ellipse cx="390" cy="619" rx="4.0" ry="3.6" fill="#19c419" transform="rotate(14 390 619)"/>
<ellipse cx="356" cy="480" rx="3.7" ry="2.9" fill="#19c419" transform="rotate(27 356 480)"/>
<ellipse cx="275" cy="445" rx="1.9" ry="1.7" fill="#1cf91c" transform="rotate(-17 275 445)"/>
<ellipse cx="215" cy="457.5" rx="3.5" ry="3.2" fill="#1cf91c" transform="rotate(-15 215 457.5)"/>
<ellipse cx="282.5" cy="487.5" rx="3.1" ry="3.4" fill="#1cf91c" transform="rotate(-3 282.5 487.5)"/>
<ellipse cx="397.5" cy="550" rx="2.1" ry="1.7" fill="#1cf91c" transform="rotate(32 397.5 550)"/>
<ellipse cx="402.5" cy="465" rx="1.7" ry="1.2" fill="#1cf91c" transform="rotate(-15 402.5 465)"/>
<ellipse cx="102.5" cy="656" rx="3.5" ry="2.8" fill="#1cf91c" transform="rotate(30 102.5 656)"/>
<ellipse cx="124" cy="661" rx="2.8" ry="2.5" fill="#1cf91c" transform="rotate(25 124 661)"/>
<ellipse cx="130" cy="657.5" rx="3.7" ry="4.7" fill="#1cf91c" transform="rotate(16 130 657.5)"/>
<circle cx="128.8" cy="653.5" r="1.7" fill="#1cf91c"/>
<circle cx="127.8" cy="660.7" r="1.5" fill="#1cf91c"/>
<ellipse cx="142.5" cy="655" rx="2.6" ry="2.5" fill="#1cf91c" transform="rotate(-13 142.5 655)"/>
<ellipse cx="136" cy="676" rx="3.7" ry="4.7" fill="#1cf91c" transform="rotate(-23 136 676)"/>
<circle cx="133.4" cy="674.0" r="1.9" fill="#1cf91c"/>
<circle cx="134.7" cy="679.4" r="1.5" fill="#1cf91c"/>
<ellipse cx="104" cy="691" rx="3.0" ry="3.3" fill="#1cf91c" transform="rotate(28 104 691)"/>
<ellipse cx="122.5" cy="710" rx="5.0" ry="5.4" fill="#1cf91c" transform="rotate(16 122.5 710)"/>
<circle cx="124.3" cy="714.7" r="2.7" fill="#1cf91c"/>
<circle cx="119.8" cy="706.3" r="2.8" fill="#1cf91c"/>
<ellipse cx="185" cy="684" rx="4.8" ry="4.5" fill="#1cf91c" transform="rotate(26 185 684)"/>
<circle cx="183.1" cy="686.2" r="2.2" fill="#1cf91c"/>
<circle cx="184.3" cy="679.9" r="1.6" fill="#1cf91c"/>
<ellipse cx="177.5" cy="697" rx="3.4" ry="2.8" fill="#1cf91c" transform="rotate(7 177.5 697)"/>
<ellipse cx="245" cy="691" rx="4.3" ry="4.9" fill="#19c419" transform="rotate(-1 245 691)"/>
<ellipse cx="171" cy="725" rx="3.9" ry="4.6" fill="#1cf91c" transform="rotate(-24 171 725)"/>
<circle cx="168.5" cy="721.6" r="2.3" fill="#1cf91c"/>
<circle cx="171.3" cy="728.1" r="1.4" fill="#1cf91c"/>
<ellipse cx="174" cy="732.5" rx="4.1" ry="3.3" fill="#1cf91c" transform="rotate(-29 174 732.5)"/>
<circle cx="176.2" cy="730.6" r="2.3" fill="#1cf91c"/>
<circle cx="172.4" cy="734.9" r="1.6" fill="#1cf91c"/>
<ellipse cx="132.5" cy="731" rx="3.9" ry="3.6" fill="#1cf91c" transform="rotate(-31 132.5 731)"/>
<ellipse cx="140" cy="746" rx="4.0" ry="4.0" fill="#1cf91c" transform="rotate(-10 140 746)"/>
<circle cx="142.1" cy="748.1" r="2.3" fill="#1cf91c"/>
<circle cx="140.7" cy="742.1" r="2.2" fill="#1cf91c"/>
<ellipse cx="150" cy="762.5" rx="4.2" ry="4.3" fill="#1cf91c" transform="rotate(22 150 762.5)"/>
<circle cx="149.5" cy="759.3" r="2.2" fill="#1cf91c"/>
<circle cx="149.7" cy="759.3" r="1.8" fill="#1cf91c"/>
<ellipse cx="151" cy="774" rx="3.5" ry="4.0" fill="#1cf91c" transform="rotate(13 151 774)"/>
<ellipse cx="170" cy="779" rx="3.3" ry="2.7" fill="#1cf91c" transform="rotate(31 170 779)"/>
<ellipse cx="191" cy="802.5" rx="3.4" ry="3.2" fill="#1cf91c" transform="rotate(18 191 802.5)"/>
<ellipse cx="235" cy="727.5" rx="3.4" ry="3.1" fill="#19c419" transform="rotate(-5 235 727.5)"/>
<ellipse cx="261" cy="732.5" rx="3.0" ry="2.5" fill="#1cf91c" transform="rotate(-21 261 732.5)"/>
<ellipse cx="235" cy="757.5" rx="3.6" ry="3.7" fill="#1cf91c" transform="rotate(33 235 757.5)"/>
<ellipse cx="284" cy="760" rx="6.4" ry="2.4" fill="#1cf91c" transform="rotate(-2 284 760)"/>
<circle cx="286.3" cy="756.8" r="2.0" fill="#1cf91c"/>
<circle cx="287.6" cy="758.1" r="1.7" fill="#1cf91c"/>
<ellipse cx="321" cy="744" rx="2.1" ry="5.6" fill="#1cf91c" transform="rotate(29 321 744)"/>
<ellipse cx="390" cy="739.5" rx="2.4" ry="6.4" fill="#1cf91c" transform="rotate(-16 390 739.5)"/>
<circle cx="391.4" cy="742.6" r="1.8" fill="#1cf91c"/>
<circle cx="392.7" cy="737.6" r="2.1" fill="#1cf91c"/>
<ellipse cx="395" cy="815" rx="6.2" ry="4.7" fill="#1cf91c" transform="rotate(25 395 815)"/>
<circle cx="391.5" cy="817.9" r="2.1" fill="#1cf91c"/>
<circle cx="394.2" cy="811.2" r="3.0" fill="#1cf91c"/>
<ellipse cx="410" cy="816" rx="5.6" ry="4.1" fill="#1cf91c" transform="rotate(-21 410 816)"/>
<circle cx="409.7" cy="811.7" r="1.9" fill="#1cf91c"/>
<circle cx="414.5" cy="812.9" r="2.2" fill="#1cf91c"/>
<ellipse cx="396" cy="824" rx="4.3" ry="4.1" fill="#1cf91c" transform="rotate(13 396 824)"/>
<circle cx="398.9" cy="822.0" r="2.4" fill="#1cf91c"/>
<circle cx="393.6" cy="827.3" r="1.9" fill="#1cf91c"/>
<ellipse cx="427.5" cy="802.5" rx="2.8" ry="2.5" fill="#1cf91c" transform="rotate(16 427.5 802.5)"/>
<ellipse cx="301" cy="835" rx="3.6" ry="2.8" fill="#1cf91c" transform="rotate(34 301 835)"/>
<ellipse cx="265" cy="835" rx="3.3" ry="3.4" fill="#1cf91c" transform="rotate(18 265 835)"/>
<ellipse cx="362.5" cy="664" rx="1.8" ry="4.8" fill="#1cf91c" transform="rotate(-2 362.5 664)"/>
<ellipse cx="395" cy="661" rx="2.5" ry="2.7" fill="#1cf91c" transform="rotate(-16 395 661)"/>
<ellipse cx="441" cy="669" rx="2.8" ry="3.5" fill="#1cf91c" transform="rotate(-24 441 669)"/>
<ellipse cx="304" cy="644" rx="4.0" ry="3.8" fill="#19c419" transform="rotate(-21 304 644)"/>
<ellipse cx="162.5" cy="632.5" rx="4.6" ry="3.5" fill="#1cf91c" transform="rotate(15 162.5 632.5)"/>
<circle cx="160.5" cy="635.0" r="1.8" fill="#1cf91c"/>
<circle cx="165.0" cy="634.9" r="1.7" fill="#1cf91c"/>
<ellipse cx="204" cy="739" rx="1.8" ry="2.3" fill="#1cf91c" transform="rotate(-7 204 739)"/>
<ellipse cx="250" cy="710" rx="2.2" ry="2.6" fill="#1cf91c" transform="rotate(10 250 710)"/>
<ellipse cx="385" cy="711" rx="2.8" ry="2.9" fill="#1cf91c" transform="rotate(-4 385 711)"/>
<ellipse cx="326" cy="781" rx="2.1" ry="2.3" fill="#1cf91c" transform="rotate(13 326 781)"/>
<ellipse cx="317.5" cy="789" rx="4.8" ry="1.8" fill="#1cf91c" transform="rotate(9 317.5 789)"/>
<ellipse cx="337.5" cy="802.5" rx="3.0" ry="3.1" fill="#19c419" transform="rotate(8 337.5 802.5)"/>
</g>
</g>
<line x1="403.00" y1="412.20" x2="448.90" y2="412.20" stroke="#c8c8c8" stroke-width="2.0" stroke-linecap="butt"/>
<text x="425.90" y="408.80" font-size="10.8" text-anchor="middle" fill="#fff" stroke="#fff" stroke-width="0.3" font-weight="bold" >100 µm</text>
<line x1="406.80" y1="833.30" x2="452.60" y2="833.30" stroke="#e0e0e0" stroke-width="2.1" stroke-linecap="butt"/>
<text x="429.60" y="830.00" font-size="10.8" text-anchor="middle" fill="#fff" stroke="#fff" stroke-width="0.3" font-weight="bold" >100 µm</text>
<clipPath id="cbl"><rect x="584.4" y="30.9" width="391.80000000000007" height="347.1"/></clipPath>
<g clip-path="url(#cbl)">
<polyline points="587.5,100.0 591.8,88.8 595.0,110.0 598.8,121.8 602.5,121.2 605.8,119.2 609.2,122.0 613.0,119.5 617.0,120.0 623.0,122.5 627.5,126.8 631.2,127.5 635.0,125.0 638.0,120.8 641.8,124.2 645.0,123.2 648.0,131.2 651.8,126.2 655.0,127.5 659.2,130.5 663.0,74.2 666.8,113.8 670.0,120.0 673.8,127.5 677.0,135.8 680.8,128.2 684.5,130.0 688.0,130.5 691.8,133.2 698.8,113.8 702.5,126.2 705.8,128.0 709.5,132.5 713.0,129.5 716.8,132.5 720.0,131.2 723.8,113.0 727.5,123.0 730.8,123.2 734.5,125.8 738.0,127.5 741.8,125.0 745.0,128.8 748.8,126.8 752.5,81.8 755.8,113.8 759.5,125.0 763.2,125.8 766.8,125.5 770.0,126.2 773.8,132.5 777.5,134.2 781.2,129.5 785.0,131.2 788.0,116.2 791.8,125.8 795.0,126.8 798.8,131.2 802.5,133.2 806.2,134.2 810.0,130.0 813.8,130.8 817.5,130.5 821.2,132.5 824.2,87.5 828.0,122.5 831.2,127.5 835.0,133.2 838.8,135.5 842.5,135.8 846.2,132.5 849.2,127.5 852.5,139.2 856.2,137.5 859.5,132.5 863.2,135.8 866.8,133.8 870.0,136.2 874.2,134.2 877.5,138.8 881.2,87.5 885.0,121.8 888.2,131.8 892.0,137.5 895.8,135.0 899.2,131.8 903.0,135.0 906.2,140.0 909.5,137.5 913.2,139.2 917.0,138.8 920.5,135.0 924.2,138.8 927.5,140.5 931.2,139.2 935.0,100.0 938.8,102.5 942.0,130.0 945.8,135.8 949.2,139.5 952.5,140.0 955.8,135.5 959.5,139.2 963.2,141.2 966.2,140.5 969.5,134.2 973.8,139.2" fill="none" stroke="#0072BD" stroke-width="3.1" stroke-linejoin="round" stroke-linecap="round"/>
<polyline points="588.2,322.0 591.8,321.2 595.0,331.2 598.8,333.8 602.5,337.5 606.2,342.0 609.5,337.5 613.0,338.0 616.2,341.2 620.0,339.5 623.8,341.2 627.5,342.0 631.2,341.2 634.5,343.8 638.0,338.8 641.8,342.0 645.0,342.0 648.8,343.0 652.5,345.0 656.2,345.0 659.5,343.8 663.2,317.0 667.0,336.2 670.5,343.8 673.8,347.5 677.5,351.2 681.2,342.0 684.5,346.2 688.0,349.5 691.8,347.5 695.0,340.0 698.8,339.5 702.5,342.5 706.2,344.5 709.5,343.8 713.2,347.0 716.8,346.2 720.0,347.5 722.0,338.0 725.5,345.0 728.8,342.0 732.5,345.0 736.2,345.5 740.0,343.8 745.0,350.0 748.8,342.5 752.0,320.5 755.8,336.2 759.5,345.0 763.2,343.8 766.8,343.0 770.0,342.0 773.8,348.8 777.5,348.8 781.2,344.5 785.0,345.0 788.2,335.0 791.8,341.2 795.0,345.0 798.8,349.5 802.5,349.5 806.2,348.8 810.0,347.0 813.8,348.8 817.5,348.8 821.2,348.8 824.5,327.5 828.0,340.0 831.2,346.2 835.0,350.0 838.8,347.5 842.5,350.8 846.2,350.0 849.2,347.5 852.5,351.2 856.2,352.0 859.5,348.8 863.2,350.5 866.8,352.0 870.0,350.0 873.8,348.0 877.5,350.0 881.2,330.0 885.0,342.5 888.2,350.0 892.0,351.2 895.8,350.0 899.2,349.5 903.0,349.5 906.2,351.2 909.5,353.0 913.2,353.8 917.0,354.5 920.5,352.5 924.2,352.0 927.5,352.5 931.2,353.0 935.0,331.2 938.8,336.2 942.0,349.5 945.8,350.0 949.2,352.5 952.5,353.0 955.8,350.0 959.5,356.2 963.2,352.0 966.2,356.2 969.5,355.0 973.8,354.5" fill="none" stroke="#D95319" stroke-width="3.1" stroke-linejoin="round" stroke-linecap="round"/>
<polyline points="587.5,223.8 590.0,222.5 593.0,230.0 596.2,246.2 600.0,251.2 603.8,253.8 607.5,253.0 610.0,256.2 613.0,252.0 616.2,253.8 620.0,257.0 623.0,256.2 626.2,260.0 630.0,255.5 633.8,259.5 637.5,252.5 641.2,256.2 645.0,260.0 648.0,258.0 652.0,260.0 655.8,263.8 659.5,256.2 663.2,232.5 667.0,251.2 670.5,260.0 673.8,264.5 677.5,264.5 681.2,263.8 684.5,267.5 688.0,264.5 691.8,266.2 695.0,252.0 698.8,260.0 702.5,263.8 706.2,265.5 709.5,267.0 713.2,267.0 716.8,265.5 720.5,264.5 723.8,257.0 727.5,263.8 731.2,262.5 734.5,263.8 738.0,265.0 741.8,262.5 745.0,266.2 748.8,257.5 752.5,231.8 755.8,253.8 759.5,263.8 763.2,267.0 766.8,265.5 770.0,262.0 773.8,263.8 777.5,267.0 781.2,265.5 785.0,264.5 788.2,255.5 791.8,265.5 795.0,267.0 798.8,267.5 802.5,267.5 806.2,270.5 810.0,265.5 813.8,271.2 817.5,265.5 821.2,253.8 824.5,251.2 828.0,263.8 831.2,268.8 835.0,272.5 838.8,270.5 842.5,268.8 846.2,271.2 849.2,268.0 852.5,272.5 856.2,273.8 859.5,272.5 863.2,275.0 866.8,273.8 870.0,272.5 873.8,271.2 877.5,260.0 881.2,251.2 885.0,263.8 888.2,271.2 892.0,269.5 895.8,267.5 899.2,272.5 903.0,268.0 906.2,270.0 909.5,275.0 913.2,271.2 917.0,275.0 920.5,276.2 924.2,276.2 927.5,275.0 931.2,272.5 935.0,240.8 938.8,258.8 942.0,272.5 945.8,268.8 949.2,273.8 952.5,275.0 955.8,273.8 959.5,273.8 963.2,276.2 966.2,278.8 969.5,275.0 973.8,278.0" fill="none" stroke="#EDB120" stroke-width="3.1" stroke-linejoin="round" stroke-linecap="round"/>
<polyline points="587.5,280.0 591.2,300.0 595.0,312.5 598.8,316.2 602.5,315.5 606.2,320.0 609.5,318.8 613.0,315.5 616.2,322.5 620.0,318.0 623.8,320.0 627.5,321.2 631.2,322.5 634.5,323.0 638.0,315.5 641.8,322.5 645.0,322.5 648.8,323.8 652.5,323.8 656.2,328.8 659.5,307.5 663.2,272.0 667.0,312.5 670.5,321.2 673.8,323.8 677.5,327.5 681.2,328.8 684.5,327.5 688.0,328.8 691.8,328.8 695.0,312.5 698.8,323.8 702.5,321.2 706.2,330.0 709.5,327.5 713.2,330.0 716.8,327.5 720.5,325.0 723.8,324.5 727.5,326.2 731.2,325.0 734.5,328.8 738.0,328.0 741.8,330.0 745.0,328.8 748.8,310.0 752.0,291.2 755.8,317.5 759.5,328.8 763.2,329.5 766.8,328.0 770.0,328.0 773.8,330.5 777.5,332.0 781.2,332.0 785.0,332.0 788.2,319.5 791.8,330.0 795.0,331.2 798.8,336.2 802.5,331.2 806.2,333.8 810.0,329.5 813.8,337.5 817.5,327.5 821.2,308.8 824.5,309.5 828.0,325.0 831.2,331.2 835.0,335.0 838.8,333.8 842.5,336.2 846.2,332.5 849.2,330.5 852.5,336.2 856.2,337.0 859.5,334.5 863.2,336.2 866.8,337.5 870.0,336.2 873.8,333.8 877.5,311.2 881.2,307.5 885.0,323.8 888.2,333.8 892.0,336.2 895.8,337.5 899.2,332.5 903.0,337.0 906.2,338.8 909.5,340.0 913.2,341.2 917.0,343.0 920.5,338.8 924.2,337.5 927.5,337.5 931.2,338.8 935.0,296.2 938.8,320.0 942.0,333.8 945.8,338.8 949.2,340.0 952.5,340.5 955.8,336.2 959.5,338.8 963.2,342.5 966.2,343.0 969.5,342.5 973.8,340.0" fill="none" stroke="#7E2F8E" stroke-width="3.1" stroke-linejoin="round" stroke-linecap="round"/>
<polyline points="587.5,242.0 591.2,282.5 595.0,298.8 598.8,303.0 602.5,301.2 606.2,308.8 609.5,308.0 613.0,302.0 616.2,309.5 620.0,306.2 623.8,307.5 627.5,310.0 631.2,310.0 634.5,309.5 638.0,302.5 641.8,311.2 645.0,312.0 648.8,312.0 652.5,312.5 656.2,311.2 658.5,241.2 660.5,241.2 663.2,275.0 667.0,300.0 670.5,309.5 673.8,315.0 677.5,308.8 681.2,311.2 684.5,312.5 688.0,316.2 691.8,317.5 695.0,286.2 698.8,307.5 702.5,309.5 706.2,312.5 709.5,314.5 713.2,314.5 716.8,316.2 720.0,298.8 723.8,310.0 727.5,310.5 731.2,310.0 734.5,313.8 738.0,313.0 741.8,316.2 745.0,315.0 748.8,282.5 751.2,268.8 755.8,297.5 759.5,310.0 763.2,307.5 766.8,310.0 770.0,315.0 773.8,318.8 777.5,317.5 781.2,315.5 785.0,310.0 788.2,301.2 791.8,312.5 795.0,315.5 798.8,319.5 802.5,317.5 806.2,318.8 810.0,317.0 813.8,317.5 817.5,317.0 819.5,250.0 821.5,250.0 824.5,298.8 828.0,303.8 831.2,311.2 835.0,317.5 838.8,320.0 842.5,320.0 845.5,308.0 849.2,316.2 852.5,323.8 856.2,321.2 859.5,317.0 863.2,322.0 866.8,317.5 870.0,320.0 873.8,317.5 876.5,252.0 878.5,252.0 881.2,296.2 885.0,310.0 888.2,322.5 892.0,320.0 895.8,321.2 899.2,320.0 903.0,321.2 906.2,320.5 909.5,322.5 913.2,323.0 917.0,323.8 920.5,323.8 924.2,323.8 927.5,323.8 931.2,321.2 935.0,267.5 938.8,302.5 942.0,317.5 945.8,323.8 949.2,322.5 952.5,322.0 955.8,316.2 959.5,320.0 963.2,325.0 966.2,326.2 969.5,323.8 973.8,315.5" fill="none" stroke="#77AC30" stroke-width="3.1" stroke-linejoin="round" stroke-linecap="round"/>
<polyline points="587.5,233.8 591.2,242.5 595.0,260.0 598.8,264.5 602.5,266.2 606.2,268.8 609.5,268.8 613.0,265.5 616.2,269.5 620.0,268.0 623.8,270.0 627.5,272.0 631.2,271.2 634.5,272.5 638.0,266.2 641.8,271.2 645.0,272.5 648.8,273.0 652.5,274.5 656.2,275.0 660.0,251.2 663.2,234.2 667.0,262.5 670.5,271.2 673.8,275.0 677.5,277.0 681.2,274.5 684.5,276.2 688.0,278.0 691.8,278.8 695.0,262.5 698.8,267.5 702.5,272.5 706.2,275.5 709.5,277.0 713.2,277.5 716.8,277.0 720.5,273.8 723.8,268.8 727.5,273.8 731.2,273.0 734.5,274.5 738.0,275.0 741.8,274.5 745.0,278.0 748.8,262.5 752.5,241.2 755.8,265.0 759.5,274.5 763.2,273.0 766.8,273.8 770.0,273.8 773.8,280.0 777.5,280.5 781.2,277.5 785.0,277.0 788.2,265.5 791.8,275.0 795.0,276.2 798.8,281.2 802.5,280.0 806.2,281.2 810.0,278.0 813.8,281.2 817.5,276.2 821.2,260.0 824.5,255.0 828.0,268.8 831.2,277.5 835.0,281.2 838.8,281.2 842.5,283.0 846.2,278.8 849.2,278.0 852.5,284.5 856.2,284.5 859.5,281.2 863.2,283.8 866.8,282.5 870.0,282.0 873.8,281.2 877.5,267.5 881.2,255.0 885.0,272.5 888.2,281.2 892.0,282.0 895.8,283.0 899.2,281.2 903.0,282.0 906.2,285.0 909.5,285.5 913.2,285.5 917.0,287.0 920.5,285.5 924.2,286.2 927.5,286.2 931.2,286.2 935.0,245.0 938.8,267.5 942.0,280.5 945.8,283.8 949.2,285.0 952.5,285.5 955.8,282.5 959.5,286.2 963.2,287.5 966.2,288.8 969.5,286.2 973.8,286.2" fill="none" stroke="#000000" stroke-width="3.2" stroke-linejoin="round" stroke-linecap="round"/>
</g>
<rect x="584.40" y="30.90" width="389.80" height="347.10" fill="none" stroke="#262626" stroke-width="3.5"/>
<line x1="649.25" y1="30.90" x2="649.25" y2="36.40" stroke="#262626" stroke-width="3.5" stroke-linecap="butt"/>
<line x1="649.25" y1="378.00" x2="649.25" y2="372.50" stroke="#262626" stroke-width="3.5" stroke-linecap="butt"/>
<line x1="714.25" y1="30.90" x2="714.25" y2="36.40" stroke="#262626" stroke-width="3.5" stroke-linecap="butt"/>
<line x1="714.25" y1="378.00" x2="714.25" y2="372.50" stroke="#262626" stroke-width="3.5" stroke-linecap="butt"/>
<line x1="779.25" y1="30.90" x2="779.25" y2="36.40" stroke="#262626" stroke-width="3.5" stroke-linecap="butt"/>
<line x1="779.25" y1="378.00" x2="779.25" y2="372.50" stroke="#262626" stroke-width="3.5" stroke-linecap="butt"/>
<line x1="844.25" y1="30.90" x2="844.25" y2="36.40" stroke="#262626" stroke-width="3.5" stroke-linecap="butt"/>
<line x1="844.25" y1="378.00" x2="844.25" y2="372.50" stroke="#262626" stroke-width="3.5" stroke-linecap="butt"/>
<line x1="909.25" y1="30.90" x2="909.25" y2="36.40" stroke="#262626" stroke-width="3.5" stroke-linecap="butt"/>
<line x1="909.25" y1="378.00" x2="909.25" y2="372.50" stroke="#262626" stroke-width="3.5" stroke-linecap="butt"/>
<line x1="584.40" y1="328.50" x2="589.90" y2="328.50" stroke="#262626" stroke-width="3.5" stroke-linecap="butt"/>
<line x1="974.20" y1="328.50" x2="968.70" y2="328.50" stroke="#262626" stroke-width="3.5" stroke-linecap="butt"/>
<line x1="584.40" y1="279.00" x2="589.90" y2="279.00" stroke="#262626" stroke-width="3.5" stroke-linecap="butt"/>
<line x1="974.20" y1="279.00" x2="968.70" y2="279.00" stroke="#262626" stroke-width="3.5" stroke-linecap="butt"/>
<line x1="584.40" y1="229.50" x2="589.90" y2="229.50" stroke="#262626" stroke-width="3.5" stroke-linecap="butt"/>
<line x1="974.20" y1="229.50" x2="968.70" y2="229.50" stroke="#262626" stroke-width="3.5" stroke-linecap="butt"/>
<line x1="584.40" y1="180.00" x2="589.90" y2="180.00" stroke="#262626" stroke-width="3.5" stroke-linecap="butt"/>
<line x1="974.20" y1="180.00" x2="968.70" y2="180.00" stroke="#262626" stroke-width="3.5" stroke-linecap="butt"/>
<line x1="584.40" y1="130.50" x2="589.90" y2="130.50" stroke="#262626" stroke-width="3.5" stroke-linecap="butt"/>
<line x1="974.20" y1="130.50" x2="968.70" y2="130.50" stroke="#262626" stroke-width="3.5" stroke-linecap="butt"/>
<line x1="584.40" y1="81.00" x2="589.90" y2="81.00" stroke="#262626" stroke-width="3.5" stroke-linecap="butt"/>
<line x1="974.20" y1="81.00" x2="968.70" y2="81.00" stroke="#262626" stroke-width="3.5" stroke-linecap="butt"/>
<text x="569.30" y="46.49" font-size="26.5" text-anchor="end" fill="#262626" stroke="#262626" stroke-width="0.3" >220</text>
<text x="569.30" y="94.06" font-size="26.5" text-anchor="end" fill="#262626" stroke="#262626" stroke-width="0.3" >200</text>
<text x="569.30" y="141.63" font-size="26.5" text-anchor="end" fill="#262626" stroke="#262626" stroke-width="0.3" >180</text>
<text x="569.30" y="189.20" font-size="26.5" text-anchor="end" fill="#262626" stroke="#262626" stroke-width="0.3" >160</text>
<text x="569.30" y="236.77" font-size="26.5" text-anchor="end" fill="#262626" stroke="#262626" stroke-width="0.3" >140</text>
<text x="569.30" y="284.34" font-size="26.5" text-anchor="end" fill="#262626" stroke="#262626" stroke-width="0.3" >120</text>
<text x="569.30" y="331.91" font-size="26.5" text-anchor="end" fill="#262626" stroke="#262626" stroke-width="0.3" >100</text>
<text x="569.30" y="379.48" font-size="26.5" text-anchor="end" fill="#262626" stroke="#262626" stroke-width="0.3" >80</text>
<text x="580.80" y="412.19" font-size="26.5" text-anchor="middle" fill="#262626" stroke="#262626" stroke-width="0.3" >0</text>
<text x="645.85" y="412.19" font-size="26.5" text-anchor="middle" fill="#262626" stroke="#262626" stroke-width="0.3" >50</text>
<text x="710.90" y="412.19" font-size="26.5" text-anchor="middle" fill="#262626" stroke="#262626" stroke-width="0.3" >100</text>
<text x="775.95" y="412.19" font-size="26.5" text-anchor="middle" fill="#262626" stroke="#262626" stroke-width="0.3" >150</text>
<text x="841.00" y="412.19" font-size="26.5" text-anchor="middle" fill="#262626" stroke="#262626" stroke-width="0.3" >200</text>
<text x="906.05" y="412.19" font-size="26.5" text-anchor="middle" fill="#262626" stroke="#262626" stroke-width="0.3" >250</text>
<text x="971.10" y="412.19" font-size="26.5" text-anchor="middle" fill="#262626" stroke="#262626" stroke-width="0.3" >300</text>
<text x="779.50" y="444.50" font-size="26.5" text-anchor="middle" fill="#262626" stroke="#262626" stroke-width="0.3" >Time / sec</text>
<text x="508.00" y="192.70" font-size="26.5" text-anchor="middle" fill="#262626" stroke="#262626" stroke-width="0.3" transform="rotate(-90 508.00 192.70)" >Intensity / a.u.</text>
<text x="777.50" y="21.00" font-size="25.5" text-anchor="middle" fill="#000" stroke="#000" stroke-width="0.3" >Ctrl.<tspan font-size="15" dy="-9.5">2</tspan></text>
<clipPath id="cbr"><rect x="1074.3" y="31.2" width="392.29999999999995" height="346.8"/></clipPath>
<g clip-path="url(#cbr)">
<polyline points="1078.0,353.8 1081.2,357.5 1085.0,359.5 1088.0,357.5 1091.8,371.2 1095.0,351.2 1098.8,362.0 1102.5,356.2 1106.2,351.2 1110.0,350.0 1113.8,356.2 1117.5,359.5 1121.2,350.0 1124.2,349.5 1128.0,349.5 1131.8,352.5 1135.0,343.8 1138.8,350.0 1142.5,359.5 1146.2,356.2 1149.5,348.0 1153.0,356.2 1156.8,355.0 1160.5,357.0 1164.2,358.0 1167.5,337.0 1171.2,356.2 1174.5,362.0 1178.0,356.2 1181.8,351.2 1185.5,353.8 1188.8,357.0 1192.5,355.0 1195.8,363.0 1199.2,348.8 1202.5,362.0 1206.2,356.2 1210.0,356.2 1213.8,357.0 1217.5,354.5 1221.2,351.2 1224.5,357.5 1228.0,352.0 1231.8,355.0 1235.5,352.0 1239.2,350.5 1242.5,352.5 1246.2,358.0 1249.5,354.5 1253.0,354.5 1256.8,360.5 1260.0,347.5 1263.8,355.5 1267.5,355.5 1271.2,352.5 1275.0,352.0 1278.8,355.0 1282.5,357.5 1286.2,351.2 1289.5,352.5 1292.5,363.8 1296.2,356.2 1300.0,355.0 1303.8,358.0 1307.5,361.2 1311.2,357.0 1314.2,352.5 1317.5,362.5 1321.2,352.0 1324.5,357.0 1328.0,359.5 1331.8,353.8 1335.0,361.2 1338.8,355.0 1342.5,357.5 1346.2,345.0 1350.0,348.0 1353.0,347.0 1356.8,356.2 1360.0,353.8 1363.8,359.5 1367.5,348.0 1371.2,355.5 1374.5,355.5 1378.0,343.8 1381.8,353.8 1385.0,350.0 1388.8,348.0 1392.5,357.0 1396.2,357.0 1400.0,350.0 1403.0,355.0 1406.8,352.5 1410.0,352.0 1413.8,358.8 1417.5,353.8 1421.2,352.5 1424.5,355.0 1428.0,357.5 1431.8,349.5 1435.5,353.0 1438.8,353.8 1442.5,355.0 1446.2,357.0 1450.0,355.0 1453.8,354.5 1457.5,357.5 1461.2,353.8 1464.5,354.5" fill="none" stroke="#0072BD" stroke-width="3.1" stroke-linejoin="round" stroke-linecap="round"/>
<polyline points="1078.0,42.0 1081.2,45.5 1085.0,50.0 1088.0,51.2 1091.8,64.5 1095.0,48.8 1098.8,43.8 1102.5,47.5 1106.2,48.0 1110.0,44.5 1113.8,46.2 1117.5,52.5 1121.2,45.0 1124.2,52.5 1128.0,55.0 1131.8,47.5 1135.5,52.5 1139.2,47.0 1142.5,53.0 1146.2,58.8 1150.0,48.8 1153.0,46.2 1156.8,57.0 1160.5,49.5 1164.2,48.8 1167.5,40.5 1171.2,47.5 1175.0,52.5 1178.8,55.5 1182.5,53.8 1186.2,54.5 1190.0,60.0 1193.0,65.5 1196.2,65.5 1199.2,51.2 1202.5,63.8 1206.2,55.5 1210.0,59.5 1213.8,54.5 1217.5,56.2 1221.2,51.2 1224.5,55.5 1228.0,51.2 1231.8,57.0 1235.5,56.2 1239.2,60.0 1242.5,57.5 1246.2,61.2 1249.5,67.0 1253.0,64.5 1256.8,61.2 1260.0,47.5 1263.8,58.8 1267.5,58.0 1271.2,58.8 1275.0,60.0 1278.8,58.8 1282.5,60.0 1286.2,63.0 1290.0,60.0 1293.0,60.0 1296.8,57.5 1300.5,62.0 1303.8,63.8 1307.5,70.0 1311.2,67.0 1314.2,56.2 1317.5,70.0 1321.2,58.0 1324.5,65.5 1328.0,67.0 1331.8,60.0 1335.0,70.5 1338.8,62.0 1342.5,60.0 1346.2,58.0 1350.0,62.0 1353.0,61.2 1356.8,57.0 1360.5,56.2 1363.8,65.5 1367.5,52.5 1371.2,61.2 1374.5,65.5 1378.0,58.0 1381.8,60.0 1385.0,61.2 1388.8,67.0 1392.5,69.5 1396.2,63.0 1400.0,58.0 1403.0,71.2 1406.8,59.5 1410.5,66.2 1413.8,69.5 1417.5,67.0 1421.2,58.8 1424.5,63.8 1428.0,62.5 1431.8,60.5 1435.5,58.8 1438.8,61.2 1442.5,60.5 1446.2,63.0 1450.0,64.5 1453.8,62.5 1457.5,67.5 1461.2,65.5 1464.5,60.0" fill="none" stroke="#D95319" stroke-width="3.1" stroke-linejoin="round" stroke-linecap="round"/>
<polyline points="1078.0,151.6 1081.2,156.4 1085.0,153.1 1088.0,153.6 1091.8,160.1 1095.0,159.2 1098.8,158.3 1102.5,163.7 1106.2,156.5 1110.0,158.0 1113.8,164.2 1117.5,164.6 1121.2,165.9 1124.2,159.9 1128.0,162.2 1131.8,163.1 1135.5,161.6 1139.2,167.2 1142.5,165.0 1146.2,165.7 1150.0,165.3 1153.0,161.1 1156.8,164.5 1160.5,164.3 1164.2,164.0 1167.5,165.2 1171.2,163.2 1175.0,170.5 1178.8,165.2 1182.5,164.6 1186.2,166.8 1190.0,166.7 1193.0,169.5 1196.2,165.4 1199.2,156.6 1202.5,169.3 1206.2,169.8 1210.0,170.5 1213.8,168.9 1217.5,165.0 1221.2,165.2 1224.5,170.2 1228.0,167.1 1231.8,170.6 1235.5,167.3 1239.2,171.4 1242.5,172.5 1246.2,173.9 1249.5,171.5 1253.0,169.7 1256.8,175.3 1260.0,173.6 1263.8,172.3 1267.5,168.1 1271.2,169.4 1275.0,173.0 1278.8,170.5 1282.5,175.9 1286.2,175.4 1290.0,170.5 1293.0,176.7 1296.8,173.4 1300.5,176.7 1303.8,173.8 1307.5,174.0 1311.2,168.7 1314.2,175.5 1317.5,172.2 1321.2,175.4 1324.5,173.0 1328.0,171.6 1331.8,171.4 1335.0,172.3 1338.8,167.9 1342.5,171.2 1346.2,175.5 1350.0,174.1 1353.0,172.8 1356.8,170.6 1360.5,178.1 1363.8,178.2 1367.5,170.8 1371.2,170.8 1374.5,170.6 1378.0,171.6 1381.8,176.2 1385.0,175.0 1388.8,174.4 1392.5,176.2 1396.2,173.0 1400.0,179.4 1403.0,174.3 1406.8,172.5 1410.5,173.6 1413.8,179.7 1417.5,171.6 1421.2,179.9 1424.5,179.0 1428.0,177.3 1431.8,178.2 1435.5,184.5 1438.8,175.4 1442.5,175.3 1446.2,173.1 1450.0,176.5 1453.8,174.2 1457.5,180.7 1461.2,180.3 1464.5,173.2" fill="none" stroke="#EDB120" stroke-width="3.1" stroke-linejoin="round" stroke-linecap="round"/>
<polyline points="1078.0,129.5 1081.2,135.2 1085.0,131.7 1088.0,129.0 1091.8,145.7 1095.0,129.6 1098.8,130.4 1102.5,144.2 1106.2,140.7 1110.0,137.5 1113.8,131.7 1117.5,132.6 1121.2,141.8 1124.2,136.3 1128.0,135.4 1131.8,130.1 1135.5,139.1 1139.2,145.2 1142.5,144.5 1146.2,140.0 1150.0,134.0 1153.0,142.8 1156.8,143.7 1160.5,142.8 1164.2,158.3 1167.5,152.9 1171.2,144.5 1175.0,152.9 1178.8,146.4 1182.5,156.4 1186.2,148.2 1190.0,155.6 1193.0,150.2 1196.2,153.7 1199.2,157.3 1202.5,163.5 1206.2,167.4 1210.0,154.2 1213.8,154.9 1217.5,151.0 1221.2,153.6 1224.5,159.7 1228.0,148.1 1231.8,154.3 1235.5,152.6 1239.2,159.2 1242.5,159.1 1246.2,154.6 1249.5,160.0 1253.0,156.1 1256.8,161.5 1260.0,160.7 1263.8,161.5 1267.5,152.8 1271.2,162.7 1275.0,157.5 1278.8,157.9 1282.5,161.7 1286.2,157.5 1290.0,156.6 1293.0,162.0 1296.8,162.8 1300.5,166.2 1303.8,156.9 1307.5,154.8 1311.2,160.1 1314.2,153.0 1317.5,166.2 1321.2,163.5 1324.5,162.5 1328.0,163.3 1331.8,163.2 1335.0,155.9 1338.8,160.4 1342.5,158.4 1346.2,146.9 1350.0,162.3 1353.0,162.1 1356.8,162.4 1360.5,157.5 1363.8,163.0 1367.5,157.7 1371.2,162.1 1374.5,159.3 1378.0,159.0 1381.8,153.9 1385.0,163.6 1388.8,160.9 1392.5,161.2 1396.2,158.2 1400.0,154.6 1403.0,154.2 1406.8,159.1 1410.5,161.5 1413.8,160.8 1417.5,164.0 1421.2,156.1 1424.5,160.2 1428.0,158.4 1431.8,160.2 1435.5,159.3 1438.8,161.8 1442.5,163.2 1446.2,157.7 1450.0,165.2 1453.8,157.1 1457.5,158.4 1461.2,165.9 1464.5,157.8" fill="none" stroke="#7E2F8E" stroke-width="3.1" stroke-linejoin="round" stroke-linecap="round"/>
<polyline points="1078.0,156.8 1081.2,157.6 1085.0,158.8 1088.0,168.0 1091.8,181.7 1095.0,169.6 1098.8,171.8 1102.5,173.0 1106.2,181.1 1110.0,175.6 1113.8,179.9 1117.5,180.7 1121.2,178.0 1124.2,182.0 1128.0,189.3 1131.8,185.1 1135.5,192.6 1139.2,186.6 1142.5,190.2 1146.2,194.2 1150.0,187.4 1153.0,189.5 1156.8,198.1 1160.5,190.4 1164.2,200.1 1167.5,200.9 1171.2,190.2 1175.0,193.7 1178.8,195.4 1182.5,198.6 1186.2,204.5 1190.0,204.2 1193.0,199.8 1196.2,204.8 1199.2,198.5 1202.5,202.0 1206.2,199.2 1210.0,208.9 1213.8,204.4 1217.5,202.8 1221.2,211.4 1224.5,202.2 1228.0,204.6 1231.8,207.2 1235.5,200.9 1239.2,209.2 1242.5,201.2 1246.2,204.0 1249.5,213.6 1253.0,210.7 1256.8,202.0 1260.0,205.9 1263.8,208.1 1267.5,205.7 1271.2,207.0 1275.0,211.2 1278.8,207.8 1282.5,212.3 1286.2,206.0 1290.0,214.8 1293.0,207.3 1296.8,212.7 1300.5,216.4 1303.8,208.5 1307.5,215.6 1311.2,213.4 1314.2,212.5 1317.5,215.7 1321.2,209.6 1324.5,216.6 1328.0,213.6 1331.8,215.2 1335.0,209.6 1338.8,219.2 1342.5,212.9 1346.2,213.7 1350.0,211.1 1353.0,212.0 1356.8,206.1 1360.5,213.6 1363.8,207.4 1367.5,215.6 1371.2,214.0 1374.5,206.9 1378.0,213.4 1381.8,211.0 1385.0,208.2 1388.8,222.0 1392.5,208.9 1396.2,208.7 1400.0,208.8 1403.0,218.0 1406.8,212.8 1410.5,209.0 1413.8,213.3 1417.5,216.0 1421.2,214.1 1424.5,209.7 1428.0,216.4 1431.8,210.5 1435.5,215.3 1438.8,214.7 1442.5,215.1 1446.2,219.1 1450.0,221.3 1453.8,216.6 1457.5,217.8 1461.2,214.3 1464.5,220.2" fill="none" stroke="#77AC30" stroke-width="3.1" stroke-linejoin="round" stroke-linecap="round"/>
<polyline points="1078.0,137.3 1081.2,144.9 1085.0,145.4 1088.0,148.1 1091.8,152.4 1095.0,151.4 1098.8,147.8 1102.5,148.6 1106.2,148.5 1110.0,149.5 1113.8,152.8 1117.5,152.3 1121.2,159.1 1124.2,154.1 1128.0,156.8 1131.8,159.9 1135.5,159.6 1139.2,160.6 1142.5,164.5 1146.2,167.9 1150.0,164.1 1153.0,164.3 1156.8,159.3 1160.5,169.6 1164.2,164.7 1167.5,162.4 1171.2,164.1 1175.0,167.5 1178.8,172.6 1182.5,166.1 1186.2,170.9 1190.0,169.9 1193.0,172.2 1196.2,170.3 1199.2,180.5 1202.5,170.8 1206.2,173.9 1210.0,171.3 1213.8,173.1 1217.5,175.8 1221.2,176.1 1224.5,173.3 1228.0,175.4 1231.8,179.3 1235.5,172.4 1239.2,179.9 1242.5,168.9 1246.2,181.6 1249.5,182.7 1253.0,173.7 1256.8,181.2 1260.0,180.0 1263.8,179.2 1267.5,180.5 1271.2,183.8 1275.0,176.6 1278.8,183.6 1282.5,184.6 1286.2,182.5 1290.0,178.2 1293.0,178.8 1296.8,183.2 1300.5,185.3 1303.8,179.4 1307.5,186.7 1311.2,183.6 1314.2,186.8 1317.5,181.5 1321.2,185.9 1324.5,182.7 1328.0,180.5 1331.8,176.0 1335.0,185.3 1338.8,185.0 1342.5,181.4 1346.2,185.9 1350.0,177.7 1353.0,183.3 1356.8,180.3 1360.5,177.5 1363.8,181.7 1367.5,175.8 1371.2,175.7 1374.5,181.3 1378.0,177.8 1381.8,181.4 1385.0,179.2 1388.8,177.2 1392.5,186.1 1396.2,179.8 1400.0,176.5 1403.0,184.9 1406.8,183.9 1410.5,178.8 1413.8,177.5 1417.5,179.4 1421.2,180.1 1424.5,183.2 1428.0,177.7 1431.8,180.2 1435.5,183.8 1438.8,174.2 1442.5,181.4 1446.2,179.4 1450.0,179.1 1453.8,179.4 1457.5,177.2 1461.2,181.0 1464.5,176.2" fill="none" stroke="#4DBEEE" stroke-width="3.1" stroke-linejoin="round" stroke-linecap="round"/>
<polyline points="1078.0,159.6 1081.2,165.0 1085.0,163.8 1088.0,168.6 1091.8,179.5 1095.0,169.1 1098.8,168.6 1102.5,175.3 1106.2,171.0 1110.0,174.2 1113.8,174.0 1117.5,171.6 1121.2,171.7 1124.2,171.8 1128.0,178.9 1131.8,179.5 1135.5,177.1 1139.2,183.0 1142.5,179.6 1146.2,177.7 1150.0,177.6 1153.0,180.7 1156.8,176.1 1160.5,176.7 1164.2,176.8 1167.5,171.7 1171.2,178.5 1175.0,183.5 1178.8,182.4 1182.5,182.9 1186.2,180.9 1190.0,182.6 1193.0,183.5 1196.2,185.5 1199.2,178.2 1202.5,185.6 1206.2,182.9 1210.0,185.6 1213.8,185.6 1217.5,183.4 1221.2,184.4 1224.5,183.6 1228.0,190.9 1231.8,185.7 1235.5,186.4 1239.2,184.1 1242.5,185.5 1246.2,190.7 1249.5,186.1 1253.0,191.3 1256.8,190.4 1260.0,189.2 1263.8,192.3 1267.5,189.3 1271.2,188.5 1275.0,193.2 1278.8,192.1 1282.5,193.5 1286.2,188.7 1290.0,190.6 1293.0,184.4 1296.8,188.0 1300.5,189.5 1303.8,189.1 1307.5,193.6 1311.2,192.7 1314.2,187.1 1317.5,195.8 1321.2,189.9 1324.5,193.0 1328.0,194.8 1331.8,196.6 1335.0,190.9 1338.8,194.5 1342.5,187.4 1346.2,193.7 1350.0,187.2 1353.0,189.5 1356.8,192.7 1360.5,197.7 1363.8,186.0 1367.5,192.1 1371.2,191.9 1374.5,191.5 1378.0,190.2 1381.8,187.3 1385.0,185.6 1388.8,196.2 1392.5,192.9 1396.2,189.4 1400.0,189.2 1403.0,187.0 1406.8,194.2 1410.5,192.6 1413.8,191.4 1417.5,191.1 1421.2,188.5 1424.5,192.5 1428.0,191.5 1431.8,195.6 1435.5,194.8 1438.8,190.3 1442.5,195.8 1446.2,194.7 1450.0,190.1 1453.8,192.0 1457.5,189.0 1461.2,194.8 1464.5,190.9" fill="none" stroke="#000000" stroke-width="3.2" stroke-linejoin="round" stroke-linecap="round"/>
</g>
<rect x="1074.30" y="31.20" width="390.30" height="346.80" fill="none" stroke="#262626" stroke-width="3.5"/>
<line x1="1139.50" y1="31.20" x2="1139.50" y2="36.70" stroke="#262626" stroke-width="3.5" stroke-linecap="butt"/>
<line x1="1139.50" y1="378.00" x2="1139.50" y2="372.50" stroke="#262626" stroke-width="3.5" stroke-linecap="butt"/>
<line x1="1204.50" y1="31.20" x2="1204.50" y2="36.70" stroke="#262626" stroke-width="3.5" stroke-linecap="butt"/>
<line x1="1204.50" y1="378.00" x2="1204.50" y2="372.50" stroke="#262626" stroke-width="3.5" stroke-linecap="butt"/>
<line x1="1269.50" y1="31.20" x2="1269.50" y2="36.70" stroke="#262626" stroke-width="3.5" stroke-linecap="butt"/>
<line x1="1269.50" y1="378.00" x2="1269.50" y2="372.50" stroke="#262626" stroke-width="3.5" stroke-linecap="butt"/>
<line x1="1334.50" y1="31.20" x2="1334.50" y2="36.70" stroke="#262626" stroke-width="3.5" stroke-linecap="butt"/>
<line x1="1334.50" y1="378.00" x2="1334.50" y2="372.50" stroke="#262626" stroke-width="3.5" stroke-linecap="butt"/>
<line x1="1399.50" y1="31.20" x2="1399.50" y2="36.70" stroke="#262626" stroke-width="3.5" stroke-linecap="butt"/>
<line x1="1399.50" y1="378.00" x2="1399.50" y2="372.50" stroke="#262626" stroke-width="3.5" stroke-linecap="butt"/>
<line x1="1074.30" y1="334.65" x2="1079.80" y2="334.65" stroke="#262626" stroke-width="3.5" stroke-linecap="butt"/>
<line x1="1464.60" y1="334.65" x2="1459.10" y2="334.65" stroke="#262626" stroke-width="3.5" stroke-linecap="butt"/>
<line x1="1074.30" y1="291.30" x2="1079.80" y2="291.30" stroke="#262626" stroke-width="3.5" stroke-linecap="butt"/>
<line x1="1464.60" y1="291.30" x2="1459.10" y2="291.30" stroke="#262626" stroke-width="3.5" stroke-linecap="butt"/>
<line x1="1074.30" y1="247.95" x2="1079.80" y2="247.95" stroke="#262626" stroke-width="3.5" stroke-linecap="butt"/>
<line x1="1464.60" y1="247.95" x2="1459.10" y2="247.95" stroke="#262626" stroke-width="3.5" stroke-linecap="butt"/>
<line x1="1074.30" y1="204.60" x2="1079.80" y2="204.60" stroke="#262626" stroke-width="3.5" stroke-linecap="butt"/>
<line x1="1464.60" y1="204.60" x2="1459.10" y2="204.60" stroke="#262626" stroke-width="3.5" stroke-linecap="butt"/>
<line x1="1074.30" y1="161.25" x2="1079.80" y2="161.25" stroke="#262626" stroke-width="3.5" stroke-linecap="butt"/>
<line x1="1464.60" y1="161.25" x2="1459.10" y2="161.25" stroke="#262626" stroke-width="3.5" stroke-linecap="butt"/>
<line x1="1074.30" y1="117.90" x2="1079.80" y2="117.90" stroke="#262626" stroke-width="3.5" stroke-linecap="butt"/>
<line x1="1464.60" y1="117.90" x2="1459.10" y2="117.90" stroke="#262626" stroke-width="3.5" stroke-linecap="butt"/>
<line x1="1074.30" y1="74.55" x2="1079.80" y2="74.55" stroke="#262626" stroke-width="3.5" stroke-linecap="butt"/>
<line x1="1464.60" y1="74.55" x2="1459.10" y2="74.55" stroke="#262626" stroke-width="3.5" stroke-linecap="butt"/>
<text x="1061.50" y="55.99" font-size="26.5" text-anchor="end" fill="#262626" stroke="#262626" stroke-width="0.3" >200</text>
<text x="1061.50" y="96.95" font-size="26.5" text-anchor="end" fill="#262626" stroke="#262626" stroke-width="0.3" >115</text>
<text x="1061.50" y="137.91" font-size="26.5" text-anchor="end" fill="#262626" stroke="#262626" stroke-width="0.3" >110</text>
<text x="1061.50" y="178.87" font-size="26.5" text-anchor="end" fill="#262626" stroke="#262626" stroke-width="0.3" >105</text>
<text x="1061.50" y="219.83" font-size="26.5" text-anchor="end" fill="#262626" stroke="#262626" stroke-width="0.3" >100</text>
<text x="1061.50" y="260.79" font-size="26.5" text-anchor="end" fill="#262626" stroke="#262626" stroke-width="0.3" >95</text>
<text x="1061.50" y="301.75" font-size="26.5" text-anchor="end" fill="#262626" stroke="#262626" stroke-width="0.3" >90</text>
<text x="1061.50" y="342.71" font-size="26.5" text-anchor="end" fill="#262626" stroke="#262626" stroke-width="0.3" >85</text>
<text x="1061.50" y="383.67" font-size="26.5" text-anchor="end" fill="#262626" stroke="#262626" stroke-width="0.3" >80</text>
<text x="1065.00" y="414.29" font-size="26.5" text-anchor="middle" fill="#262626" stroke="#262626" stroke-width="0.3" >0</text>
<text x="1130.40" y="414.29" font-size="26.5" text-anchor="middle" fill="#262626" stroke="#262626" stroke-width="0.3" >50</text>
<text x="1195.80" y="414.29" font-size="26.5" text-anchor="middle" fill="#262626" stroke="#262626" stroke-width="0.3" >100</text>
<text x="1261.20" y="414.29" font-size="26.5" text-anchor="middle" fill="#262626" stroke="#262626" stroke-width="0.3" >150</text>
<text x="1326.60" y="414.29" font-size="26.5" text-anchor="middle" fill="#262626" stroke="#262626" stroke-width="0.3" >200</text>
<text x="1392.00" y="414.29" font-size="26.5" text-anchor="middle" fill="#262626" stroke="#262626" stroke-width="0.3" >250</text>
<text x="1457.40" y="414.29" font-size="26.5" text-anchor="middle" fill="#262626" stroke="#262626" stroke-width="0.3" >300</text>
<text x="1262.50" y="446.50" font-size="26.5" text-anchor="middle" fill="#262626" stroke="#262626" stroke-width="0.3" >Time / sec</text>
<text x="1007.00" y="203.00" font-size="26.5" text-anchor="middle" fill="#262626" stroke="#262626" stroke-width="0.3" transform="rotate(-90 1007.00 203.00)" >Intensity / a.u.</text>
<text x="1261.80" y="21.70" font-size="25.5" text-anchor="middle" fill="#000" stroke="#000" stroke-width="0.3" >NRXN1<tspan font-size="15" dy="-9.5">del2</tspan></text>
<line x1="598.00" y1="465.10" x2="598.00" y2="803.65" stroke="#000" stroke-width="3.3" stroke-linecap="butt"/>
<line x1="583.75" y1="802.00" x2="822.00" y2="802.00" stroke="#000" stroke-width="3.3" stroke-linecap="butt"/>
<line x1="583.75" y1="466.75" x2="598.00" y2="466.75" stroke="#000" stroke-width="3.3" stroke-linecap="butt"/>
<line x1="583.75" y1="579.00" x2="598.00" y2="579.00" stroke="#000" stroke-width="3.3" stroke-linecap="butt"/>
<line x1="583.75" y1="690.50" x2="598.00" y2="690.50" stroke="#000" stroke-width="3.3" stroke-linecap="butt"/>
<line x1="661.25" y1="802.00" x2="661.25" y2="817.50" stroke="#000" stroke-width="3.3" stroke-linecap="butt"/>
<line x1="757.50" y1="802.00" x2="757.50" y2="817.50" stroke="#000" stroke-width="3.3" stroke-linecap="butt"/>
<text x="578.50" y="476.26" font-size="26.0" text-anchor="end" fill="#000" stroke="#000" stroke-width="0.3" >1.5</text>
<text x="578.50" y="588.51" font-size="26.0" text-anchor="end" fill="#000" stroke="#000" stroke-width="0.3" >1.0</text>
<text x="578.50" y="700.01" font-size="26.0" text-anchor="end" fill="#000" stroke="#000" stroke-width="0.3" >0.5</text>
<text x="578.50" y="811.51" font-size="26.0" text-anchor="end" fill="#000" stroke="#000" stroke-width="0.3" >0.0</text>
<text x="522.50" y="630.50" font-size="24.8" text-anchor="middle" fill="#000" stroke="#000" stroke-width="0.3" transform="rotate(-90 522.50 630.50)" >Sync firing rate (min<tspan font-size="14.5" dy="-9.5">-1</tspan><tspan dy="9.5" font-size="24.8">)</tspan></text>
<circle cx="661.25" cy="579.00" r="5.4" fill="#000"/>
<circle cx="657.25" cy="623.80" r="5.4" fill="#000"/>
<circle cx="665.25" cy="623.80" r="5.4" fill="#000"/>
<circle cx="645.35" cy="668.60" r="5.4" fill="#000"/>
<circle cx="650.65" cy="668.60" r="5.4" fill="#000"/>
<circle cx="655.95" cy="668.60" r="5.4" fill="#000"/>
<circle cx="661.25" cy="668.60" r="5.4" fill="#000"/>
<circle cx="666.55" cy="668.60" r="5.4" fill="#000"/>
<circle cx="671.85" cy="668.60" r="5.4" fill="#000"/>
<circle cx="677.15" cy="668.60" r="5.4" fill="#000"/>
<circle cx="635.40" cy="713.40" r="5.4" fill="#000"/>
<circle cx="640.70" cy="713.40" r="5.4" fill="#000"/>
<circle cx="646.00" cy="713.40" r="5.4" fill="#000"/>
<circle cx="651.30" cy="713.40" r="5.4" fill="#000"/>
<circle cx="656.60" cy="713.40" r="5.4" fill="#000"/>
<circle cx="661.90" cy="713.40" r="5.4" fill="#000"/>
<circle cx="667.20" cy="713.40" r="5.4" fill="#000"/>
<circle cx="672.50" cy="713.40" r="5.4" fill="#000"/>
<circle cx="677.80" cy="713.40" r="5.4" fill="#000"/>
<circle cx="683.10" cy="713.40" r="5.4" fill="#000"/>
<circle cx="688.40" cy="713.40" r="5.4" fill="#000"/>
<circle cx="640.45" cy="758.20" r="5.4" fill="#000"/>
<circle cx="645.65" cy="758.20" r="5.4" fill="#000"/>
<circle cx="650.85" cy="758.20" r="5.4" fill="#000"/>
<circle cx="656.05" cy="758.20" r="5.4" fill="#000"/>
<circle cx="661.25" cy="758.20" r="5.4" fill="#000"/>
<circle cx="666.45" cy="758.20" r="5.4" fill="#000"/>
<circle cx="671.65" cy="758.20" r="5.4" fill="#000"/>
<circle cx="676.85" cy="758.20" r="5.4" fill="#000"/>
<circle cx="682.05" cy="758.20" r="5.4" fill="#000"/>
<line x1="629.90" y1="705.50" x2="693.90" y2="705.50" stroke="#000" stroke-width="3.0" stroke-linecap="butt"/>
<line x1="644.40" y1="697.00" x2="679.40" y2="697.00" stroke="#000" stroke-width="3.0" stroke-linecap="butt"/>
<line x1="644.40" y1="714.00" x2="679.40" y2="714.00" stroke="#000" stroke-width="3.0" stroke-linecap="butt"/>
<line x1="661.90" y1="697.00" x2="661.90" y2="714.00" stroke="#000" stroke-width="3.0" stroke-linecap="butt"/>
<circle cx="730.55" cy="758.20" r="5.4" fill="#ED1C24"/>
<circle cx="735.45" cy="758.20" r="5.4" fill="#ED1C24"/>
<circle cx="740.35" cy="758.20" r="5.4" fill="#ED1C24"/>
<circle cx="745.25" cy="758.20" r="5.4" fill="#ED1C24"/>
<circle cx="750.15" cy="758.20" r="5.4" fill="#ED1C24"/>
<circle cx="755.05" cy="758.20" r="5.4" fill="#ED1C24"/>
<circle cx="759.95" cy="758.20" r="5.4" fill="#ED1C24"/>
<circle cx="764.85" cy="758.20" r="5.4" fill="#ED1C24"/>
<circle cx="769.75" cy="758.20" r="5.4" fill="#ED1C24"/>
<circle cx="774.65" cy="758.20" r="5.4" fill="#ED1C24"/>
<circle cx="779.55" cy="758.20" r="5.4" fill="#ED1C24"/>
<circle cx="784.45" cy="758.20" r="5.4" fill="#ED1C24"/>
<path d="M661.90 560.00 V538.90 H757.90 V739.50" fill="none" stroke="#000" stroke-width="3.4" stroke-linejoin="miter"/>
<text x="709.80" y="534.56" font-size="37.5" text-anchor="middle" font-family="'DejaVu Sans', sans-serif" font-weight="bold" stroke="#000" stroke-width="1.4" stroke-linejoin="miter" letter-spacing="0.9">****</text>
<text x="655.60" y="844.50" font-size="26" text-anchor="middle" fill="#000" stroke="#000" stroke-width="0.3" >Ctrl.<tspan font-size="15" dy="-11">2</tspan></text>
<text x="767.80" y="844.50" font-size="26" text-anchor="middle" fill="#000" stroke="#000" stroke-width="0.3" >NRXN1<tspan font-size="15" dy="-11">del2</tspan></text>
<line x1="959.25" y1="468.85" x2="959.25" y2="804.65" stroke="#000" stroke-width="3.3" stroke-linecap="butt"/>
<line x1="945.00" y1="803.00" x2="1180.00" y2="803.00" stroke="#000" stroke-width="3.3" stroke-linecap="butt"/>
<line x1="945.00" y1="470.50" x2="959.25" y2="470.50" stroke="#000" stroke-width="3.3" stroke-linecap="butt"/>
<line x1="945.00" y1="537.50" x2="959.25" y2="537.50" stroke="#000" stroke-width="3.3" stroke-linecap="butt"/>
<line x1="945.00" y1="604.25" x2="959.25" y2="604.25" stroke="#000" stroke-width="3.3" stroke-linecap="butt"/>
<line x1="945.00" y1="670.75" x2="959.25" y2="670.75" stroke="#000" stroke-width="3.3" stroke-linecap="butt"/>
<line x1="945.00" y1="737.50" x2="959.25" y2="737.50" stroke="#000" stroke-width="3.3" stroke-linecap="butt"/>
<line x1="1021.25" y1="803.00" x2="1021.25" y2="818.50" stroke="#000" stroke-width="3.3" stroke-linecap="butt"/>
<line x1="1116.75" y1="803.00" x2="1116.75" y2="818.50" stroke="#000" stroke-width="3.3" stroke-linecap="butt"/>
<text x="940.00" y="480.01" font-size="26.0" text-anchor="end" fill="#000" stroke="#000" stroke-width="0.3" >0.25</text>
<text x="940.00" y="547.01" font-size="26.0" text-anchor="end" fill="#000" stroke="#000" stroke-width="0.3" >0.20</text>
<text x="940.00" y="613.76" font-size="26.0" text-anchor="end" fill="#000" stroke="#000" stroke-width="0.3" >0.15</text>
<text x="940.00" y="680.26" font-size="26.0" text-anchor="end" fill="#000" stroke="#000" stroke-width="0.3" >0.10</text>
<text x="940.00" y="747.01" font-size="26.0" text-anchor="end" fill="#000" stroke="#000" stroke-width="0.3" >0.05</text>
<text x="940.00" y="812.51" font-size="26.0" text-anchor="end" fill="#000" stroke="#000" stroke-width="0.3" >0.00</text>
<text x="866.50" y="648.00" font-size="24.8" text-anchor="middle" fill="#000" stroke="#000" stroke-width="0.3" transform="rotate(-90 866.50 648.00)" >Amplitude ( <tspan font-weight="bold">Δ</tspan>F/F<tspan font-size="14.5" dy="6">0</tspan><tspan dy="-6" font-size="24.8">)</tspan></text>
<circle cx="1016.10" cy="577.40" r="5.4" fill="#000"/>
<circle cx="1026.90" cy="577.40" r="5.4" fill="#000"/>
<circle cx="1021.50" cy="590.70" r="5.4" fill="#000"/>
<circle cx="1021.50" cy="604.00" r="5.4" fill="#000"/>
<circle cx="1021.50" cy="630.60" r="5.4" fill="#000"/>
<circle cx="1016.10" cy="643.90" r="5.4" fill="#000"/>
<circle cx="1026.90" cy="643.90" r="5.4" fill="#000"/>
<circle cx="1010.70" cy="670.50" r="5.4" fill="#000"/>
<circle cx="1021.50" cy="670.50" r="5.4" fill="#000"/>
<circle cx="1032.30" cy="670.50" r="5.4" fill="#000"/>
<circle cx="1016.10" cy="683.80" r="5.4" fill="#000"/>
<circle cx="1026.90" cy="683.80" r="5.4" fill="#000"/>
<circle cx="1021.50" cy="697.10" r="5.4" fill="#000"/>
<circle cx="1016.10" cy="710.40" r="5.4" fill="#000"/>
<circle cx="1026.90" cy="710.40" r="5.4" fill="#000"/>
<circle cx="994.50" cy="723.70" r="5.4" fill="#000"/>
<circle cx="1005.30" cy="723.70" r="5.4" fill="#000"/>
<circle cx="1016.10" cy="723.70" r="5.4" fill="#000"/>
<circle cx="1026.90" cy="723.70" r="5.4" fill="#000"/>
<circle cx="1037.70" cy="723.70" r="5.4" fill="#000"/>
<circle cx="1048.50" cy="723.70" r="5.4" fill="#000"/>
<circle cx="1010.70" cy="737.00" r="5.4" fill="#000"/>
<circle cx="1021.50" cy="737.00" r="5.4" fill="#000"/>
<circle cx="1032.30" cy="737.00" r="5.4" fill="#000"/>
<circle cx="1016.10" cy="750.30" r="5.4" fill="#000"/>
<circle cx="1026.90" cy="750.30" r="5.4" fill="#000"/>
<circle cx="1016.10" cy="763.60" r="5.4" fill="#000"/>
<circle cx="1026.90" cy="763.60" r="5.4" fill="#000"/>
<circle cx="1021.50" cy="790.20" r="5.4" fill="#000"/>
<line x1="989.50" y1="695.00" x2="1053.50" y2="695.00" stroke="#000" stroke-width="3.0" stroke-linecap="butt"/>
<line x1="1004.00" y1="683.75" x2="1039.00" y2="683.75" stroke="#000" stroke-width="3.0" stroke-linecap="butt"/>
<line x1="1004.00" y1="705.50" x2="1039.00" y2="705.50" stroke="#000" stroke-width="3.0" stroke-linecap="butt"/>
<line x1="1021.50" y1="683.75" x2="1021.50" y2="705.50" stroke="#000" stroke-width="3.0" stroke-linecap="butt"/>
<circle cx="1117.00" cy="510.90" r="5.4" fill="#ED1C24"/>
<circle cx="1117.00" cy="524.20" r="5.4" fill="#ED1C24"/>
<circle cx="1117.00" cy="564.10" r="5.4" fill="#ED1C24"/>
<circle cx="1117.00" cy="643.90" r="5.4" fill="#ED1C24"/>
<circle cx="1108.10" cy="657.20" r="5.4" fill="#ED1C24"/>
<circle cx="1125.90" cy="657.20" r="5.4" fill="#ED1C24"/>
<circle cx="1108.10" cy="670.50" r="5.4" fill="#ED1C24"/>
<circle cx="1125.90" cy="670.50" r="5.4" fill="#ED1C24"/>
<circle cx="1117.00" cy="683.80" r="5.4" fill="#ED1C24"/>
<circle cx="1090.15" cy="697.10" r="5.4" fill="#ED1C24"/>
<circle cx="1108.05" cy="697.10" r="5.4" fill="#ED1C24"/>
<circle cx="1125.95" cy="697.10" r="5.4" fill="#ED1C24"/>
<circle cx="1143.85" cy="697.10" r="5.4" fill="#ED1C24"/>
<circle cx="1108.10" cy="710.40" r="5.4" fill="#ED1C24"/>
<circle cx="1125.90" cy="710.40" r="5.4" fill="#ED1C24"/>
<circle cx="1099.20" cy="723.70" r="5.4" fill="#ED1C24"/>
<circle cx="1117.00" cy="723.70" r="5.4" fill="#ED1C24"/>
<circle cx="1134.80" cy="723.70" r="5.4" fill="#ED1C24"/>
<circle cx="1117.00" cy="737.00" r="5.4" fill="#ED1C24"/>
<circle cx="1099.20" cy="750.30" r="5.4" fill="#ED1C24"/>
<circle cx="1117.00" cy="750.30" r="5.4" fill="#ED1C24"/>
<circle cx="1134.80" cy="750.30" r="5.4" fill="#ED1C24"/>
<circle cx="1117.00" cy="776.90" r="5.4" fill="#ED1C24"/>
<line x1="1085.00" y1="684.50" x2="1149.00" y2="684.50" stroke="#000" stroke-width="3.0" stroke-linecap="butt"/>
<line x1="1099.50" y1="669.50" x2="1134.50" y2="669.50" stroke="#000" stroke-width="3.0" stroke-linecap="butt"/>
<line x1="1099.50" y1="698.75" x2="1134.50" y2="698.75" stroke="#000" stroke-width="3.0" stroke-linecap="butt"/>
<line x1="1117.00" y1="669.50" x2="1117.00" y2="698.75" stroke="#000" stroke-width="3.0" stroke-linecap="butt"/>
<text x="1018.50" y="844.50" font-size="26" text-anchor="middle" fill="#000" stroke="#000" stroke-width="0.3" >Ctrl.<tspan font-size="15" dy="-11">2</tspan></text>
<text x="1130.50" y="844.50" font-size="26" text-anchor="middle" fill="#000" stroke="#000" stroke-width="0.3" >NRXN1<tspan font-size="15" dy="-11">del2</tspan></text>
<line x1="1282.50" y1="469.60" x2="1282.50" y2="805.40" stroke="#000" stroke-width="3.3" stroke-linecap="butt"/>
<line x1="1268.25" y1="803.75" x2="1503.75" y2="803.75" stroke="#000" stroke-width="3.3" stroke-linecap="butt"/>
<line x1="1268.25" y1="471.25" x2="1282.50" y2="471.25" stroke="#000" stroke-width="3.3" stroke-linecap="butt"/>
<line x1="1268.25" y1="554.50" x2="1282.50" y2="554.50" stroke="#000" stroke-width="3.3" stroke-linecap="butt"/>
<line x1="1268.25" y1="638.00" x2="1282.50" y2="638.00" stroke="#000" stroke-width="3.3" stroke-linecap="butt"/>
<line x1="1268.25" y1="721.25" x2="1282.50" y2="721.25" stroke="#000" stroke-width="3.3" stroke-linecap="butt"/>
<line x1="1344.25" y1="803.75" x2="1344.25" y2="819.25" stroke="#000" stroke-width="3.3" stroke-linecap="butt"/>
<line x1="1439.25" y1="803.75" x2="1439.25" y2="819.25" stroke="#000" stroke-width="3.3" stroke-linecap="butt"/>
<text x="1262.50" y="480.76" font-size="26.0" text-anchor="end" fill="#000" stroke="#000" stroke-width="0.3" >0.8</text>
<text x="1262.50" y="564.01" font-size="26.0" text-anchor="end" fill="#000" stroke="#000" stroke-width="0.3" >0.6</text>
<text x="1262.50" y="647.51" font-size="26.0" text-anchor="end" fill="#000" stroke="#000" stroke-width="0.3" >0.4</text>
<text x="1262.50" y="730.76" font-size="26.0" text-anchor="end" fill="#000" stroke="#000" stroke-width="0.3" >0.2</text>
<text x="1262.50" y="813.26" font-size="26.0" text-anchor="end" fill="#000" stroke="#000" stroke-width="0.3" >0.0</text>
<text x="1209.00" y="618.00" font-size="24.8" text-anchor="middle" fill="#000" stroke="#000" stroke-width="0.3" transform="rotate(-90 1209.00 618.00)" >Frequency(min<tspan font-size="14.5" dy="-9.5">-1</tspan><tspan dy="9.5" font-size="24.8">)</tspan></text>
<circle cx="1358.00" cy="538.27" r="5.4" fill="#000"/>
<circle cx="1345.00" cy="542.42" r="5.4" fill="#000"/>
<circle cx="1318.50" cy="554.89" r="5.4" fill="#000"/>
<circle cx="1331.75" cy="554.89" r="5.4" fill="#000"/>
<circle cx="1345.00" cy="554.89" r="5.4" fill="#000"/>
<circle cx="1358.25" cy="554.89" r="5.4" fill="#000"/>
<circle cx="1371.50" cy="554.89" r="5.4" fill="#000"/>
<circle cx="1345.00" cy="571.51" r="5.4" fill="#000"/>
<circle cx="1331.70" cy="588.14" r="5.4" fill="#000"/>
<circle cx="1345.00" cy="588.14" r="5.4" fill="#000"/>
<circle cx="1358.30" cy="588.14" r="5.4" fill="#000"/>
<circle cx="1331.70" cy="604.76" r="5.4" fill="#000"/>
<circle cx="1345.00" cy="604.76" r="5.4" fill="#000"/>
<circle cx="1358.30" cy="604.76" r="5.4" fill="#000"/>
<circle cx="1371.50" cy="611.00" r="5.4" fill="#000"/>
<circle cx="1331.70" cy="621.39" r="5.4" fill="#000"/>
<circle cx="1345.00" cy="621.39" r="5.4" fill="#000"/>
<circle cx="1358.30" cy="621.39" r="5.4" fill="#000"/>
<circle cx="1331.70" cy="638.01" r="5.4" fill="#000"/>
<circle cx="1345.00" cy="638.01" r="5.4" fill="#000"/>
<circle cx="1358.30" cy="638.01" r="5.4" fill="#000"/>
<circle cx="1325.20" cy="654.63" r="5.4" fill="#000"/>
<circle cx="1338.40" cy="654.63" r="5.4" fill="#000"/>
<circle cx="1351.60" cy="654.63" r="5.4" fill="#000"/>
<circle cx="1364.80" cy="654.63" r="5.4" fill="#000"/>
<circle cx="1338.40" cy="671.26" r="5.4" fill="#000"/>
<circle cx="1351.60" cy="671.26" r="5.4" fill="#000"/>
<circle cx="1345.00" cy="687.88" r="5.4" fill="#000"/>
<circle cx="1345.00" cy="708.66" r="5.4" fill="#000"/>
<circle cx="1345.00" cy="721.13" r="5.4" fill="#000"/>
<line x1="1313.00" y1="616.25" x2="1377.00" y2="616.25" stroke="#000" stroke-width="3.0" stroke-linecap="butt"/>
<line x1="1327.50" y1="607.50" x2="1362.50" y2="607.50" stroke="#000" stroke-width="3.0" stroke-linecap="butt"/>
<line x1="1327.50" y1="625.00" x2="1362.50" y2="625.00" stroke="#000" stroke-width="3.0" stroke-linecap="butt"/>
<line x1="1345.00" y1="607.50" x2="1345.00" y2="625.00" stroke="#000" stroke-width="3.0" stroke-linecap="butt"/>
<circle cx="1440.00" cy="605.59" r="5.4" fill="#ED1C24"/>
<circle cx="1430.00" cy="638.01" r="5.4" fill="#ED1C24"/>
<circle cx="1440.00" cy="638.01" r="5.4" fill="#ED1C24"/>
<circle cx="1450.00" cy="638.01" r="5.4" fill="#ED1C24"/>
<circle cx="1449.00" cy="650.48" r="5.4" fill="#ED1C24"/>
<circle cx="1440.00" cy="655.47" r="5.4" fill="#ED1C24"/>
<circle cx="1431.00" cy="671.26" r="5.4" fill="#ED1C24"/>
<circle cx="1440.00" cy="671.26" r="5.4" fill="#ED1C24"/>
<circle cx="1449.00" cy="671.26" r="5.4" fill="#ED1C24"/>
<circle cx="1431.00" cy="687.88" r="5.4" fill="#ED1C24"/>
<circle cx="1440.00" cy="687.88" r="5.4" fill="#ED1C24"/>
<circle cx="1449.00" cy="687.88" r="5.4" fill="#ED1C24"/>
<circle cx="1413.00" cy="704.51" r="5.4" fill="#ED1C24"/>
<circle cx="1422.00" cy="704.51" r="5.4" fill="#ED1C24"/>
<circle cx="1431.00" cy="704.51" r="5.4" fill="#ED1C24"/>
<circle cx="1440.00" cy="704.51" r="5.4" fill="#ED1C24"/>
<circle cx="1449.00" cy="704.51" r="5.4" fill="#ED1C24"/>
<circle cx="1458.00" cy="704.51" r="5.4" fill="#ED1C24"/>
<circle cx="1467.00" cy="704.51" r="5.4" fill="#ED1C24"/>
<circle cx="1417.50" cy="721.13" r="5.4" fill="#ED1C24"/>
<circle cx="1426.50" cy="721.13" r="5.4" fill="#ED1C24"/>
<circle cx="1435.50" cy="721.13" r="5.4" fill="#ED1C24"/>
<circle cx="1444.50" cy="721.13" r="5.4" fill="#ED1C24"/>
<circle cx="1453.50" cy="721.13" r="5.4" fill="#ED1C24"/>
<circle cx="1462.50" cy="721.13" r="5.4" fill="#ED1C24"/>
<line x1="1408.00" y1="687.00" x2="1472.00" y2="687.00" stroke="#000" stroke-width="3.0" stroke-linecap="butt"/>
<line x1="1422.50" y1="680.00" x2="1457.50" y2="680.00" stroke="#000" stroke-width="3.0" stroke-linecap="butt"/>
<line x1="1422.50" y1="694.00" x2="1457.50" y2="694.00" stroke="#000" stroke-width="3.0" stroke-linecap="butt"/>
<line x1="1440.00" y1="680.00" x2="1440.00" y2="694.00" stroke="#000" stroke-width="3.0" stroke-linecap="butt"/>
<path d="M1344.60 519.50 V499.00 H1439.80 V585.75" fill="none" stroke="#000" stroke-width="3.4" stroke-linejoin="miter"/>
<text x="1392.50" y="497.06" font-size="37.5" text-anchor="middle" font-family="'DejaVu Sans', sans-serif" font-weight="bold" stroke="#000" stroke-width="1.4" stroke-linejoin="miter" letter-spacing="0.9">****</text>
<text x="1346.50" y="844.50" font-size="26" text-anchor="middle" fill="#000" stroke="#000" stroke-width="0.3" >Ctrl.<tspan font-size="15" dy="-11">2</tspan></text>
<text x="1458.50" y="844.50" font-size="26" text-anchor="middle" fill="#000" stroke="#000" stroke-width="0.3" >NRXN1<tspan font-size="15" dy="-11">del2</tspan></text>
<line x1="1579.00" y1="45.00" x2="1996.00" y2="45.00" stroke="#000" stroke-width="3.0" stroke-linecap="butt"/>
<line x1="1580.50" y1="17.50" x2="1580.50" y2="73.00" stroke="#000" stroke-width="3.0" stroke-linecap="butt"/>
<line x1="1643.00" y1="17.50" x2="1643.00" y2="73.00" stroke="#000" stroke-width="3.0" stroke-linecap="butt"/>
<line x1="1864.25" y1="17.50" x2="1864.25" y2="73.00" stroke="#000" stroke-width="3.0" stroke-linecap="butt"/>
<line x1="1911.25" y1="17.50" x2="1911.25" y2="73.00" stroke="#000" stroke-width="3.0" stroke-linecap="butt"/>
<line x1="1994.50" y1="17.50" x2="1994.50" y2="73.00" stroke="#000" stroke-width="3.0" stroke-linecap="butt"/>
<text x="1748.75" y="25.20" font-size="21.4" text-anchor="middle" fill="#BE1E2D" stroke="#BE1E2D" stroke-width="0.3" >Glycine (15 min)</text>
<text x="1617.70" y="69.70" font-size="21" text-anchor="end" fill="#000" stroke="#000" stroke-width="0.3" transform="rotate(-45 1617.70 69.70)" >baseline</text>
<text x="1634.90" y="78.00" font-size="21" text-anchor="end" fill="#000" stroke="#000" stroke-width="0.3" transform="rotate(-45 1634.90 78.00)" >recording</text>
<text x="1895.00" y="75.00" font-size="21" text-anchor="end" fill="#000" stroke="#000" stroke-width="0.3" transform="rotate(-45 1895.00 75.00)" >wash out</text>
<text x="1977.00" y="70.70" font-size="21" text-anchor="end" fill="#000" stroke="#000" stroke-width="0.3" transform="rotate(-45 1977.00 70.70)" >recording</text>
<text x="1995.50" y="85.00" font-size="21" text-anchor="end" fill="#000" stroke="#000" stroke-width="0.3" transform="rotate(-45 1995.50 85.00)" >(30 min post-stim)</text>
<line x1="1636.25" y1="411.60" x2="1636.25" y2="755.40" stroke="#000" stroke-width="3.3" stroke-linecap="butt"/>
<line x1="1622.50" y1="753.75" x2="1976.25" y2="753.75" stroke="#000" stroke-width="3.3" stroke-linecap="butt"/>
<line x1="1622.50" y1="413.25" x2="1636.25" y2="413.25" stroke="#000" stroke-width="3.3" stroke-linecap="butt"/>
<line x1="1622.50" y1="481.50" x2="1636.25" y2="481.50" stroke="#000" stroke-width="3.3" stroke-linecap="butt"/>
<line x1="1622.50" y1="549.50" x2="1636.25" y2="549.50" stroke="#000" stroke-width="3.3" stroke-linecap="butt"/>
<line x1="1622.50" y1="617.75" x2="1636.25" y2="617.75" stroke="#000" stroke-width="3.3" stroke-linecap="butt"/>
<line x1="1622.50" y1="685.50" x2="1636.25" y2="685.50" stroke="#000" stroke-width="3.3" stroke-linecap="butt"/>
<line x1="1688.00" y1="753.75" x2="1688.00" y2="767.75" stroke="#000" stroke-width="3.3" stroke-linecap="butt"/>
<line x1="1766.75" y1="753.75" x2="1766.75" y2="767.75" stroke="#000" stroke-width="3.3" stroke-linecap="butt"/>
<line x1="1845.25" y1="753.75" x2="1845.25" y2="767.75" stroke="#000" stroke-width="3.3" stroke-linecap="butt"/>
<line x1="1923.00" y1="753.75" x2="1923.00" y2="767.75" stroke="#000" stroke-width="3.3" stroke-linecap="butt"/>
<text x="1616.50" y="422.76" font-size="26.0" text-anchor="end" fill="#000" stroke="#000" stroke-width="0.3" >2.5</text>
<text x="1616.50" y="491.01" font-size="26.0" text-anchor="end" fill="#000" stroke="#000" stroke-width="0.3" >2.0</text>
<text x="1616.50" y="559.01" font-size="26.0" text-anchor="end" fill="#000" stroke="#000" stroke-width="0.3" >1.5</text>
<text x="1616.50" y="627.26" font-size="26.0" text-anchor="end" fill="#000" stroke="#000" stroke-width="0.3" >1.0</text>
<text x="1616.50" y="695.01" font-size="26.0" text-anchor="end" fill="#000" stroke="#000" stroke-width="0.3" >0.5</text>
<text x="1616.50" y="763.26" font-size="26.0" text-anchor="end" fill="#000" stroke="#000" stroke-width="0.3" >0.0</text>
<text x="1555.50" y="574.00" font-size="24.8" text-anchor="middle" fill="#000" stroke="#000" stroke-width="0.3" transform="rotate(-90 1555.50 574.00)" >Sync firing rate (min<tspan font-size="14.5" dy="-9.5">-1</tspan><tspan dy="9.5" font-size="24.8">)</tspan></text>
<circle cx="1683.60" cy="618.25" r="6.2" fill="#000"/>
<circle cx="1688.30" cy="618.25" r="6.2" fill="#000"/>
<circle cx="1693.00" cy="618.25" r="6.2" fill="#000"/>
<circle cx="1683.60" cy="645.51" r="6.2" fill="#000"/>
<circle cx="1688.30" cy="645.51" r="6.2" fill="#000"/>
<circle cx="1693.00" cy="645.51" r="6.2" fill="#000"/>
<circle cx="1668.70" cy="672.77" r="6.2" fill="#000"/>
<circle cx="1673.60" cy="672.77" r="6.2" fill="#000"/>
<circle cx="1678.50" cy="672.77" r="6.2" fill="#000"/>
<circle cx="1683.40" cy="672.77" r="6.2" fill="#000"/>
<circle cx="1688.30" cy="672.77" r="6.2" fill="#000"/>
<circle cx="1693.20" cy="672.77" r="6.2" fill="#000"/>
<circle cx="1698.10" cy="672.77" r="6.2" fill="#000"/>
<circle cx="1703.00" cy="672.77" r="6.2" fill="#000"/>
<circle cx="1707.90" cy="672.77" r="6.2" fill="#000"/>
<circle cx="1675.30" cy="700.03" r="6.2" fill="#000"/>
<circle cx="1680.50" cy="700.03" r="6.2" fill="#000"/>
<circle cx="1685.70" cy="700.03" r="6.2" fill="#000"/>
<circle cx="1690.90" cy="700.03" r="6.2" fill="#000"/>
<circle cx="1696.10" cy="700.03" r="6.2" fill="#000"/>
<circle cx="1701.30" cy="700.03" r="6.2" fill="#000"/>
<circle cx="1685.55" cy="727.29" r="6.2" fill="#000"/>
<circle cx="1691.05" cy="727.29" r="6.2" fill="#000"/>
<line x1="1662.30" y1="676.50" x2="1714.30" y2="676.50" stroke="#000" stroke-width="3.0" stroke-linecap="butt"/>
<line x1="1673.80" y1="670.00" x2="1702.80" y2="670.00" stroke="#000" stroke-width="3.0" stroke-linecap="butt"/>
<line x1="1673.80" y1="683.00" x2="1702.80" y2="683.00" stroke="#000" stroke-width="3.0" stroke-linecap="butt"/>
<line x1="1688.30" y1="670.00" x2="1688.30" y2="683.00" stroke="#000" stroke-width="3.0" stroke-linecap="butt"/>
<circle cx="1766.90" cy="481.95" r="6.2" fill="#000"/>
<circle cx="1766.90" cy="536.47" r="6.2" fill="#000"/>
<circle cx="1766.90" cy="563.73" r="6.2" fill="#000"/>
<circle cx="1761.50" cy="590.99" r="6.2" fill="#000"/>
<circle cx="1772.30" cy="590.99" r="6.2" fill="#000"/>
<circle cx="1747.10" cy="618.25" r="6.2" fill="#000"/>
<circle cx="1757.00" cy="618.25" r="6.2" fill="#000"/>
<circle cx="1766.90" cy="618.25" r="6.2" fill="#000"/>
<circle cx="1776.80" cy="618.25" r="6.2" fill="#000"/>
<circle cx="1786.70" cy="618.25" r="6.2" fill="#000"/>
<circle cx="1752.05" cy="645.51" r="6.2" fill="#000"/>
<circle cx="1761.95" cy="645.51" r="6.2" fill="#000"/>
<circle cx="1771.85" cy="645.51" r="6.2" fill="#000"/>
<circle cx="1781.75" cy="645.51" r="6.2" fill="#000"/>
<circle cx="1747.10" cy="672.77" r="6.2" fill="#000"/>
<circle cx="1757.00" cy="672.77" r="6.2" fill="#000"/>
<circle cx="1766.90" cy="672.77" r="6.2" fill="#000"/>
<circle cx="1776.80" cy="672.77" r="6.2" fill="#000"/>
<circle cx="1786.70" cy="672.77" r="6.2" fill="#000"/>
<circle cx="1761.50" cy="700.03" r="6.2" fill="#000"/>
<circle cx="1772.30" cy="700.03" r="6.2" fill="#000"/>
<circle cx="1756.90" cy="727.29" r="6.2" fill="#000"/>
<circle cx="1766.90" cy="727.29" r="6.2" fill="#000"/>
<circle cx="1776.90" cy="727.29" r="6.2" fill="#000"/>
<line x1="1740.90" y1="640.25" x2="1792.90" y2="640.25" stroke="#000" stroke-width="3.0" stroke-linecap="butt"/>
<line x1="1752.40" y1="627.25" x2="1781.40" y2="627.25" stroke="#000" stroke-width="3.0" stroke-linecap="butt"/>
<line x1="1752.40" y1="653.50" x2="1781.40" y2="653.50" stroke="#000" stroke-width="3.0" stroke-linecap="butt"/>
<line x1="1766.90" y1="627.25" x2="1766.90" y2="653.50" stroke="#000" stroke-width="3.0" stroke-linecap="butt"/>
<circle cx="1826.00" cy="727.29" r="6.2" fill="#ED1C24"/>
<circle cx="1830.90" cy="727.29" r="6.2" fill="#ED1C24"/>
<circle cx="1835.80" cy="727.29" r="6.2" fill="#ED1C24"/>
<circle cx="1840.70" cy="727.29" r="6.2" fill="#ED1C24"/>
<circle cx="1845.60" cy="727.29" r="6.2" fill="#ED1C24"/>
<circle cx="1850.50" cy="727.29" r="6.2" fill="#ED1C24"/>
<circle cx="1855.40" cy="727.29" r="6.2" fill="#ED1C24"/>
<circle cx="1860.30" cy="727.29" r="6.2" fill="#ED1C24"/>
<circle cx="1865.20" cy="727.29" r="6.2" fill="#ED1C24"/>
<circle cx="1903.20" cy="727.29" r="6.2" fill="#ED1C24"/>
<circle cx="1908.10" cy="727.29" r="6.2" fill="#ED1C24"/>
<circle cx="1913.00" cy="727.29" r="6.2" fill="#ED1C24"/>
<circle cx="1917.90" cy="727.29" r="6.2" fill="#ED1C24"/>
<circle cx="1922.80" cy="727.29" r="6.2" fill="#ED1C24"/>
<circle cx="1927.70" cy="727.29" r="6.2" fill="#ED1C24"/>
<circle cx="1932.60" cy="727.29" r="6.2" fill="#ED1C24"/>
<circle cx="1937.50" cy="727.29" r="6.2" fill="#ED1C24"/>
<circle cx="1942.40" cy="727.29" r="6.2" fill="#ED1C24"/>
<circle cx="1920.85" cy="700.03" r="6.2" fill="#ED1C24"/>
<circle cx="1924.35" cy="700.03" r="6.2" fill="#ED1C24"/>
<path d="M1688.30 597.75 V447.75 H1767.20 V467.75" fill="none" stroke="#000" stroke-width="3.4" stroke-linejoin="miter"/>
<text x="1730.00" y="446.56" font-size="37.5" text-anchor="middle" font-family="'DejaVu Sans', sans-serif" font-weight="bold" stroke="#000" stroke-width="1.4" stroke-linejoin="miter" letter-spacing="0.9">**</text>
<path d="M1767.20 413.25 V387.00 H1845.80 V441.50" fill="none" stroke="#000" stroke-width="3.4" stroke-linejoin="miter"/>
<text x="1806.30" y="390.36" font-size="37.5" text-anchor="middle" font-family="'DejaVu Sans', sans-serif" font-weight="bold" stroke="#000" stroke-width="1.4" stroke-linejoin="miter" letter-spacing="0.9">****</text>
<path d="M1688.30 422.50 V328.25 H1845.80 V349.50" fill="none" stroke="#000" stroke-width="3.4" stroke-linejoin="miter"/>
<text x="1767.50" y="327.56" font-size="37.5" text-anchor="middle" font-family="'DejaVu Sans', sans-serif" font-weight="bold" stroke="#000" stroke-width="1.4" stroke-linejoin="miter" letter-spacing="0.9">***</text>
<path d="M1767.20 289.50 V274.50 H1921.30 V411.50" fill="none" stroke="#000" stroke-width="3.4" stroke-linejoin="miter"/>
<text x="1838.80" y="272.56" font-size="37.5" text-anchor="middle" font-family="'DejaVu Sans', sans-serif" font-weight="bold" stroke="#000" stroke-width="1.4" stroke-linejoin="miter" letter-spacing="0.9">****</text>
<path d="M1688.30 307.00 V217.00 H1921.30 V255.00" fill="none" stroke="#000" stroke-width="3.4" stroke-linejoin="miter"/>
<text x="1812.50" y="215.56" font-size="37.5" text-anchor="middle" font-family="'DejaVu Sans', sans-serif" font-weight="bold" stroke="#000" stroke-width="1.4" stroke-linejoin="miter" letter-spacing="0.9">***</text>
<path d="M1845.80 707.50 V449.50 H1923.30 V682.50" fill="none" stroke="#000" stroke-width="3.4" stroke-linejoin="miter"/>
<text x="1885.00" y="438.50" font-size="23" text-anchor="middle" fill="#000" stroke="#000" stroke-width="0.3" >ns</text>
<text x="1696.00" y="781.00" font-size="25.6" text-anchor="end" fill="#000" stroke="#000" stroke-width="0.3" transform="rotate(-45 1696.00 781.00)" >baseline</text>
<text x="1774.75" y="781.00" font-size="25.6" text-anchor="end" fill="#000" stroke="#000" stroke-width="0.3" transform="rotate(-45 1774.75 781.00)" >post-stim.</text>
<text x="1853.25" y="781.00" font-size="25.6" text-anchor="end" fill="#ED1C24" stroke="#ED1C24" stroke-width="0.3" transform="rotate(-45 1853.25 781.00)" >baseline</text>
<text x="1931.00" y="781.00" font-size="25.6" text-anchor="end" fill="#ED1C24" stroke="#ED1C24" stroke-width="0.3" transform="rotate(-45 1931.00 781.00)" >post-stim.</text>
<line x1="1648.75" y1="872.50" x2="1748.00" y2="872.50" stroke="#000" stroke-width="3.2" stroke-linecap="butt"/>
<line x1="1810.00" y1="872.50" x2="1909.50" y2="872.50" stroke="#000" stroke-width="3.2" stroke-linecap="butt"/>
<text x="1692.00" y="902.50" font-size="26" text-anchor="middle" fill="#000" stroke="#000" stroke-width="0.3" >Ctrl.<tspan font-size="15" dy="-11">2</tspan></text>
<text x="1861.50" y="902.50" font-size="26" text-anchor="middle" fill="#000" stroke="#000" stroke-width="0.3" >NRXN1<tspan font-size="15" dy="-11">del2</tspan></text>
</svg>
</body></html>
